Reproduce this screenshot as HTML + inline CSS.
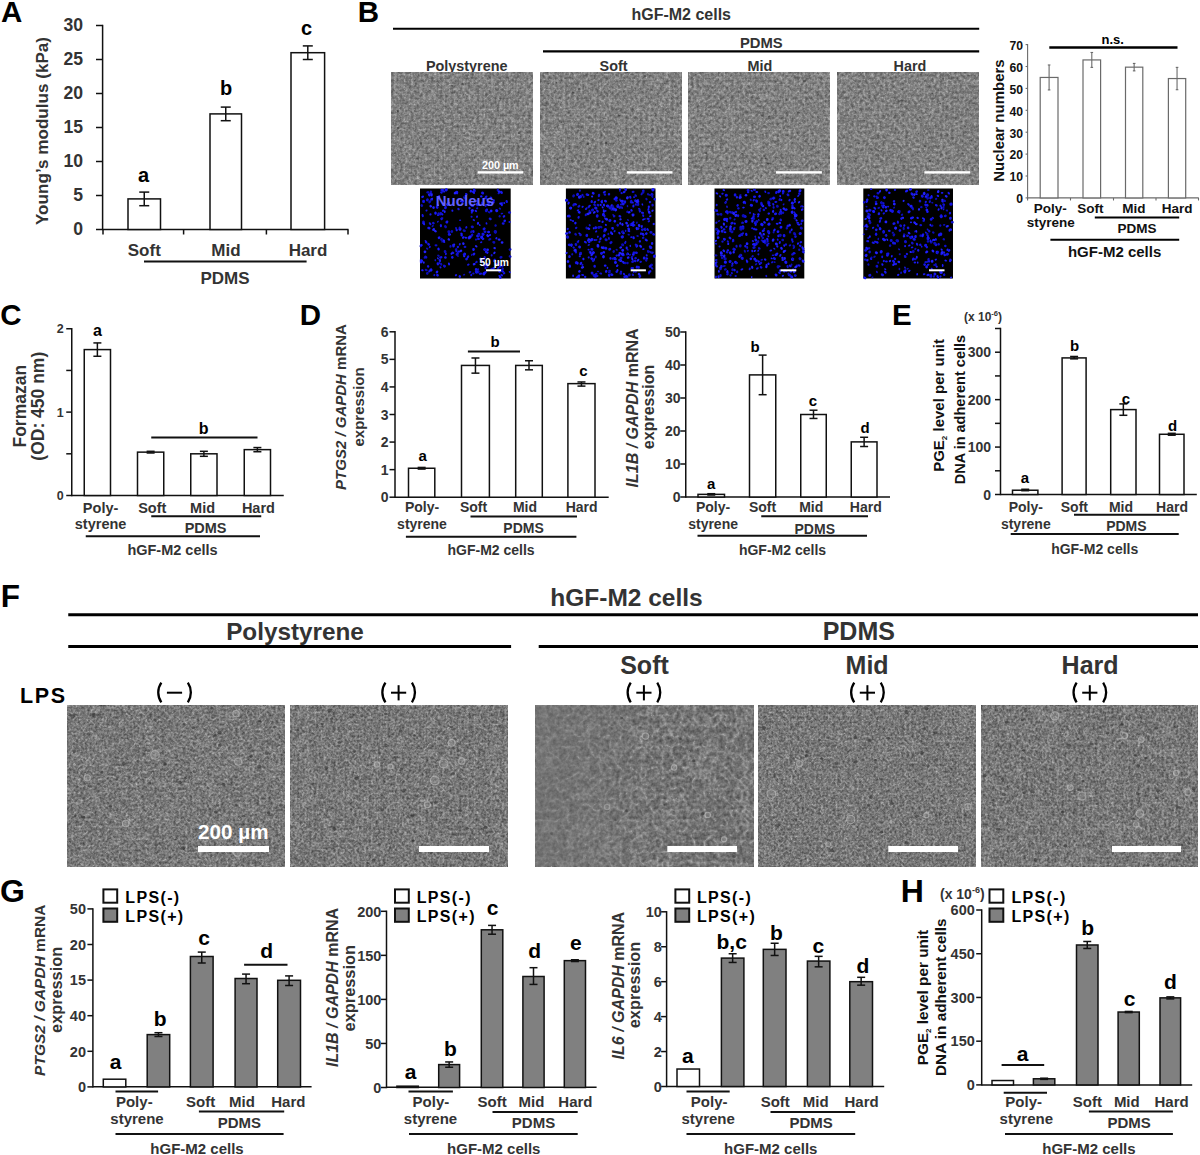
<!DOCTYPE html>
<html><head><meta charset="utf-8"><style>
html,body{margin:0;padding:0;background:#fff;}
svg{display:block;font-family:"Liberation Sans", sans-serif;}
</style></head><body>
<svg width="1200" height="1155" viewBox="0 0 1200 1155">
<defs><filter id="ph11" x="0" y="0" width="100%" height="100%" color-interpolation-filters="sRGB">
<feTurbulence type="turbulence" baseFrequency="0.2" numOctaves="2" seed="11" result="t"/>
<feColorMatrix in="t" type="matrix" values="1 0 0 0 0  1 0 0 0 0  1 0 0 0 0  0 0 0 0 1" result="tg"/>
<feComponentTransfer in="tg" result="ridge"><feFuncR type="table" tableValues="0.58 0.52 0.485 0.47 0.46 0.455 0.45 0.445 0.44 0.43"/><feFuncG type="table" tableValues="0.58 0.52 0.485 0.47 0.46 0.455 0.45 0.445 0.44 0.43"/><feFuncB type="table" tableValues="0.58 0.52 0.485 0.47 0.46 0.455 0.45 0.445 0.44 0.43"/></feComponentTransfer>
<feTurbulence type="fractalNoise" baseFrequency="0.35" numOctaves="2" seed="61" result="n"/>
<feColorMatrix in="n" type="matrix" values="0.42 0 0 0 0  0.42 0 0 0 0  0.42 0 0 0 0  0 0 0 0 1" result="ng"/>
<feComposite in="ridge" in2="ng" operator="arithmetic" k1="0" k2="1" k3="1" k4="-0.198" result="c"/>
<feGaussianBlur in="c" stdDeviation="0.6"/>
</filter><filter id="ph12" x="0" y="0" width="100%" height="100%" color-interpolation-filters="sRGB">
<feTurbulence type="turbulence" baseFrequency="0.2" numOctaves="2" seed="12" result="t"/>
<feColorMatrix in="t" type="matrix" values="1 0 0 0 0  1 0 0 0 0  1 0 0 0 0  0 0 0 0 1" result="tg"/>
<feComponentTransfer in="tg" result="ridge"><feFuncR type="table" tableValues="0.58 0.52 0.485 0.47 0.46 0.455 0.45 0.445 0.44 0.43"/><feFuncG type="table" tableValues="0.58 0.52 0.485 0.47 0.46 0.455 0.45 0.445 0.44 0.43"/><feFuncB type="table" tableValues="0.58 0.52 0.485 0.47 0.46 0.455 0.45 0.445 0.44 0.43"/></feComponentTransfer>
<feTurbulence type="fractalNoise" baseFrequency="0.35" numOctaves="2" seed="62" result="n"/>
<feColorMatrix in="n" type="matrix" values="0.42 0 0 0 0  0.42 0 0 0 0  0.42 0 0 0 0  0 0 0 0 1" result="ng"/>
<feComposite in="ridge" in2="ng" operator="arithmetic" k1="0" k2="1" k3="1" k4="-0.198" result="c"/>
<feGaussianBlur in="c" stdDeviation="0.6"/>
</filter><filter id="ph13" x="0" y="0" width="100%" height="100%" color-interpolation-filters="sRGB">
<feTurbulence type="turbulence" baseFrequency="0.2" numOctaves="2" seed="13" result="t"/>
<feColorMatrix in="t" type="matrix" values="1 0 0 0 0  1 0 0 0 0  1 0 0 0 0  0 0 0 0 1" result="tg"/>
<feComponentTransfer in="tg" result="ridge"><feFuncR type="table" tableValues="0.58 0.52 0.485 0.47 0.46 0.455 0.45 0.445 0.44 0.43"/><feFuncG type="table" tableValues="0.58 0.52 0.485 0.47 0.46 0.455 0.45 0.445 0.44 0.43"/><feFuncB type="table" tableValues="0.58 0.52 0.485 0.47 0.46 0.455 0.45 0.445 0.44 0.43"/></feComponentTransfer>
<feTurbulence type="fractalNoise" baseFrequency="0.35" numOctaves="2" seed="63" result="n"/>
<feColorMatrix in="n" type="matrix" values="0.42 0 0 0 0  0.42 0 0 0 0  0.42 0 0 0 0  0 0 0 0 1" result="ng"/>
<feComposite in="ridge" in2="ng" operator="arithmetic" k1="0" k2="1" k3="1" k4="-0.198" result="c"/>
<feGaussianBlur in="c" stdDeviation="0.6"/>
</filter><filter id="ph14" x="0" y="0" width="100%" height="100%" color-interpolation-filters="sRGB">
<feTurbulence type="turbulence" baseFrequency="0.2" numOctaves="2" seed="14" result="t"/>
<feColorMatrix in="t" type="matrix" values="1 0 0 0 0  1 0 0 0 0  1 0 0 0 0  0 0 0 0 1" result="tg"/>
<feComponentTransfer in="tg" result="ridge"><feFuncR type="table" tableValues="0.58 0.52 0.485 0.47 0.46 0.455 0.45 0.445 0.44 0.43"/><feFuncG type="table" tableValues="0.58 0.52 0.485 0.47 0.46 0.455 0.45 0.445 0.44 0.43"/><feFuncB type="table" tableValues="0.58 0.52 0.485 0.47 0.46 0.455 0.45 0.445 0.44 0.43"/></feComponentTransfer>
<feTurbulence type="fractalNoise" baseFrequency="0.35" numOctaves="2" seed="64" result="n"/>
<feColorMatrix in="n" type="matrix" values="0.42 0 0 0 0  0.42 0 0 0 0  0.42 0 0 0 0  0 0 0 0 1" result="ng"/>
<feComposite in="ridge" in2="ng" operator="arithmetic" k1="0" k2="1" k3="1" k4="-0.198" result="c"/>
<feGaussianBlur in="c" stdDeviation="0.6"/>
</filter><filter id="ph21" x="0" y="0" width="100%" height="100%" color-interpolation-filters="sRGB">
<feTurbulence type="turbulence" baseFrequency="0.15" numOctaves="2" seed="21" result="t"/>
<feColorMatrix in="t" type="matrix" values="1 0 0 0 0  1 0 0 0 0  1 0 0 0 0  0 0 0 0 1" result="tg"/>
<feComponentTransfer in="tg" result="ridge"><feFuncR type="table" tableValues="0.58 0.51 0.465 0.445 0.435 0.43 0.42 0.41 0.40 0.38"/><feFuncG type="table" tableValues="0.58 0.51 0.465 0.445 0.435 0.43 0.42 0.41 0.40 0.38"/><feFuncB type="table" tableValues="0.58 0.51 0.465 0.445 0.435 0.43 0.42 0.41 0.40 0.38"/></feComponentTransfer>
<feTurbulence type="fractalNoise" baseFrequency="0.42" numOctaves="2" seed="71" result="n"/>
<feColorMatrix in="n" type="matrix" values="0.45 0 0 0 0  0.45 0 0 0 0  0.45 0 0 0 0  0 0 0 0 1" result="ng"/>
<feComposite in="ridge" in2="ng" operator="arithmetic" k1="0" k2="1" k3="1" k4="-0.223" result="c"/>
<feGaussianBlur in="c" stdDeviation="0.45"/>
</filter><filter id="ph22" x="0" y="0" width="100%" height="100%" color-interpolation-filters="sRGB">
<feTurbulence type="turbulence" baseFrequency="0.16" numOctaves="2" seed="22" result="t"/>
<feColorMatrix in="t" type="matrix" values="1 0 0 0 0  1 0 0 0 0  1 0 0 0 0  0 0 0 0 1" result="tg"/>
<feComponentTransfer in="tg" result="ridge"><feFuncR type="table" tableValues="0.58 0.51 0.465 0.445 0.435 0.43 0.42 0.41 0.40 0.38"/><feFuncG type="table" tableValues="0.58 0.51 0.465 0.445 0.435 0.43 0.42 0.41 0.40 0.38"/><feFuncB type="table" tableValues="0.58 0.51 0.465 0.445 0.435 0.43 0.42 0.41 0.40 0.38"/></feComponentTransfer>
<feTurbulence type="fractalNoise" baseFrequency="0.42" numOctaves="2" seed="72" result="n"/>
<feColorMatrix in="n" type="matrix" values="0.45 0 0 0 0  0.45 0 0 0 0  0.45 0 0 0 0  0 0 0 0 1" result="ng"/>
<feComposite in="ridge" in2="ng" operator="arithmetic" k1="0" k2="1" k3="1" k4="-0.223" result="c"/>
<feGaussianBlur in="c" stdDeviation="0.45"/>
</filter><filter id="ph23" x="0" y="0" width="100%" height="100%" color-interpolation-filters="sRGB">
<feTurbulence type="turbulence" baseFrequency="0.095" numOctaves="2" seed="23" result="t"/>
<feColorMatrix in="t" type="matrix" values="1 0 0 0 0  1 0 0 0 0  1 0 0 0 0  0 0 0 0 1" result="tg"/>
<feComponentTransfer in="tg" result="ridge"><feFuncR type="table" tableValues="0.60 0.52 0.47 0.445 0.435 0.43 0.42 0.41 0.40 0.38"/><feFuncG type="table" tableValues="0.60 0.52 0.47 0.445 0.435 0.43 0.42 0.41 0.40 0.38"/><feFuncB type="table" tableValues="0.60 0.52 0.47 0.445 0.435 0.43 0.42 0.41 0.40 0.38"/></feComponentTransfer>
<feTurbulence type="fractalNoise" baseFrequency="0.3" numOctaves="2" seed="73" result="n"/>
<feColorMatrix in="n" type="matrix" values="0.35 0 0 0 0  0.35 0 0 0 0  0.35 0 0 0 0  0 0 0 0 1" result="ng"/>
<feComposite in="ridge" in2="ng" operator="arithmetic" k1="0" k2="1" k3="1" k4="-0.183" result="c"/>
<feGaussianBlur in="c" stdDeviation="0.45"/>
</filter><linearGradient id="softfade" x1="0" y1="0" x2="1" y2="0"><stop offset="0" stop-color="#747474" stop-opacity="0.55"/><stop offset="0.3" stop-color="#747474" stop-opacity="0.3"/><stop offset="0.55" stop-color="#747474" stop-opacity="0"/></linearGradient><filter id="ph24" x="0" y="0" width="100%" height="100%" color-interpolation-filters="sRGB">
<feTurbulence type="turbulence" baseFrequency="0.19" numOctaves="2" seed="24" result="t"/>
<feColorMatrix in="t" type="matrix" values="1 0 0 0 0  1 0 0 0 0  1 0 0 0 0  0 0 0 0 1" result="tg"/>
<feComponentTransfer in="tg" result="ridge"><feFuncR type="table" tableValues="0.58 0.51 0.465 0.445 0.435 0.43 0.42 0.41 0.40 0.38"/><feFuncG type="table" tableValues="0.58 0.51 0.465 0.445 0.435 0.43 0.42 0.41 0.40 0.38"/><feFuncB type="table" tableValues="0.58 0.51 0.465 0.445 0.435 0.43 0.42 0.41 0.40 0.38"/></feComponentTransfer>
<feTurbulence type="fractalNoise" baseFrequency="0.42" numOctaves="2" seed="74" result="n"/>
<feColorMatrix in="n" type="matrix" values="0.45 0 0 0 0  0.45 0 0 0 0  0.45 0 0 0 0  0 0 0 0 1" result="ng"/>
<feComposite in="ridge" in2="ng" operator="arithmetic" k1="0" k2="1" k3="1" k4="-0.223" result="c"/>
<feGaussianBlur in="c" stdDeviation="0.45"/>
</filter><filter id="ph25" x="0" y="0" width="100%" height="100%" color-interpolation-filters="sRGB">
<feTurbulence type="turbulence" baseFrequency="0.14" numOctaves="2" seed="25" result="t"/>
<feColorMatrix in="t" type="matrix" values="1 0 0 0 0  1 0 0 0 0  1 0 0 0 0  0 0 0 0 1" result="tg"/>
<feComponentTransfer in="tg" result="ridge"><feFuncR type="table" tableValues="0.58 0.51 0.465 0.445 0.435 0.43 0.42 0.41 0.40 0.38"/><feFuncG type="table" tableValues="0.58 0.51 0.465 0.445 0.435 0.43 0.42 0.41 0.40 0.38"/><feFuncB type="table" tableValues="0.58 0.51 0.465 0.445 0.435 0.43 0.42 0.41 0.40 0.38"/></feComponentTransfer>
<feTurbulence type="fractalNoise" baseFrequency="0.42" numOctaves="2" seed="75" result="n"/>
<feColorMatrix in="n" type="matrix" values="0.45 0 0 0 0  0.45 0 0 0 0  0.45 0 0 0 0  0 0 0 0 1" result="ng"/>
<feComposite in="ridge" in2="ng" operator="arithmetic" k1="0" k2="1" k3="1" k4="-0.223" result="c"/>
<feGaussianBlur in="c" stdDeviation="0.45"/>
</filter></defs>
<text x="1.00" y="22.00" font-size="29.5" text-anchor="start" fill="#000" font-weight="bold">A</text>
<line x1="102.60" y1="24.80" x2="102.60" y2="230.20" stroke="#111" stroke-width="1.5"/>
<line x1="102.60" y1="229.50" x2="348.50" y2="229.50" stroke="#111" stroke-width="1.5"/>
<line x1="96.00" y1="229.50" x2="102.60" y2="229.50" stroke="#111" stroke-width="1.5"/>
<text x="83.00" y="235.30" font-size="17.6" text-anchor="end" fill="#333" font-weight="bold">0</text>
<line x1="96.00" y1="195.50" x2="102.60" y2="195.50" stroke="#111" stroke-width="1.5"/>
<text x="83.00" y="201.30" font-size="17.6" text-anchor="end" fill="#333" font-weight="bold">5</text>
<line x1="96.00" y1="161.50" x2="102.60" y2="161.50" stroke="#111" stroke-width="1.5"/>
<text x="83.00" y="167.30" font-size="17.6" text-anchor="end" fill="#333" font-weight="bold">10</text>
<line x1="96.00" y1="127.50" x2="102.60" y2="127.50" stroke="#111" stroke-width="1.5"/>
<text x="83.00" y="133.30" font-size="17.6" text-anchor="end" fill="#333" font-weight="bold">15</text>
<line x1="96.00" y1="93.50" x2="102.60" y2="93.50" stroke="#111" stroke-width="1.5"/>
<text x="83.00" y="99.30" font-size="17.6" text-anchor="end" fill="#333" font-weight="bold">20</text>
<line x1="96.00" y1="59.50" x2="102.60" y2="59.50" stroke="#111" stroke-width="1.5"/>
<text x="83.00" y="65.30" font-size="17.6" text-anchor="end" fill="#333" font-weight="bold">25</text>
<line x1="96.00" y1="25.50" x2="102.60" y2="25.50" stroke="#111" stroke-width="1.5"/>
<text x="83.00" y="31.30" font-size="17.6" text-anchor="end" fill="#333" font-weight="bold">30</text>
<line x1="103.00" y1="229.50" x2="103.00" y2="234.50" stroke="#111" stroke-width="1.5"/>
<line x1="183.60" y1="229.50" x2="183.60" y2="234.50" stroke="#111" stroke-width="1.5"/>
<line x1="266.40" y1="229.50" x2="266.40" y2="234.50" stroke="#111" stroke-width="1.5"/>
<line x1="348.00" y1="229.50" x2="348.00" y2="234.50" stroke="#111" stroke-width="1.5"/>
<rect x="128.00" y="198.90" width="32.50" height="30.60" fill="#fff" stroke="#111" stroke-width="1.5"/>
<line x1="144.25" y1="192.10" x2="144.25" y2="205.70" stroke="#111" stroke-width="1.5"/>
<line x1="139.25" y1="192.10" x2="149.25" y2="192.10" stroke="#111" stroke-width="1.5"/>
<line x1="139.25" y1="205.70" x2="149.25" y2="205.70" stroke="#111" stroke-width="1.5"/>
<rect x="210.00" y="113.90" width="31.50" height="115.60" fill="#fff" stroke="#111" stroke-width="1.5"/>
<line x1="225.75" y1="107.10" x2="225.75" y2="120.70" stroke="#111" stroke-width="1.5"/>
<line x1="220.75" y1="107.10" x2="230.75" y2="107.10" stroke="#111" stroke-width="1.5"/>
<line x1="220.75" y1="120.70" x2="230.75" y2="120.70" stroke="#111" stroke-width="1.5"/>
<rect x="291.00" y="52.70" width="33.60" height="176.80" fill="#fff" stroke="#111" stroke-width="1.5"/>
<line x1="307.80" y1="45.90" x2="307.80" y2="59.50" stroke="#111" stroke-width="1.5"/>
<line x1="302.80" y1="45.90" x2="312.80" y2="45.90" stroke="#111" stroke-width="1.5"/>
<line x1="302.80" y1="59.50" x2="312.80" y2="59.50" stroke="#111" stroke-width="1.5"/>
<text x="143.50" y="181.50" font-size="20" text-anchor="middle" fill="#000" font-weight="bold">a</text>
<text x="226.00" y="95.40" font-size="20" text-anchor="middle" fill="#000" font-weight="bold">b</text>
<text x="306.60" y="34.50" font-size="20" text-anchor="middle" fill="#000" font-weight="bold">c</text>
<text x="144.30" y="255.60" font-size="17" text-anchor="middle" fill="#333" font-weight="bold">Soft</text>
<text x="226.00" y="255.60" font-size="17" text-anchor="middle" fill="#333" font-weight="bold">Mid</text>
<text x="308.00" y="255.60" font-size="17" text-anchor="middle" fill="#333" font-weight="bold">Hard</text>
<line x1="144.00" y1="261.60" x2="306.60" y2="261.60" stroke="#111" stroke-width="2"/>
<text x="225.00" y="284.40" font-size="17" text-anchor="middle" fill="#333" font-weight="bold">PDMS</text>
<text transform="translate(48.00 131.00) rotate(-90)" font-size="17.1" text-anchor="middle" fill="#333" font-weight="bold">Young’s modulus (kPa)</text>
<text x="357.80" y="22.00" font-size="29.5" text-anchor="start" fill="#000" font-weight="bold">B</text>
<text x="681.20" y="20.00" font-size="16" text-anchor="middle" fill="#333" font-weight="bold">hGF-M2 cells</text>
<line x1="393.00" y1="28.80" x2="979.20" y2="28.80" stroke="#000" stroke-width="2.1"/>
<text x="761.30" y="47.50" font-size="14.8" text-anchor="middle" fill="#333" font-weight="bold">PDMS</text>
<line x1="543.00" y1="51.40" x2="979.20" y2="51.40" stroke="#000" stroke-width="2.1"/>
<text x="466.70" y="70.70" font-size="14.4" text-anchor="middle" fill="#333" font-weight="bold">Polystyrene</text>
<text x="613.60" y="70.70" font-size="14.4" text-anchor="middle" fill="#333" font-weight="bold">Soft</text>
<text x="760.00" y="70.70" font-size="14.4" text-anchor="middle" fill="#333" font-weight="bold">Mid</text>
<text x="909.90" y="70.70" font-size="14.4" text-anchor="middle" fill="#333" font-weight="bold">Hard</text>
<rect x="391.60" y="72.80" width="141.10" height="112.00" fill="#777" filter="url(#ph11)"/>
<g fill="#2e2e2e" opacity="0.55"><ellipse cx="517.1" cy="166.0" rx="0.8" ry="0.6"/><ellipse cx="427.6" cy="153.5" rx="1.1" ry="0.9"/><ellipse cx="497.5" cy="138.0" rx="1.3" ry="0.8"/><ellipse cx="476.7" cy="177.4" rx="1.2" ry="0.8"/><ellipse cx="511.4" cy="178.5" rx="1.0" ry="0.8"/><ellipse cx="452.3" cy="85.7" rx="1.2" ry="0.8"/><ellipse cx="421.0" cy="143.3" rx="1.3" ry="1.1"/><ellipse cx="499.2" cy="148.8" rx="1.1" ry="1.1"/><ellipse cx="499.5" cy="136.5" rx="1.0" ry="0.7"/><ellipse cx="520.5" cy="151.9" rx="1.0" ry="0.7"/><ellipse cx="462.7" cy="83.7" rx="0.9" ry="0.7"/><ellipse cx="397.4" cy="163.9" rx="0.9" ry="0.9"/><ellipse cx="471.9" cy="77.9" rx="1.2" ry="0.7"/><ellipse cx="397.9" cy="128.0" rx="1.1" ry="0.9"/><ellipse cx="500.4" cy="98.4" rx="1.1" ry="1.0"/><ellipse cx="518.9" cy="133.2" rx="1.1" ry="1.1"/><ellipse cx="394.8" cy="153.1" rx="1.3" ry="0.9"/><ellipse cx="397.7" cy="110.9" rx="1.0" ry="1.0"/></g>
<rect x="477.70" y="171.2" width="45.70" height="2.4" fill="#fff"/>
<rect x="540.00" y="72.80" width="141.20" height="112.00" fill="#777" filter="url(#ph12)"/>
<g fill="#2e2e2e" opacity="0.55"><ellipse cx="608.9" cy="170.0" rx="0.9" ry="0.7"/><ellipse cx="573.2" cy="92.5" rx="1.4" ry="0.9"/><ellipse cx="618.9" cy="115.7" rx="1.4" ry="0.9"/><ellipse cx="561.2" cy="122.2" rx="0.8" ry="0.6"/><ellipse cx="645.3" cy="76.0" rx="1.1" ry="1.0"/><ellipse cx="557.3" cy="159.4" rx="0.8" ry="0.8"/><ellipse cx="562.5" cy="170.2" rx="1.3" ry="0.9"/><ellipse cx="548.6" cy="83.8" rx="0.9" ry="0.8"/><ellipse cx="579.3" cy="89.2" rx="1.3" ry="1.1"/><ellipse cx="556.5" cy="82.5" rx="0.9" ry="0.9"/><ellipse cx="664.1" cy="149.1" rx="1.1" ry="0.7"/><ellipse cx="588.0" cy="143.8" rx="1.3" ry="1.2"/><ellipse cx="588.9" cy="80.2" rx="0.8" ry="0.6"/><ellipse cx="545.6" cy="177.0" rx="1.1" ry="1.1"/><ellipse cx="631.8" cy="86.9" rx="1.0" ry="0.9"/><ellipse cx="606.0" cy="143.1" rx="1.2" ry="1.1"/><ellipse cx="612.0" cy="159.9" rx="1.4" ry="1.1"/><ellipse cx="544.6" cy="105.4" rx="1.1" ry="1.1"/></g>
<rect x="626.80" y="171.2" width="45.60" height="2.4" fill="#fff"/>
<rect x="688.80" y="72.80" width="141.10" height="112.00" fill="#777" filter="url(#ph13)"/>
<g fill="#2e2e2e" opacity="0.55"><ellipse cx="726.3" cy="142.0" rx="1.1" ry="0.7"/><ellipse cx="798.5" cy="112.4" rx="1.3" ry="0.9"/><ellipse cx="768.3" cy="163.6" rx="1.2" ry="0.8"/><ellipse cx="786.1" cy="100.1" rx="0.9" ry="0.8"/><ellipse cx="719.8" cy="107.7" rx="0.8" ry="0.8"/><ellipse cx="769.3" cy="116.5" rx="1.1" ry="0.9"/><ellipse cx="742.3" cy="153.7" rx="1.1" ry="0.7"/><ellipse cx="773.5" cy="114.9" rx="0.9" ry="0.6"/><ellipse cx="804.5" cy="80.9" rx="1.4" ry="1.2"/><ellipse cx="791.1" cy="164.2" rx="1.0" ry="0.7"/><ellipse cx="765.6" cy="158.2" rx="0.9" ry="0.7"/><ellipse cx="706.3" cy="153.2" rx="0.9" ry="0.9"/><ellipse cx="754.9" cy="126.9" rx="0.9" ry="0.7"/><ellipse cx="816.7" cy="167.4" rx="1.1" ry="0.8"/><ellipse cx="717.8" cy="169.5" rx="1.2" ry="1.1"/><ellipse cx="764.3" cy="155.7" rx="1.3" ry="1.3"/><ellipse cx="762.1" cy="115.5" rx="1.4" ry="1.1"/><ellipse cx="728.8" cy="167.2" rx="1.0" ry="0.7"/></g>
<rect x="776.00" y="171.2" width="45.90" height="2.4" fill="#fff"/>
<rect x="837.30" y="72.80" width="141.40" height="112.00" fill="#777" filter="url(#ph14)"/>
<g fill="#2e2e2e" opacity="0.55"><ellipse cx="901.5" cy="100.5" rx="1.4" ry="1.0"/><ellipse cx="878.8" cy="159.0" rx="1.0" ry="0.8"/><ellipse cx="903.0" cy="174.8" rx="0.9" ry="0.6"/><ellipse cx="943.1" cy="78.8" rx="1.2" ry="0.8"/><ellipse cx="917.5" cy="152.8" rx="0.9" ry="0.6"/><ellipse cx="930.0" cy="160.9" rx="1.3" ry="0.9"/><ellipse cx="902.3" cy="89.5" rx="1.1" ry="1.0"/><ellipse cx="932.2" cy="93.3" rx="1.0" ry="0.9"/><ellipse cx="964.9" cy="126.5" rx="1.3" ry="1.1"/><ellipse cx="899.4" cy="139.6" rx="1.0" ry="0.7"/><ellipse cx="962.6" cy="153.5" rx="1.2" ry="0.9"/><ellipse cx="901.9" cy="97.1" rx="0.9" ry="0.6"/><ellipse cx="967.8" cy="169.1" rx="0.8" ry="0.7"/><ellipse cx="918.5" cy="133.6" rx="0.8" ry="0.8"/><ellipse cx="878.2" cy="150.4" rx="0.8" ry="0.7"/><ellipse cx="940.2" cy="103.4" rx="0.9" ry="0.6"/><ellipse cx="920.1" cy="117.7" rx="1.3" ry="1.0"/><ellipse cx="925.1" cy="146.2" rx="1.2" ry="1.1"/></g>
<rect x="924.30" y="171.2" width="45.80" height="2.4" fill="#fff"/>
<text x="500.30" y="169.00" font-size="10.8" text-anchor="middle" fill="#fff" font-weight="bold">200 µm</text>
<rect x="420.00" y="188.50" width="90.70" height="90.00" fill="#000"/>
<g><ellipse cx="433.6" cy="229.5" rx="1.6" ry="1.3" transform="rotate(132 433.6 229.5)" fill="#2222ff"/><ellipse cx="466.0" cy="198.8" rx="1.2" ry="1.0" transform="rotate(47 466.0 198.8)" fill="#1818f0"/><ellipse cx="504.2" cy="273.3" rx="1.3" ry="1.0" transform="rotate(138 504.2 273.3)" fill="#1414e6"/><ellipse cx="506.7" cy="201.5" rx="1.6" ry="1.2" transform="rotate(74 506.7 201.5)" fill="#1414e6"/><ellipse cx="456.7" cy="230.0" rx="1.3" ry="1.1" transform="rotate(68 456.7 230.0)" fill="#1818f0"/><ellipse cx="477.8" cy="205.1" rx="1.5" ry="1.0" transform="rotate(153 477.8 205.1)" fill="#1414e6"/><ellipse cx="437.8" cy="263.9" rx="1.6" ry="1.2" transform="rotate(81 437.8 263.9)" fill="#1818f0"/><ellipse cx="503.2" cy="223.5" rx="1.5" ry="1.3" transform="rotate(9 503.2 223.5)" fill="#1414e6"/><ellipse cx="484.8" cy="258.0" rx="1.4" ry="1.0" transform="rotate(106 484.8 258.0)" fill="#0c0cb8"/><ellipse cx="481.7" cy="237.3" rx="1.7" ry="1.6" transform="rotate(72 481.7 237.3)" fill="#1a1aff"/><ellipse cx="493.5" cy="268.3" rx="1.5" ry="1.1" transform="rotate(153 493.5 268.3)" fill="#1818f0"/><ellipse cx="484.6" cy="257.3" rx="1.4" ry="1.1" transform="rotate(105 484.6 257.3)" fill="#1414e6"/><ellipse cx="425.7" cy="241.1" rx="1.3" ry="0.9" transform="rotate(50 425.7 241.1)" fill="#1818f0"/><ellipse cx="431.4" cy="193.5" rx="1.5" ry="1.0" transform="rotate(56 431.4 193.5)" fill="#0c0cb8"/><ellipse cx="439.9" cy="260.6" rx="1.5" ry="1.2" transform="rotate(82 439.9 260.6)" fill="#1818f0"/><ellipse cx="430.7" cy="206.2" rx="1.4" ry="1.2" transform="rotate(38 430.7 206.2)" fill="#2222ff"/><ellipse cx="485.5" cy="198.3" rx="1.5" ry="1.0" transform="rotate(177 485.5 198.3)" fill="#1818f0"/><ellipse cx="463.3" cy="237.5" rx="1.5" ry="1.1" transform="rotate(144 463.3 237.5)" fill="#1a1aff"/><ellipse cx="509.8" cy="272.1" rx="1.2" ry="0.8" transform="rotate(38 509.8 272.1)" fill="#1a1aff"/><ellipse cx="431.5" cy="194.9" rx="1.7" ry="1.3" transform="rotate(97 431.5 194.9)" fill="#2222ff"/><ellipse cx="460.9" cy="250.9" rx="1.4" ry="1.2" transform="rotate(154 460.9 250.9)" fill="#2222ff"/><ellipse cx="433.5" cy="207.6" rx="1.3" ry="1.3" transform="rotate(108 433.5 207.6)" fill="#2222ff"/><ellipse cx="496.6" cy="263.9" rx="1.2" ry="0.8" transform="rotate(9 496.6 263.9)" fill="#1010d0"/><ellipse cx="420.8" cy="259.9" rx="1.1" ry="0.7" transform="rotate(148 420.8 259.9)" fill="#1010d0"/><ellipse cx="441.3" cy="189.9" rx="1.1" ry="0.8" transform="rotate(116 441.3 189.9)" fill="#1818f0"/><ellipse cx="422.6" cy="196.7" rx="1.5" ry="1.1" transform="rotate(160 422.6 196.7)" fill="#1a1aff"/><ellipse cx="485.8" cy="205.4" rx="1.7" ry="1.1" transform="rotate(111 485.8 205.4)" fill="#1010d0"/><ellipse cx="496.4" cy="238.3" rx="1.2" ry="1.0" transform="rotate(123 496.4 238.3)" fill="#1a1aff"/><ellipse cx="483.6" cy="234.2" rx="1.2" ry="0.9" transform="rotate(80 483.6 234.2)" fill="#1414e6"/><ellipse cx="502.1" cy="242.5" rx="1.4" ry="1.3" transform="rotate(13 502.1 242.5)" fill="#2222ff"/><ellipse cx="477.3" cy="201.1" rx="1.5" ry="1.2" transform="rotate(20 477.3 201.1)" fill="#1010d0"/><ellipse cx="431.8" cy="198.9" rx="1.5" ry="1.0" transform="rotate(145 431.8 198.9)" fill="#2222ff"/><ellipse cx="484.0" cy="265.6" rx="1.2" ry="0.8" transform="rotate(79 484.0 265.6)" fill="#1a1aff"/><ellipse cx="471.3" cy="231.8" rx="1.5" ry="1.1" transform="rotate(121 471.3 231.8)" fill="#0c0cb8"/><ellipse cx="471.3" cy="275.0" rx="1.2" ry="1.0" transform="rotate(105 471.3 275.0)" fill="#1414e6"/><ellipse cx="504.7" cy="220.9" rx="1.4" ry="1.2" transform="rotate(131 504.7 220.9)" fill="#1818f0"/><ellipse cx="495.3" cy="264.0" rx="1.2" ry="1.1" transform="rotate(141 495.3 264.0)" fill="#1010d0"/><ellipse cx="440.8" cy="257.4" rx="1.7" ry="1.2" transform="rotate(165 440.8 257.4)" fill="#1414e6"/><ellipse cx="465.9" cy="237.8" rx="1.2" ry="1.0" transform="rotate(9 465.9 237.8)" fill="#2222ff"/><ellipse cx="451.9" cy="231.5" rx="1.4" ry="1.3" transform="rotate(121 451.9 231.5)" fill="#0c0cb8"/><ellipse cx="473.3" cy="191.6" rx="1.4" ry="1.3" transform="rotate(138 473.3 191.6)" fill="#1818f0"/><ellipse cx="437.0" cy="272.0" rx="1.5" ry="1.2" transform="rotate(125 437.0 272.0)" fill="#1a1aff"/><ellipse cx="440.5" cy="267.3" rx="1.2" ry="0.9" transform="rotate(55 440.5 267.3)" fill="#1818f0"/><ellipse cx="459.8" cy="244.2" rx="1.3" ry="0.9" transform="rotate(107 459.8 244.2)" fill="#1818f0"/><ellipse cx="476.0" cy="272.2" rx="1.5" ry="1.0" transform="rotate(57 476.0 272.2)" fill="#1414e6"/><ellipse cx="448.7" cy="202.6" rx="1.2" ry="1.1" transform="rotate(163 448.7 202.6)" fill="#1414e6"/><ellipse cx="502.0" cy="203.4" rx="1.5" ry="1.4" transform="rotate(8 502.0 203.4)" fill="#0c0cb8"/><ellipse cx="460.1" cy="220.2" rx="1.1" ry="0.8" transform="rotate(178 460.1 220.2)" fill="#1414e6"/><ellipse cx="437.9" cy="205.1" rx="1.3" ry="0.9" transform="rotate(53 437.9 205.1)" fill="#2222ff"/><ellipse cx="443.8" cy="191.4" rx="1.3" ry="1.1" transform="rotate(32 443.8 191.4)" fill="#1818f0"/><ellipse cx="457.8" cy="253.1" rx="1.2" ry="1.0" transform="rotate(85 457.8 253.1)" fill="#1414e6"/><ellipse cx="489.9" cy="235.1" rx="1.3" ry="0.9" transform="rotate(151 489.9 235.1)" fill="#1a1aff"/><ellipse cx="444.2" cy="242.1" rx="1.1" ry="0.8" transform="rotate(7 444.2 242.1)" fill="#1818f0"/><ellipse cx="443.7" cy="240.8" rx="1.4" ry="1.3" transform="rotate(52 443.7 240.8)" fill="#2222ff"/><ellipse cx="453.1" cy="203.0" rx="1.2" ry="0.8" transform="rotate(89 453.1 203.0)" fill="#2222ff"/><ellipse cx="475.9" cy="211.0" rx="1.4" ry="1.0" transform="rotate(38 475.9 211.0)" fill="#1a1aff"/><ellipse cx="442.5" cy="190.7" rx="1.6" ry="1.2" transform="rotate(87 442.5 190.7)" fill="#1010d0"/><ellipse cx="457.0" cy="193.0" rx="1.3" ry="1.0" transform="rotate(62 457.0 193.0)" fill="#1818f0"/><ellipse cx="482.9" cy="234.3" rx="1.6" ry="1.4" transform="rotate(67 482.9 234.3)" fill="#1414e6"/><ellipse cx="456.7" cy="192.5" rx="1.7" ry="1.6" transform="rotate(96 456.7 192.5)" fill="#1818f0"/><ellipse cx="499.0" cy="262.3" rx="1.3" ry="1.0" transform="rotate(167 499.0 262.3)" fill="#0c0cb8"/><ellipse cx="445.4" cy="257.5" rx="1.4" ry="1.3" transform="rotate(8 445.4 257.5)" fill="#1818f0"/><ellipse cx="477.0" cy="216.7" rx="1.2" ry="1.0" transform="rotate(110 477.0 216.7)" fill="#1818f0"/><ellipse cx="439.2" cy="196.6" rx="1.5" ry="1.0" transform="rotate(73 439.2 196.6)" fill="#1a1aff"/><ellipse cx="456.0" cy="275.2" rx="1.2" ry="1.0" transform="rotate(151 456.0 275.2)" fill="#1818f0"/><ellipse cx="487.6" cy="249.7" rx="1.4" ry="1.3" transform="rotate(0 487.6 249.7)" fill="#2222ff"/><ellipse cx="421.3" cy="262.0" rx="1.5" ry="1.3" transform="rotate(143 421.3 262.0)" fill="#2222ff"/><ellipse cx="477.6" cy="236.1" rx="1.6" ry="1.3" transform="rotate(37 477.6 236.1)" fill="#1818f0"/><ellipse cx="446.2" cy="189.8" rx="1.7" ry="1.6" transform="rotate(139 446.2 189.8)" fill="#1818f0"/><ellipse cx="472.3" cy="210.6" rx="1.7" ry="1.5" transform="rotate(136 472.3 210.6)" fill="#2222ff"/><ellipse cx="495.6" cy="225.5" rx="1.3" ry="1.2" transform="rotate(69 495.6 225.5)" fill="#0c0cb8"/><ellipse cx="484.3" cy="249.3" rx="1.2" ry="1.0" transform="rotate(140 484.3 249.3)" fill="#1a1aff"/><ellipse cx="466.3" cy="194.2" rx="1.4" ry="1.1" transform="rotate(40 466.3 194.2)" fill="#1a1aff"/><ellipse cx="427.2" cy="248.6" rx="1.3" ry="1.0" transform="rotate(29 427.2 248.6)" fill="#0c0cb8"/><ellipse cx="463.4" cy="243.6" rx="1.4" ry="1.2" transform="rotate(63 463.4 243.6)" fill="#2222ff"/><ellipse cx="445.5" cy="226.6" rx="1.7" ry="1.3" transform="rotate(52 445.5 226.6)" fill="#0c0cb8"/><ellipse cx="423.5" cy="222.2" rx="1.6" ry="1.4" transform="rotate(86 423.5 222.2)" fill="#1010d0"/><ellipse cx="459.8" cy="276.4" rx="1.4" ry="1.2" transform="rotate(65 459.8 276.4)" fill="#1a1aff"/><ellipse cx="427.4" cy="199.9" rx="1.6" ry="1.4" transform="rotate(119 427.4 199.9)" fill="#1010d0"/><ellipse cx="425.0" cy="251.8" rx="1.4" ry="1.3" transform="rotate(155 425.0 251.8)" fill="#2222ff"/><ellipse cx="491.7" cy="269.4" rx="1.6" ry="1.5" transform="rotate(161 491.7 269.4)" fill="#1010d0"/><ellipse cx="473.5" cy="249.1" rx="1.2" ry="1.0" transform="rotate(60 473.5 249.1)" fill="#1414e6"/><ellipse cx="472.0" cy="235.1" rx="1.7" ry="1.2" transform="rotate(116 472.0 235.1)" fill="#1010d0"/><ellipse cx="444.3" cy="203.0" rx="1.3" ry="1.0" transform="rotate(91 444.3 203.0)" fill="#1414e6"/><ellipse cx="441.5" cy="219.0" rx="1.3" ry="1.1" transform="rotate(73 441.5 219.0)" fill="#1818f0"/><ellipse cx="436.0" cy="245.3" rx="1.5" ry="1.1" transform="rotate(180 436.0 245.3)" fill="#1010d0"/><ellipse cx="495.2" cy="232.1" rx="1.7" ry="1.4" transform="rotate(50 495.2 232.1)" fill="#1010d0"/><ellipse cx="423.2" cy="222.9" rx="1.3" ry="1.0" transform="rotate(151 423.2 222.9)" fill="#0c0cb8"/><ellipse cx="457.1" cy="254.4" rx="1.5" ry="1.4" transform="rotate(131 457.1 254.4)" fill="#1010d0"/><ellipse cx="473.8" cy="220.1" rx="1.3" ry="0.9" transform="rotate(33 473.8 220.1)" fill="#1818f0"/><ellipse cx="431.7" cy="199.6" rx="1.4" ry="1.0" transform="rotate(11 431.7 199.6)" fill="#1818f0"/><ellipse cx="488.6" cy="232.0" rx="1.5" ry="1.3" transform="rotate(13 488.6 232.0)" fill="#1a1aff"/><ellipse cx="450.5" cy="246.3" rx="1.4" ry="1.1" transform="rotate(99 450.5 246.3)" fill="#0c0cb8"/><ellipse cx="499.1" cy="239.7" rx="1.5" ry="1.1" transform="rotate(4 499.1 239.7)" fill="#2222ff"/><ellipse cx="471.7" cy="254.9" rx="1.1" ry="0.7" transform="rotate(98 471.7 254.9)" fill="#0c0cb8"/><ellipse cx="487.6" cy="235.7" rx="1.7" ry="1.1" transform="rotate(63 487.6 235.7)" fill="#2222ff"/><ellipse cx="485.4" cy="265.2" rx="1.3" ry="1.1" transform="rotate(4 485.4 265.2)" fill="#1414e6"/><ellipse cx="486.1" cy="251.8" rx="1.4" ry="1.2" transform="rotate(117 486.1 251.8)" fill="#1818f0"/><ellipse cx="469.0" cy="237.8" rx="1.6" ry="1.4" transform="rotate(90 469.0 237.8)" fill="#1a1aff"/><ellipse cx="500.2" cy="266.6" rx="1.4" ry="1.1" transform="rotate(150 500.2 266.6)" fill="#1818f0"/><ellipse cx="441.4" cy="192.5" rx="1.3" ry="1.1" transform="rotate(18 441.4 192.5)" fill="#1414e6"/><ellipse cx="482.3" cy="262.1" rx="1.2" ry="0.9" transform="rotate(162 482.3 262.1)" fill="#1818f0"/><ellipse cx="471.6" cy="216.7" rx="1.1" ry="1.0" transform="rotate(11 471.6 216.7)" fill="#1010d0"/><ellipse cx="490.9" cy="197.9" rx="1.5" ry="1.3" transform="rotate(52 490.9 197.9)" fill="#1818f0"/><ellipse cx="487.3" cy="267.0" rx="1.2" ry="1.1" transform="rotate(176 487.3 267.0)" fill="#0c0cb8"/><ellipse cx="501.0" cy="257.3" rx="1.6" ry="1.3" transform="rotate(158 501.0 257.3)" fill="#0c0cb8"/><ellipse cx="473.9" cy="254.1" rx="1.6" ry="1.2" transform="rotate(135 473.9 254.1)" fill="#1818f0"/><ellipse cx="447.6" cy="204.3" rx="1.6" ry="1.5" transform="rotate(116 447.6 204.3)" fill="#2222ff"/><ellipse cx="430.9" cy="192.0" rx="1.5" ry="1.3" transform="rotate(95 430.9 192.0)" fill="#0c0cb8"/><ellipse cx="502.3" cy="266.1" rx="1.6" ry="1.2" transform="rotate(116 502.3 266.1)" fill="#0c0cb8"/><ellipse cx="435.3" cy="260.2" rx="1.1" ry="0.8" transform="rotate(103 435.3 260.2)" fill="#1010d0"/><ellipse cx="470.8" cy="191.2" rx="1.4" ry="1.2" transform="rotate(113 470.8 191.2)" fill="#1a1aff"/><ellipse cx="452.9" cy="252.8" rx="1.5" ry="1.2" transform="rotate(21 452.9 252.8)" fill="#1818f0"/><ellipse cx="423.8" cy="262.5" rx="1.2" ry="0.9" transform="rotate(80 423.8 262.5)" fill="#2222ff"/><ellipse cx="464.1" cy="256.1" rx="1.3" ry="1.0" transform="rotate(45 464.1 256.1)" fill="#2222ff"/><ellipse cx="437.5" cy="275.2" rx="1.4" ry="1.3" transform="rotate(38 437.5 275.2)" fill="#1818f0"/><ellipse cx="498.9" cy="191.7" rx="1.6" ry="1.1" transform="rotate(72 498.9 191.7)" fill="#2222ff"/><ellipse cx="476.6" cy="261.9" rx="1.1" ry="1.0" transform="rotate(107 476.6 261.9)" fill="#1010d0"/><ellipse cx="427.7" cy="192.3" rx="1.5" ry="1.2" transform="rotate(163 427.7 192.3)" fill="#0c0cb8"/><ellipse cx="464.1" cy="197.6" rx="1.5" ry="1.0" transform="rotate(68 464.1 197.6)" fill="#0c0cb8"/><ellipse cx="426.2" cy="270.0" rx="1.6" ry="1.1" transform="rotate(19 426.2 270.0)" fill="#0c0cb8"/><ellipse cx="484.1" cy="228.9" rx="1.6" ry="1.4" transform="rotate(148 484.1 228.9)" fill="#1414e6"/><ellipse cx="420.7" cy="246.0" rx="1.2" ry="1.1" transform="rotate(148 420.7 246.0)" fill="#0c0cb8"/><ellipse cx="421.8" cy="205.5" rx="1.5" ry="1.3" transform="rotate(42 421.8 205.5)" fill="#0c0cb8"/><ellipse cx="423.9" cy="223.7" rx="1.6" ry="1.1" transform="rotate(63 423.9 223.7)" fill="#1818f0"/><ellipse cx="471.8" cy="212.4" rx="1.3" ry="1.0" transform="rotate(92 471.8 212.4)" fill="#1414e6"/><ellipse cx="485.3" cy="272.4" rx="1.4" ry="1.3" transform="rotate(168 485.3 272.4)" fill="#1a1aff"/><ellipse cx="421.4" cy="245.2" rx="1.4" ry="1.3" transform="rotate(7 421.4 245.2)" fill="#1a1aff"/><ellipse cx="502.7" cy="269.0" rx="1.5" ry="1.2" transform="rotate(134 502.7 269.0)" fill="#0c0cb8"/><ellipse cx="445.9" cy="254.0" rx="1.2" ry="0.9" transform="rotate(95 445.9 254.0)" fill="#1818f0"/><ellipse cx="422.7" cy="215.6" rx="1.6" ry="1.1" transform="rotate(69 422.7 215.6)" fill="#1414e6"/><ellipse cx="442.0" cy="218.3" rx="1.5" ry="1.0" transform="rotate(159 442.0 218.3)" fill="#1010d0"/><ellipse cx="476.9" cy="204.2" rx="1.4" ry="0.9" transform="rotate(87 476.9 204.2)" fill="#2222ff"/><ellipse cx="435.4" cy="231.1" rx="1.6" ry="1.2" transform="rotate(37 435.4 231.1)" fill="#2222ff"/><ellipse cx="464.0" cy="274.7" rx="1.2" ry="0.8" transform="rotate(167 464.0 274.7)" fill="#0c0cb8"/><ellipse cx="489.1" cy="212.2" rx="1.5" ry="1.0" transform="rotate(32 489.1 212.2)" fill="#0c0cb8"/><ellipse cx="466.6" cy="259.1" rx="1.5" ry="1.3" transform="rotate(139 466.6 259.1)" fill="#1414e6"/><ellipse cx="421.4" cy="260.9" rx="1.7" ry="1.2" transform="rotate(161 421.4 260.9)" fill="#2222ff"/><ellipse cx="499.9" cy="208.6" rx="1.3" ry="0.9" transform="rotate(27 499.9 208.6)" fill="#0c0cb8"/><ellipse cx="494.4" cy="252.9" rx="1.5" ry="1.0" transform="rotate(127 494.4 252.9)" fill="#2222ff"/><ellipse cx="474.0" cy="201.7" rx="1.2" ry="0.9" transform="rotate(146 474.0 201.7)" fill="#1010d0"/><ellipse cx="430.5" cy="214.4" rx="1.2" ry="1.1" transform="rotate(98 430.5 214.4)" fill="#1818f0"/><ellipse cx="427.3" cy="273.3" rx="1.5" ry="1.3" transform="rotate(120 427.3 273.3)" fill="#0c0cb8"/><ellipse cx="487.8" cy="235.8" rx="1.3" ry="1.1" transform="rotate(43 487.8 235.8)" fill="#2222ff"/><ellipse cx="461.6" cy="233.8" rx="1.4" ry="1.0" transform="rotate(31 461.6 233.8)" fill="#1a1aff"/><ellipse cx="443.0" cy="210.7" rx="1.2" ry="0.9" transform="rotate(113 443.0 210.7)" fill="#1a1aff"/><ellipse cx="491.7" cy="255.3" rx="1.2" ry="1.0" transform="rotate(105 491.7 255.3)" fill="#1010d0"/><ellipse cx="437.1" cy="207.3" rx="1.6" ry="1.3" transform="rotate(55 437.1 207.3)" fill="#1414e6"/><ellipse cx="500.7" cy="203.7" rx="1.6" ry="1.1" transform="rotate(17 500.7 203.7)" fill="#2222ff"/><ellipse cx="499.5" cy="264.3" rx="1.1" ry="1.0" transform="rotate(140 499.5 264.3)" fill="#0c0cb8"/><ellipse cx="430.1" cy="193.6" rx="1.1" ry="0.7" transform="rotate(79 430.1 193.6)" fill="#2222ff"/><ellipse cx="493.8" cy="242.3" rx="1.6" ry="1.3" transform="rotate(25 493.8 242.3)" fill="#0c0cb8"/><ellipse cx="437.9" cy="258.4" rx="1.2" ry="0.8" transform="rotate(58 437.9 258.4)" fill="#2222ff"/><ellipse cx="510.1" cy="256.4" rx="1.5" ry="1.3" transform="rotate(42 510.1 256.4)" fill="#0c0cb8"/><ellipse cx="440.9" cy="225.7" rx="1.6" ry="1.1" transform="rotate(90 440.9 225.7)" fill="#1818f0"/><ellipse cx="458.5" cy="209.1" rx="1.3" ry="1.1" transform="rotate(37 458.5 209.1)" fill="#1414e6"/><ellipse cx="501.4" cy="192.4" rx="1.7" ry="1.3" transform="rotate(50 501.4 192.4)" fill="#1818f0"/><ellipse cx="499.4" cy="271.6" rx="1.2" ry="1.1" transform="rotate(49 499.4 271.6)" fill="#1818f0"/><ellipse cx="438.4" cy="214.9" rx="1.5" ry="1.0" transform="rotate(149 438.4 214.9)" fill="#1a1aff"/><ellipse cx="479.7" cy="225.1" rx="1.1" ry="0.8" transform="rotate(46 479.7 225.1)" fill="#1818f0"/><ellipse cx="424.6" cy="257.6" rx="1.2" ry="0.9" transform="rotate(128 424.6 257.6)" fill="#0c0cb8"/><ellipse cx="453.8" cy="244.7" rx="1.5" ry="1.1" transform="rotate(151 453.8 244.7)" fill="#2222ff"/><ellipse cx="501.9" cy="205.0" rx="1.3" ry="1.0" transform="rotate(79 501.9 205.0)" fill="#1a1aff"/><ellipse cx="433.4" cy="223.1" rx="1.2" ry="0.9" transform="rotate(16 433.4 223.1)" fill="#0c0cb8"/><ellipse cx="423.4" cy="201.4" rx="1.5" ry="1.3" transform="rotate(78 423.4 201.4)" fill="#1414e6"/><ellipse cx="486.6" cy="210.1" rx="1.7" ry="1.2" transform="rotate(115 486.6 210.1)" fill="#1a1aff"/><ellipse cx="448.9" cy="231.7" rx="1.6" ry="1.5" transform="rotate(16 448.9 231.7)" fill="#0c0cb8"/><ellipse cx="509.5" cy="212.5" rx="1.5" ry="1.3" transform="rotate(178 509.5 212.5)" fill="#1010d0"/><ellipse cx="426.5" cy="210.5" rx="1.1" ry="1.0" transform="rotate(120 426.5 210.5)" fill="#1414e6"/><ellipse cx="456.1" cy="249.6" rx="1.5" ry="1.2" transform="rotate(123 456.1 249.6)" fill="#0c0cb8"/><ellipse cx="425.8" cy="257.1" rx="1.7" ry="1.4" transform="rotate(36 425.8 257.1)" fill="#1010d0"/><ellipse cx="483.1" cy="239.0" rx="1.4" ry="1.1" transform="rotate(142 483.1 239.0)" fill="#1818f0"/><ellipse cx="458.9" cy="251.5" rx="1.3" ry="1.1" transform="rotate(7 458.9 251.5)" fill="#1818f0"/><ellipse cx="491.2" cy="210.9" rx="1.4" ry="1.3" transform="rotate(51 491.2 210.9)" fill="#1a1aff"/><ellipse cx="509.6" cy="222.0" rx="1.2" ry="1.1" transform="rotate(177 509.6 222.0)" fill="#1414e6"/><ellipse cx="472.3" cy="226.9" rx="1.6" ry="1.4" transform="rotate(10 472.3 226.9)" fill="#1010d0"/><ellipse cx="455.1" cy="193.0" rx="1.5" ry="1.2" transform="rotate(139 455.1 193.0)" fill="#2222ff"/><ellipse cx="481.4" cy="204.3" rx="1.2" ry="0.8" transform="rotate(154 481.4 204.3)" fill="#0c0cb8"/><ellipse cx="483.9" cy="273.7" rx="1.7" ry="1.5" transform="rotate(110 483.9 273.7)" fill="#1a1aff"/><ellipse cx="486.2" cy="196.7" rx="1.4" ry="1.1" transform="rotate(143 486.2 196.7)" fill="#1414e6"/><ellipse cx="486.3" cy="210.7" rx="1.5" ry="1.4" transform="rotate(45 486.3 210.7)" fill="#1010d0"/><ellipse cx="470.0" cy="272.2" rx="1.4" ry="1.1" transform="rotate(143 470.0 272.2)" fill="#1010d0"/><ellipse cx="510.1" cy="249.5" rx="1.5" ry="1.3" transform="rotate(145 510.1 249.5)" fill="#0c0cb8"/><ellipse cx="485.1" cy="249.7" rx="1.6" ry="1.2" transform="rotate(146 485.1 249.7)" fill="#1010d0"/><ellipse cx="482.6" cy="193.0" rx="1.6" ry="1.5" transform="rotate(27 482.6 193.0)" fill="#1414e6"/><ellipse cx="451.5" cy="253.7" rx="1.1" ry="1.0" transform="rotate(135 451.5 253.7)" fill="#2222ff"/><ellipse cx="488.3" cy="202.3" rx="1.7" ry="1.5" transform="rotate(28 488.3 202.3)" fill="#1818f0"/><ellipse cx="476.1" cy="239.6" rx="1.2" ry="1.0" transform="rotate(173 476.1 239.6)" fill="#0c0cb8"/><ellipse cx="460.0" cy="229.1" rx="1.7" ry="1.5" transform="rotate(122 460.0 229.1)" fill="#1818f0"/><ellipse cx="501.9" cy="213.6" rx="1.3" ry="0.8" transform="rotate(162 501.9 213.6)" fill="#1010d0"/><ellipse cx="474.1" cy="189.9" rx="1.5" ry="1.1" transform="rotate(74 474.1 189.9)" fill="#1414e6"/><ellipse cx="444.4" cy="266.0" rx="1.6" ry="1.2" transform="rotate(39 444.4 266.0)" fill="#1010d0"/><ellipse cx="497.8" cy="190.0" rx="1.4" ry="1.1" transform="rotate(115 497.8 190.0)" fill="#0c0cb8"/><ellipse cx="476.2" cy="262.3" rx="1.2" ry="0.9" transform="rotate(168 476.2 262.3)" fill="#1010d0"/><ellipse cx="439.1" cy="237.7" rx="1.5" ry="1.3" transform="rotate(135 439.1 237.7)" fill="#1a1aff"/><ellipse cx="499.7" cy="276.2" rx="1.5" ry="1.0" transform="rotate(25 499.7 276.2)" fill="#1a1aff"/><ellipse cx="459.6" cy="227.7" rx="1.2" ry="1.0" transform="rotate(113 459.6 227.7)" fill="#1010d0"/><ellipse cx="437.9" cy="221.7" rx="1.1" ry="0.7" transform="rotate(124 437.9 221.7)" fill="#1818f0"/><ellipse cx="477.9" cy="269.4" rx="1.3" ry="1.0" transform="rotate(166 477.9 269.4)" fill="#1010d0"/><ellipse cx="430.1" cy="223.7" rx="1.7" ry="1.1" transform="rotate(53 430.1 223.7)" fill="#1414e6"/><ellipse cx="470.1" cy="237.0" rx="1.6" ry="1.5" transform="rotate(129 470.1 237.0)" fill="#2222ff"/><ellipse cx="487.4" cy="264.7" rx="1.7" ry="1.4" transform="rotate(83 487.4 264.7)" fill="#2222ff"/><ellipse cx="426.2" cy="242.2" rx="1.3" ry="1.2" transform="rotate(32 426.2 242.2)" fill="#1818f0"/><ellipse cx="457.9" cy="247.0" rx="1.2" ry="1.1" transform="rotate(153 457.9 247.0)" fill="#1414e6"/><ellipse cx="461.1" cy="201.1" rx="1.3" ry="0.9" transform="rotate(154 461.1 201.1)" fill="#2222ff"/><ellipse cx="494.4" cy="260.9" rx="1.5" ry="1.3" transform="rotate(108 494.4 260.9)" fill="#1a1aff"/><ellipse cx="473.8" cy="192.6" rx="1.5" ry="1.1" transform="rotate(54 473.8 192.6)" fill="#1a1aff"/><ellipse cx="430.0" cy="201.5" rx="1.5" ry="1.2" transform="rotate(130 430.0 201.5)" fill="#0c0cb8"/><ellipse cx="493.8" cy="200.5" rx="1.2" ry="1.1" transform="rotate(101 493.8 200.5)" fill="#1818f0"/><ellipse cx="468.0" cy="256.8" rx="1.6" ry="1.1" transform="rotate(123 468.0 256.8)" fill="#1414e6"/><ellipse cx="440.7" cy="213.7" rx="1.7" ry="1.6" transform="rotate(76 440.7 213.7)" fill="#1010d0"/><ellipse cx="498.3" cy="268.2" rx="1.6" ry="1.1" transform="rotate(111 498.3 268.2)" fill="#1010d0"/><ellipse cx="502.9" cy="271.5" rx="1.5" ry="1.1" transform="rotate(34 502.9 271.5)" fill="#1818f0"/><ellipse cx="477.2" cy="208.3" rx="1.2" ry="1.0" transform="rotate(137 477.2 208.3)" fill="#1010d0"/><ellipse cx="486.5" cy="223.4" rx="1.2" ry="0.9" transform="rotate(73 486.5 223.4)" fill="#1818f0"/><ellipse cx="457.8" cy="255.9" rx="1.2" ry="0.9" transform="rotate(61 457.8 255.9)" fill="#0c0cb8"/><ellipse cx="448.8" cy="239.4" rx="1.3" ry="1.2" transform="rotate(36 448.8 239.4)" fill="#2222ff"/><ellipse cx="438.5" cy="249.1" rx="1.5" ry="1.2" transform="rotate(71 438.5 249.1)" fill="#1a1aff"/><ellipse cx="438.4" cy="255.7" rx="1.3" ry="1.0" transform="rotate(23 438.4 255.7)" fill="#0c0cb8"/><ellipse cx="429.2" cy="271.3" rx="1.3" ry="0.9" transform="rotate(101 429.2 271.3)" fill="#1818f0"/><ellipse cx="442.6" cy="190.0" rx="1.4" ry="1.1" transform="rotate(136 442.6 190.0)" fill="#1818f0"/><ellipse cx="468.3" cy="264.6" rx="1.4" ry="0.9" transform="rotate(152 468.3 264.6)" fill="#1414e6"/><ellipse cx="441.5" cy="239.4" rx="1.6" ry="1.4" transform="rotate(114 441.5 239.4)" fill="#0c0cb8"/><ellipse cx="452.4" cy="210.6" rx="1.2" ry="1.0" transform="rotate(72 452.4 210.6)" fill="#1818f0"/><ellipse cx="456.1" cy="228.1" rx="1.1" ry="1.0" transform="rotate(19 456.1 228.1)" fill="#1010d0"/><ellipse cx="478.0" cy="271.8" rx="1.7" ry="1.6" transform="rotate(122 478.0 271.8)" fill="#0c0cb8"/><ellipse cx="485.0" cy="231.8" rx="1.5" ry="1.3" transform="rotate(178 485.0 231.8)" fill="#1010d0"/><ellipse cx="444.6" cy="266.3" rx="1.3" ry="1.1" transform="rotate(128 444.6 266.3)" fill="#1010d0"/><ellipse cx="442.3" cy="241.6" rx="1.2" ry="0.9" transform="rotate(141 442.3 241.6)" fill="#0c0cb8"/><ellipse cx="474.8" cy="190.6" rx="1.4" ry="1.0" transform="rotate(81 474.8 190.6)" fill="#1414e6"/><ellipse cx="487.5" cy="252.7" rx="1.3" ry="0.9" transform="rotate(123 487.5 252.7)" fill="#1a1aff"/><ellipse cx="482.0" cy="260.2" rx="1.3" ry="0.9" transform="rotate(108 482.0 260.2)" fill="#1414e6"/><ellipse cx="422.4" cy="270.3" rx="1.3" ry="1.0" transform="rotate(16 422.4 270.3)" fill="#1a1aff"/><ellipse cx="452.3" cy="257.4" rx="1.4" ry="1.3" transform="rotate(72 452.3 257.4)" fill="#1818f0"/><ellipse cx="472.3" cy="205.6" rx="1.7" ry="1.4" transform="rotate(18 472.3 205.6)" fill="#1414e6"/><ellipse cx="473.4" cy="273.5" rx="1.2" ry="0.9" transform="rotate(10 473.4 273.5)" fill="#1010d0"/><ellipse cx="466.3" cy="227.4" rx="1.3" ry="1.0" transform="rotate(120 466.3 227.4)" fill="#1414e6"/><ellipse cx="501.4" cy="270.4" rx="1.6" ry="1.4" transform="rotate(55 501.4 270.4)" fill="#1010d0"/><ellipse cx="489.3" cy="204.6" rx="1.5" ry="1.3" transform="rotate(106 489.3 204.6)" fill="#1010d0"/><ellipse cx="446.9" cy="222.0" rx="1.6" ry="1.4" transform="rotate(120 446.9 222.0)" fill="#1818f0"/><ellipse cx="478.0" cy="223.3" rx="1.5" ry="1.1" transform="rotate(110 478.0 223.3)" fill="#2222ff"/><ellipse cx="428.9" cy="228.1" rx="1.7" ry="1.3" transform="rotate(15 428.9 228.1)" fill="#1818f0"/><ellipse cx="442.4" cy="214.4" rx="1.1" ry="1.0" transform="rotate(82 442.4 214.4)" fill="#1818f0"/><ellipse cx="482.1" cy="202.7" rx="1.3" ry="0.9" transform="rotate(74 482.1 202.7)" fill="#1010d0"/><ellipse cx="501.7" cy="275.2" rx="1.4" ry="1.0" transform="rotate(31 501.7 275.2)" fill="#1818f0"/><ellipse cx="428.1" cy="266.3" rx="1.3" ry="1.2" transform="rotate(58 428.1 266.3)" fill="#1414e6"/><ellipse cx="504.0" cy="216.4" rx="1.5" ry="1.2" transform="rotate(127 504.0 216.4)" fill="#1818f0"/><ellipse cx="478.9" cy="234.1" rx="1.4" ry="1.2" transform="rotate(22 478.9 234.1)" fill="#1a1aff"/><ellipse cx="481.3" cy="196.4" rx="1.3" ry="1.2" transform="rotate(6 481.3 196.4)" fill="#1a1aff"/><ellipse cx="478.5" cy="238.9" rx="1.4" ry="1.2" transform="rotate(180 478.5 238.9)" fill="#1414e6"/><ellipse cx="499.6" cy="216.2" rx="1.3" ry="1.0" transform="rotate(90 499.6 216.2)" fill="#0c0cb8"/><ellipse cx="504.3" cy="203.0" rx="1.1" ry="0.9" transform="rotate(70 504.3 203.0)" fill="#1818f0"/><ellipse cx="496.7" cy="210.6" rx="1.6" ry="1.5" transform="rotate(30 496.7 210.6)" fill="#1a1aff"/><ellipse cx="464.8" cy="254.1" rx="1.5" ry="1.3" transform="rotate(104 464.8 254.1)" fill="#1818f0"/><ellipse cx="480.5" cy="273.8" rx="1.6" ry="1.1" transform="rotate(165 480.5 273.8)" fill="#1414e6"/><ellipse cx="476.1" cy="269.4" rx="1.5" ry="1.3" transform="rotate(98 476.1 269.4)" fill="#1818f0"/><ellipse cx="494.6" cy="259.7" rx="1.2" ry="0.9" transform="rotate(144 494.6 259.7)" fill="#1a1aff"/><ellipse cx="476.2" cy="246.3" rx="1.4" ry="1.0" transform="rotate(39 476.2 246.3)" fill="#2222ff"/><ellipse cx="461.6" cy="235.3" rx="1.3" ry="1.1" transform="rotate(34 461.6 235.3)" fill="#1a1aff"/><ellipse cx="481.2" cy="242.2" rx="1.2" ry="0.8" transform="rotate(152 481.2 242.2)" fill="#1818f0"/><ellipse cx="453.5" cy="245.8" rx="1.7" ry="1.3" transform="rotate(83 453.5 245.8)" fill="#1818f0"/><ellipse cx="431.0" cy="270.0" rx="1.7" ry="1.5" transform="rotate(71 431.0 270.0)" fill="#1a1aff"/><ellipse cx="480.4" cy="258.9" rx="1.3" ry="1.2" transform="rotate(133 480.4 258.9)" fill="#2222ff"/><ellipse cx="429.1" cy="195.0" rx="1.6" ry="1.0" transform="rotate(60 429.1 195.0)" fill="#1a1aff"/><ellipse cx="473.4" cy="231.5" rx="1.5" ry="1.2" transform="rotate(71 473.4 231.5)" fill="#1414e6"/><ellipse cx="433.3" cy="223.2" rx="1.3" ry="1.2" transform="rotate(56 433.3 223.2)" fill="#1010d0"/><ellipse cx="449.0" cy="263.9" rx="1.5" ry="1.0" transform="rotate(75 449.0 263.9)" fill="#1a1aff"/><ellipse cx="449.9" cy="234.5" rx="1.2" ry="0.9" transform="rotate(8 449.9 234.5)" fill="#2222ff"/><ellipse cx="464.3" cy="230.7" rx="1.7" ry="1.3" transform="rotate(20 464.3 230.7)" fill="#0c0cb8"/><ellipse cx="479.0" cy="235.2" rx="1.6" ry="1.2" transform="rotate(57 479.0 235.2)" fill="#0c0cb8"/><ellipse cx="456.5" cy="251.2" rx="1.2" ry="1.0" transform="rotate(137 456.5 251.2)" fill="#1414e6"/><ellipse cx="434.3" cy="275.1" rx="1.1" ry="1.0" transform="rotate(114 434.3 275.1)" fill="#1010d0"/><ellipse cx="469.5" cy="208.1" rx="1.4" ry="1.1" transform="rotate(82 469.5 208.1)" fill="#1818f0"/><ellipse cx="493.2" cy="202.2" rx="1.5" ry="1.2" transform="rotate(178 493.2 202.2)" fill="#1a1aff"/><ellipse cx="428.6" cy="244.2" rx="1.6" ry="1.2" transform="rotate(39 428.6 244.2)" fill="#1414e6"/><ellipse cx="432.7" cy="226.0" rx="1.4" ry="0.9" transform="rotate(128 432.7 226.0)" fill="#0c0cb8"/><ellipse cx="423.8" cy="201.3" rx="1.5" ry="1.1" transform="rotate(83 423.8 201.3)" fill="#1414e6"/><ellipse cx="465.0" cy="246.9" rx="1.4" ry="1.1" transform="rotate(179 465.0 246.9)" fill="#1010d0"/><ellipse cx="490.2" cy="218.9" rx="1.6" ry="1.2" transform="rotate(24 490.2 218.9)" fill="#1414e6"/><ellipse cx="441.2" cy="264.2" rx="1.5" ry="1.1" transform="rotate(66 441.2 264.2)" fill="#0c0cb8"/><ellipse cx="462.6" cy="201.5" rx="1.5" ry="1.4" transform="rotate(157 462.6 201.5)" fill="#1818f0"/><ellipse cx="498.7" cy="193.3" rx="1.2" ry="0.9" transform="rotate(167 498.7 193.3)" fill="#1010d0"/><ellipse cx="445.5" cy="207.6" rx="1.7" ry="1.4" transform="rotate(108 445.5 207.6)" fill="#1414e6"/><ellipse cx="439.3" cy="263.1" rx="1.2" ry="1.1" transform="rotate(146 439.3 263.1)" fill="#1010d0"/><ellipse cx="495.4" cy="231.6" rx="1.6" ry="1.5" transform="rotate(80 495.4 231.6)" fill="#0c0cb8"/><ellipse cx="473.5" cy="249.6" rx="1.4" ry="1.2" transform="rotate(107 473.5 249.6)" fill="#1a1aff"/><ellipse cx="445.1" cy="251.6" rx="1.7" ry="1.4" transform="rotate(74 445.1 251.6)" fill="#0c0cb8"/><ellipse cx="438.5" cy="213.9" rx="1.6" ry="1.1" transform="rotate(70 438.5 213.9)" fill="#1010d0"/><ellipse cx="444.7" cy="211.6" rx="1.3" ry="1.0" transform="rotate(83 444.7 211.6)" fill="#2222ff"/><ellipse cx="485.5" cy="268.2" rx="1.4" ry="1.0" transform="rotate(99 485.5 268.2)" fill="#1818f0"/><ellipse cx="429.8" cy="247.0" rx="1.2" ry="0.9" transform="rotate(121 429.8 247.0)" fill="#1414e6"/><ellipse cx="449.0" cy="234.3" rx="1.6" ry="1.1" transform="rotate(90 449.0 234.3)" fill="#1414e6"/><ellipse cx="474.2" cy="264.2" rx="1.5" ry="1.2" transform="rotate(166 474.2 264.2)" fill="#2222ff"/><ellipse cx="429.4" cy="202.2" rx="1.2" ry="1.0" transform="rotate(72 429.4 202.2)" fill="#0c0cb8"/><ellipse cx="494.6" cy="248.1" rx="1.3" ry="1.1" transform="rotate(26 494.6 248.1)" fill="#2222ff"/><ellipse cx="476.7" cy="271.9" rx="1.5" ry="1.4" transform="rotate(87 476.7 271.9)" fill="#1414e6"/><ellipse cx="489.8" cy="239.3" rx="1.7" ry="1.2" transform="rotate(150 489.8 239.3)" fill="#0c0cb8"/><ellipse cx="464.1" cy="254.6" rx="1.4" ry="1.2" transform="rotate(40 464.1 254.6)" fill="#1414e6"/><ellipse cx="500.3" cy="277.5" rx="1.4" ry="1.3" transform="rotate(64 500.3 277.5)" fill="#1a1aff"/><ellipse cx="435.5" cy="213.1" rx="1.7" ry="1.3" transform="rotate(93 435.5 213.1)" fill="#1a1aff"/></g>
<rect x="486.00" y="269.3" width="15.00" height="2" fill="#fff"/>
<rect x="565.90" y="188.50" width="89.60" height="90.00" fill="#000"/>
<g><ellipse cx="617.9" cy="206.3" rx="1.7" ry="1.6" transform="rotate(84 617.9 206.3)" fill="#1818f0"/><ellipse cx="611.0" cy="242.6" rx="1.7" ry="1.3" transform="rotate(141 611.0 242.6)" fill="#1010d0"/><ellipse cx="652.4" cy="195.3" rx="1.2" ry="0.8" transform="rotate(139 652.4 195.3)" fill="#1010d0"/><ellipse cx="583.4" cy="259.0" rx="1.2" ry="1.1" transform="rotate(76 583.4 259.0)" fill="#1a1aff"/><ellipse cx="604.5" cy="216.1" rx="1.2" ry="1.0" transform="rotate(122 604.5 216.1)" fill="#1818f0"/><ellipse cx="642.5" cy="212.8" rx="1.6" ry="1.1" transform="rotate(14 642.5 212.8)" fill="#1818f0"/><ellipse cx="625.7" cy="189.6" rx="1.4" ry="1.1" transform="rotate(62 625.7 189.6)" fill="#1a1aff"/><ellipse cx="599.3" cy="221.0" rx="1.3" ry="1.1" transform="rotate(177 599.3 221.0)" fill="#2222ff"/><ellipse cx="582.4" cy="194.9" rx="1.2" ry="1.0" transform="rotate(131 582.4 194.9)" fill="#1010d0"/><ellipse cx="645.8" cy="239.6" rx="1.2" ry="1.1" transform="rotate(92 645.8 239.6)" fill="#1414e6"/><ellipse cx="627.6" cy="249.8" rx="1.1" ry="0.7" transform="rotate(6 627.6 249.8)" fill="#1010d0"/><ellipse cx="613.7" cy="251.5" rx="1.4" ry="1.2" transform="rotate(122 613.7 251.5)" fill="#0c0cb8"/><ellipse cx="635.0" cy="261.0" rx="1.6" ry="1.1" transform="rotate(32 635.0 261.0)" fill="#1414e6"/><ellipse cx="631.8" cy="268.4" rx="1.4" ry="1.3" transform="rotate(25 631.8 268.4)" fill="#1414e6"/><ellipse cx="644.8" cy="219.0" rx="1.1" ry="0.9" transform="rotate(124 644.8 219.0)" fill="#1010d0"/><ellipse cx="607.4" cy="206.1" rx="1.5" ry="1.1" transform="rotate(50 607.4 206.1)" fill="#1414e6"/><ellipse cx="588.6" cy="207.2" rx="1.2" ry="1.1" transform="rotate(162 588.6 207.2)" fill="#1010d0"/><ellipse cx="588.0" cy="214.0" rx="1.7" ry="1.2" transform="rotate(3 588.0 214.0)" fill="#2222ff"/><ellipse cx="642.3" cy="229.8" rx="1.4" ry="1.3" transform="rotate(43 642.3 229.8)" fill="#1010d0"/><ellipse cx="608.2" cy="206.4" rx="1.5" ry="1.1" transform="rotate(3 608.2 206.4)" fill="#1414e6"/><ellipse cx="591.9" cy="249.4" rx="1.6" ry="1.3" transform="rotate(10 591.9 249.4)" fill="#1414e6"/><ellipse cx="612.1" cy="208.2" rx="1.5" ry="1.0" transform="rotate(22 612.1 208.2)" fill="#1a1aff"/><ellipse cx="606.0" cy="248.2" rx="1.5" ry="1.3" transform="rotate(66 606.0 248.2)" fill="#1818f0"/><ellipse cx="621.9" cy="207.6" rx="1.4" ry="1.1" transform="rotate(54 621.9 207.6)" fill="#1010d0"/><ellipse cx="631.5" cy="210.4" rx="1.4" ry="1.1" transform="rotate(53 631.5 210.4)" fill="#1a1aff"/><ellipse cx="588.2" cy="240.5" rx="1.3" ry="1.2" transform="rotate(79 588.2 240.5)" fill="#1a1aff"/><ellipse cx="590.2" cy="252.2" rx="1.7" ry="1.5" transform="rotate(84 590.2 252.2)" fill="#0c0cb8"/><ellipse cx="648.1" cy="194.2" rx="1.3" ry="1.1" transform="rotate(49 648.1 194.2)" fill="#0c0cb8"/><ellipse cx="651.0" cy="232.4" rx="1.6" ry="1.3" transform="rotate(6 651.0 232.4)" fill="#1010d0"/><ellipse cx="620.0" cy="199.8" rx="1.2" ry="1.0" transform="rotate(81 620.0 199.8)" fill="#0c0cb8"/><ellipse cx="631.1" cy="202.1" rx="1.5" ry="1.2" transform="rotate(48 631.1 202.1)" fill="#1414e6"/><ellipse cx="598.0" cy="246.3" rx="1.4" ry="1.3" transform="rotate(132 598.0 246.3)" fill="#1818f0"/><ellipse cx="580.4" cy="254.0" rx="1.5" ry="1.2" transform="rotate(162 580.4 254.0)" fill="#2222ff"/><ellipse cx="578.5" cy="276.7" rx="1.6" ry="1.5" transform="rotate(143 578.5 276.7)" fill="#1818f0"/><ellipse cx="611.7" cy="209.2" rx="1.5" ry="1.4" transform="rotate(60 611.7 209.2)" fill="#0c0cb8"/><ellipse cx="646.5" cy="240.3" rx="1.4" ry="1.0" transform="rotate(20 646.5 240.3)" fill="#1a1aff"/><ellipse cx="606.1" cy="239.8" rx="1.6" ry="1.4" transform="rotate(16 606.1 239.8)" fill="#1010d0"/><ellipse cx="602.1" cy="200.9" rx="1.1" ry="0.8" transform="rotate(96 602.1 200.9)" fill="#1a1aff"/><ellipse cx="592.7" cy="209.9" rx="1.5" ry="1.2" transform="rotate(101 592.7 209.9)" fill="#1414e6"/><ellipse cx="637.0" cy="267.1" rx="1.5" ry="1.3" transform="rotate(114 637.0 267.1)" fill="#1818f0"/><ellipse cx="569.3" cy="216.1" rx="1.6" ry="1.3" transform="rotate(36 569.3 216.1)" fill="#1414e6"/><ellipse cx="619.4" cy="233.1" rx="1.4" ry="1.0" transform="rotate(49 619.4 233.1)" fill="#1a1aff"/><ellipse cx="633.4" cy="206.0" rx="1.6" ry="1.1" transform="rotate(95 633.4 206.0)" fill="#1a1aff"/><ellipse cx="633.4" cy="222.4" rx="1.3" ry="1.1" transform="rotate(130 633.4 222.4)" fill="#1818f0"/><ellipse cx="621.0" cy="258.0" rx="1.6" ry="1.3" transform="rotate(168 621.0 258.0)" fill="#1010d0"/><ellipse cx="641.7" cy="193.9" rx="1.5" ry="1.0" transform="rotate(119 641.7 193.9)" fill="#1010d0"/><ellipse cx="609.1" cy="275.4" rx="1.6" ry="1.2" transform="rotate(64 609.1 275.4)" fill="#1414e6"/><ellipse cx="566.6" cy="200.2" rx="1.7" ry="1.5" transform="rotate(165 566.6 200.2)" fill="#1414e6"/><ellipse cx="603.7" cy="247.8" rx="1.5" ry="1.2" transform="rotate(66 603.7 247.8)" fill="#1818f0"/><ellipse cx="585.4" cy="242.1" rx="1.6" ry="1.1" transform="rotate(30 585.4 242.1)" fill="#1818f0"/><ellipse cx="609.6" cy="270.9" rx="1.4" ry="1.2" transform="rotate(8 609.6 270.9)" fill="#0c0cb8"/><ellipse cx="575.9" cy="252.0" rx="1.6" ry="1.2" transform="rotate(82 575.9 252.0)" fill="#1010d0"/><ellipse cx="621.6" cy="201.1" rx="1.7" ry="1.2" transform="rotate(25 621.6 201.1)" fill="#2222ff"/><ellipse cx="632.2" cy="223.6" rx="1.5" ry="1.2" transform="rotate(180 632.2 223.6)" fill="#1a1aff"/><ellipse cx="644.9" cy="229.4" rx="1.6" ry="1.4" transform="rotate(30 644.9 229.4)" fill="#1a1aff"/><ellipse cx="615.6" cy="209.8" rx="1.6" ry="1.5" transform="rotate(97 615.6 209.8)" fill="#2222ff"/><ellipse cx="632.0" cy="256.9" rx="1.6" ry="1.1" transform="rotate(133 632.0 256.9)" fill="#0c0cb8"/><ellipse cx="575.5" cy="204.2" rx="1.6" ry="1.1" transform="rotate(23 575.5 204.2)" fill="#1818f0"/><ellipse cx="591.9" cy="239.5" rx="1.6" ry="1.5" transform="rotate(99 591.9 239.5)" fill="#1818f0"/><ellipse cx="627.5" cy="206.2" rx="1.1" ry="0.8" transform="rotate(86 627.5 206.2)" fill="#0c0cb8"/><ellipse cx="579.5" cy="233.5" rx="1.3" ry="0.9" transform="rotate(29 579.5 233.5)" fill="#2222ff"/><ellipse cx="609.0" cy="194.3" rx="1.3" ry="1.2" transform="rotate(103 609.0 194.3)" fill="#1414e6"/><ellipse cx="625.6" cy="189.6" rx="1.3" ry="0.9" transform="rotate(41 625.6 189.6)" fill="#1818f0"/><ellipse cx="580.5" cy="253.1" rx="1.6" ry="1.2" transform="rotate(155 580.5 253.1)" fill="#1010d0"/><ellipse cx="579.4" cy="271.4" rx="1.3" ry="1.2" transform="rotate(154 579.4 271.4)" fill="#2222ff"/><ellipse cx="594.7" cy="240.0" rx="1.3" ry="0.9" transform="rotate(169 594.7 240.0)" fill="#1414e6"/><ellipse cx="624.9" cy="202.0" rx="1.7" ry="1.3" transform="rotate(95 624.9 202.0)" fill="#1414e6"/><ellipse cx="588.6" cy="228.6" rx="1.7" ry="1.2" transform="rotate(19 588.6 228.6)" fill="#2222ff"/><ellipse cx="646.2" cy="260.4" rx="1.3" ry="1.2" transform="rotate(55 646.2 260.4)" fill="#0c0cb8"/><ellipse cx="577.8" cy="242.0" rx="1.3" ry="1.2" transform="rotate(111 577.8 242.0)" fill="#0c0cb8"/><ellipse cx="573.7" cy="204.8" rx="1.6" ry="1.3" transform="rotate(121 573.7 204.8)" fill="#1010d0"/><ellipse cx="635.7" cy="204.4" rx="1.1" ry="0.9" transform="rotate(129 635.7 204.4)" fill="#1414e6"/><ellipse cx="636.9" cy="246.1" rx="1.6" ry="1.3" transform="rotate(126 636.9 246.1)" fill="#1414e6"/><ellipse cx="638.1" cy="204.4" rx="1.4" ry="1.2" transform="rotate(114 638.1 204.4)" fill="#1414e6"/><ellipse cx="593.8" cy="228.3" rx="1.1" ry="1.0" transform="rotate(64 593.8 228.3)" fill="#1a1aff"/><ellipse cx="628.0" cy="220.0" rx="1.1" ry="0.8" transform="rotate(63 628.0 220.0)" fill="#1010d0"/><ellipse cx="652.1" cy="194.2" rx="1.6" ry="1.2" transform="rotate(54 652.1 194.2)" fill="#1010d0"/><ellipse cx="637.1" cy="204.5" rx="1.4" ry="1.3" transform="rotate(24 637.1 204.5)" fill="#0c0cb8"/><ellipse cx="591.7" cy="258.7" rx="1.4" ry="1.3" transform="rotate(26 591.7 258.7)" fill="#1818f0"/><ellipse cx="621.0" cy="272.1" rx="1.5" ry="1.2" transform="rotate(107 621.0 272.1)" fill="#1010d0"/><ellipse cx="616.8" cy="255.5" rx="1.3" ry="1.1" transform="rotate(141 616.8 255.5)" fill="#1414e6"/><ellipse cx="604.9" cy="194.5" rx="1.3" ry="1.2" transform="rotate(35 604.9 194.5)" fill="#1010d0"/><ellipse cx="635.7" cy="195.6" rx="1.5" ry="1.1" transform="rotate(55 635.7 195.6)" fill="#1010d0"/><ellipse cx="579.9" cy="190.6" rx="1.2" ry="1.1" transform="rotate(95 579.9 190.6)" fill="#1010d0"/><ellipse cx="622.4" cy="224.5" rx="1.4" ry="1.2" transform="rotate(72 622.4 224.5)" fill="#2222ff"/><ellipse cx="600.7" cy="273.5" rx="1.5" ry="1.0" transform="rotate(19 600.7 273.5)" fill="#1010d0"/><ellipse cx="614.9" cy="257.7" rx="1.1" ry="0.8" transform="rotate(4 614.9 257.7)" fill="#2222ff"/><ellipse cx="580.5" cy="196.6" rx="1.6" ry="1.5" transform="rotate(107 580.5 196.6)" fill="#1414e6"/><ellipse cx="632.8" cy="261.6" rx="1.7" ry="1.3" transform="rotate(160 632.8 261.6)" fill="#1010d0"/><ellipse cx="596.2" cy="276.2" rx="1.7" ry="1.2" transform="rotate(135 596.2 276.2)" fill="#1818f0"/><ellipse cx="623.2" cy="255.1" rx="1.6" ry="1.1" transform="rotate(168 623.2 255.1)" fill="#1818f0"/><ellipse cx="582.6" cy="275.0" rx="1.5" ry="1.0" transform="rotate(6 582.6 275.0)" fill="#1414e6"/><ellipse cx="603.8" cy="236.2" rx="1.6" ry="1.1" transform="rotate(98 603.8 236.2)" fill="#1414e6"/><ellipse cx="583.6" cy="196.6" rx="1.3" ry="1.0" transform="rotate(68 583.6 196.6)" fill="#0c0cb8"/><ellipse cx="620.7" cy="260.5" rx="1.6" ry="1.4" transform="rotate(92 620.7 260.5)" fill="#2222ff"/><ellipse cx="579.6" cy="247.0" rx="1.5" ry="1.3" transform="rotate(28 579.6 247.0)" fill="#1818f0"/><ellipse cx="588.9" cy="239.2" rx="1.4" ry="0.9" transform="rotate(19 588.9 239.2)" fill="#2222ff"/><ellipse cx="582.6" cy="206.8" rx="1.2" ry="1.0" transform="rotate(144 582.6 206.8)" fill="#1818f0"/><ellipse cx="619.9" cy="189.6" rx="1.3" ry="1.0" transform="rotate(87 619.9 189.6)" fill="#1a1aff"/><ellipse cx="570.7" cy="208.0" rx="1.6" ry="1.1" transform="rotate(153 570.7 208.0)" fill="#2222ff"/><ellipse cx="576.4" cy="262.6" rx="1.6" ry="1.5" transform="rotate(138 576.4 262.6)" fill="#1414e6"/><ellipse cx="594.6" cy="204.9" rx="1.5" ry="1.1" transform="rotate(33 594.6 204.9)" fill="#1010d0"/><ellipse cx="619.6" cy="260.1" rx="1.6" ry="1.1" transform="rotate(12 619.6 260.1)" fill="#1414e6"/><ellipse cx="652.4" cy="252.7" rx="1.5" ry="1.1" transform="rotate(155 652.4 252.7)" fill="#1010d0"/><ellipse cx="622.6" cy="244.8" rx="1.6" ry="1.4" transform="rotate(23 622.6 244.8)" fill="#0c0cb8"/><ellipse cx="576.2" cy="227.9" rx="1.3" ry="1.1" transform="rotate(140 576.2 227.9)" fill="#1010d0"/><ellipse cx="633.8" cy="252.9" rx="1.6" ry="1.3" transform="rotate(130 633.8 252.9)" fill="#1414e6"/><ellipse cx="594.8" cy="202.2" rx="1.5" ry="1.1" transform="rotate(133 594.8 202.2)" fill="#1818f0"/><ellipse cx="569.7" cy="245.2" rx="1.2" ry="1.1" transform="rotate(7 569.7 245.2)" fill="#2222ff"/><ellipse cx="608.9" cy="238.5" rx="1.4" ry="1.0" transform="rotate(83 608.9 238.5)" fill="#1010d0"/><ellipse cx="597.8" cy="211.5" rx="1.2" ry="0.9" transform="rotate(107 597.8 211.5)" fill="#1010d0"/><ellipse cx="648.9" cy="273.4" rx="1.2" ry="0.9" transform="rotate(73 648.9 273.4)" fill="#0c0cb8"/><ellipse cx="613.0" cy="258.5" rx="1.4" ry="1.0" transform="rotate(117 613.0 258.5)" fill="#1010d0"/><ellipse cx="588.7" cy="257.3" rx="1.1" ry="1.0" transform="rotate(126 588.7 257.3)" fill="#1414e6"/><ellipse cx="603.9" cy="252.3" rx="1.3" ry="1.2" transform="rotate(32 603.9 252.3)" fill="#1a1aff"/><ellipse cx="631.2" cy="201.4" rx="1.6" ry="1.2" transform="rotate(101 631.2 201.4)" fill="#1010d0"/><ellipse cx="649.9" cy="194.9" rx="1.2" ry="0.9" transform="rotate(24 649.9 194.9)" fill="#0c0cb8"/><ellipse cx="653.1" cy="189.4" rx="1.6" ry="1.1" transform="rotate(180 653.1 189.4)" fill="#1010d0"/><ellipse cx="589.9" cy="212.6" rx="1.5" ry="1.4" transform="rotate(12 589.9 212.6)" fill="#2222ff"/><ellipse cx="635.8" cy="271.9" rx="1.3" ry="1.0" transform="rotate(160 635.8 271.9)" fill="#0c0cb8"/><ellipse cx="617.7" cy="225.3" rx="1.4" ry="1.3" transform="rotate(111 617.7 225.3)" fill="#1010d0"/><ellipse cx="627.3" cy="276.7" rx="1.3" ry="1.1" transform="rotate(20 627.3 276.7)" fill="#1010d0"/><ellipse cx="643.1" cy="234.3" rx="1.6" ry="1.1" transform="rotate(50 643.1 234.3)" fill="#2222ff"/><ellipse cx="594.6" cy="266.3" rx="1.5" ry="1.3" transform="rotate(88 594.6 266.3)" fill="#1414e6"/><ellipse cx="635.7" cy="200.8" rx="1.7" ry="1.4" transform="rotate(22 635.7 200.8)" fill="#1414e6"/><ellipse cx="620.8" cy="273.5" rx="1.4" ry="1.2" transform="rotate(179 620.8 273.5)" fill="#0c0cb8"/><ellipse cx="603.5" cy="256.8" rx="1.7" ry="1.3" transform="rotate(93 603.5 256.8)" fill="#1a1aff"/><ellipse cx="614.6" cy="231.2" rx="1.2" ry="0.9" transform="rotate(132 614.6 231.2)" fill="#1414e6"/><ellipse cx="632.9" cy="274.8" rx="1.3" ry="1.1" transform="rotate(58 632.9 274.8)" fill="#1010d0"/><ellipse cx="629.3" cy="274.8" rx="1.6" ry="1.4" transform="rotate(93 629.3 274.8)" fill="#0c0cb8"/><ellipse cx="616.7" cy="249.8" rx="1.2" ry="0.9" transform="rotate(30 616.7 249.8)" fill="#0c0cb8"/><ellipse cx="623.5" cy="233.1" rx="1.4" ry="1.3" transform="rotate(136 623.5 233.1)" fill="#1818f0"/><ellipse cx="631.4" cy="224.9" rx="1.7" ry="1.1" transform="rotate(13 631.4 224.9)" fill="#1a1aff"/><ellipse cx="586.2" cy="208.7" rx="1.6" ry="1.0" transform="rotate(134 586.2 208.7)" fill="#1414e6"/><ellipse cx="571.5" cy="245.2" rx="1.7" ry="1.2" transform="rotate(106 571.5 245.2)" fill="#2222ff"/><ellipse cx="572.9" cy="221.0" rx="1.2" ry="1.0" transform="rotate(8 572.9 221.0)" fill="#1414e6"/><ellipse cx="639.9" cy="276.3" rx="1.6" ry="1.3" transform="rotate(124 639.9 276.3)" fill="#1414e6"/><ellipse cx="621.6" cy="193.1" rx="1.2" ry="1.0" transform="rotate(21 621.6 193.1)" fill="#1414e6"/><ellipse cx="614.2" cy="216.3" rx="1.4" ry="1.0" transform="rotate(148 614.2 216.3)" fill="#1010d0"/><ellipse cx="603.6" cy="209.8" rx="1.1" ry="0.8" transform="rotate(89 603.6 209.8)" fill="#0c0cb8"/><ellipse cx="622.4" cy="231.6" rx="1.6" ry="1.2" transform="rotate(140 622.4 231.6)" fill="#0c0cb8"/><ellipse cx="640.6" cy="246.3" rx="1.7" ry="1.2" transform="rotate(49 640.6 246.3)" fill="#2222ff"/><ellipse cx="612.1" cy="233.7" rx="1.2" ry="1.1" transform="rotate(87 612.1 233.7)" fill="#2222ff"/><ellipse cx="571.1" cy="245.0" rx="1.4" ry="0.9" transform="rotate(66 571.1 245.0)" fill="#1818f0"/><ellipse cx="605.9" cy="224.9" rx="1.2" ry="0.9" transform="rotate(52 605.9 224.9)" fill="#1a1aff"/><ellipse cx="620.5" cy="219.3" rx="1.2" ry="1.1" transform="rotate(163 620.5 219.3)" fill="#2222ff"/><ellipse cx="619.2" cy="254.9" rx="1.7" ry="1.2" transform="rotate(107 619.2 254.9)" fill="#1a1aff"/><ellipse cx="646.3" cy="233.6" rx="1.4" ry="1.2" transform="rotate(151 646.3 233.6)" fill="#1818f0"/><ellipse cx="621.0" cy="204.5" rx="1.1" ry="1.1" transform="rotate(90 621.0 204.5)" fill="#1010d0"/><ellipse cx="598.5" cy="200.1" rx="1.2" ry="1.0" transform="rotate(160 598.5 200.1)" fill="#1414e6"/><ellipse cx="611.7" cy="205.6" rx="1.4" ry="1.2" transform="rotate(115 611.7 205.6)" fill="#2222ff"/><ellipse cx="651.4" cy="265.1" rx="1.7" ry="1.5" transform="rotate(144 651.4 265.1)" fill="#0c0cb8"/><ellipse cx="652.1" cy="243.5" rx="1.4" ry="1.2" transform="rotate(82 652.1 243.5)" fill="#1818f0"/><ellipse cx="646.7" cy="255.4" rx="1.2" ry="1.0" transform="rotate(80 646.7 255.4)" fill="#1818f0"/><ellipse cx="650.5" cy="271.1" rx="1.2" ry="0.9" transform="rotate(80 650.5 271.1)" fill="#1010d0"/><ellipse cx="638.0" cy="260.3" rx="1.6" ry="1.1" transform="rotate(132 638.0 260.3)" fill="#1a1aff"/><ellipse cx="630.3" cy="197.2" rx="1.5" ry="1.1" transform="rotate(73 630.3 197.2)" fill="#1818f0"/><ellipse cx="633.9" cy="271.8" rx="1.1" ry="0.8" transform="rotate(127 633.9 271.8)" fill="#1a1aff"/><ellipse cx="597.3" cy="210.9" rx="1.5" ry="1.0" transform="rotate(60 597.3 210.9)" fill="#1818f0"/><ellipse cx="630.0" cy="254.7" rx="1.2" ry="0.9" transform="rotate(153 630.0 254.7)" fill="#0c0cb8"/><ellipse cx="628.7" cy="234.6" rx="1.2" ry="0.9" transform="rotate(2 628.7 234.6)" fill="#0c0cb8"/><ellipse cx="622.5" cy="261.6" rx="1.2" ry="0.9" transform="rotate(176 622.5 261.6)" fill="#1818f0"/><ellipse cx="575.9" cy="244.5" rx="1.5" ry="1.3" transform="rotate(70 575.9 244.5)" fill="#1010d0"/><ellipse cx="589.5" cy="211.0" rx="1.2" ry="1.0" transform="rotate(81 589.5 211.0)" fill="#0c0cb8"/><ellipse cx="600.5" cy="238.8" rx="1.5" ry="1.1" transform="rotate(115 600.5 238.8)" fill="#1818f0"/><ellipse cx="652.3" cy="196.7" rx="1.3" ry="1.0" transform="rotate(48 652.3 196.7)" fill="#0c0cb8"/><ellipse cx="601.6" cy="253.7" rx="1.3" ry="1.1" transform="rotate(135 601.6 253.7)" fill="#1a1aff"/><ellipse cx="605.2" cy="265.6" rx="1.4" ry="1.2" transform="rotate(178 605.2 265.6)" fill="#1a1aff"/><ellipse cx="594.3" cy="212.4" rx="1.5" ry="1.1" transform="rotate(148 594.3 212.4)" fill="#2222ff"/><ellipse cx="614.8" cy="199.0" rx="1.3" ry="1.2" transform="rotate(1 614.8 199.0)" fill="#1818f0"/><ellipse cx="636.0" cy="244.8" rx="1.4" ry="1.2" transform="rotate(41 636.0 244.8)" fill="#1010d0"/><ellipse cx="568.0" cy="216.1" rx="1.3" ry="1.1" transform="rotate(113 568.0 216.1)" fill="#1818f0"/><ellipse cx="578.6" cy="217.4" rx="1.4" ry="1.1" transform="rotate(110 578.6 217.4)" fill="#1414e6"/><ellipse cx="607.5" cy="267.9" rx="1.2" ry="0.8" transform="rotate(95 607.5 267.9)" fill="#1a1aff"/><ellipse cx="570.8" cy="220.0" rx="1.3" ry="0.9" transform="rotate(28 570.8 220.0)" fill="#1818f0"/><ellipse cx="643.4" cy="249.1" rx="1.3" ry="0.9" transform="rotate(170 643.4 249.1)" fill="#1a1aff"/><ellipse cx="627.4" cy="211.8" rx="1.2" ry="1.1" transform="rotate(150 627.4 211.8)" fill="#0c0cb8"/><ellipse cx="593.4" cy="252.7" rx="1.6" ry="1.5" transform="rotate(128 593.4 252.7)" fill="#1a1aff"/><ellipse cx="638.0" cy="201.3" rx="1.6" ry="1.3" transform="rotate(73 638.0 201.3)" fill="#2222ff"/><ellipse cx="640.7" cy="261.8" rx="1.3" ry="1.1" transform="rotate(169 640.7 261.8)" fill="#1010d0"/><ellipse cx="611.8" cy="274.7" rx="1.7" ry="1.3" transform="rotate(21 611.8 274.7)" fill="#1818f0"/><ellipse cx="596.0" cy="274.0" rx="1.6" ry="1.1" transform="rotate(146 596.0 274.0)" fill="#1010d0"/><ellipse cx="610.5" cy="258.4" rx="1.4" ry="1.2" transform="rotate(93 610.5 258.4)" fill="#1818f0"/><ellipse cx="654.5" cy="255.9" rx="1.4" ry="1.3" transform="rotate(149 654.5 255.9)" fill="#1818f0"/><ellipse cx="652.5" cy="210.7" rx="1.3" ry="1.0" transform="rotate(140 652.5 210.7)" fill="#2222ff"/><ellipse cx="569.8" cy="266.2" rx="1.6" ry="1.2" transform="rotate(78 569.8 266.2)" fill="#1a1aff"/><ellipse cx="599.0" cy="195.5" rx="1.7" ry="1.2" transform="rotate(101 599.0 195.5)" fill="#1010d0"/><ellipse cx="628.2" cy="257.6" rx="1.4" ry="1.2" transform="rotate(163 628.2 257.6)" fill="#1a1aff"/><ellipse cx="632.7" cy="202.6" rx="1.2" ry="0.9" transform="rotate(36 632.7 202.6)" fill="#1818f0"/><ellipse cx="620.1" cy="253.0" rx="1.6" ry="1.1" transform="rotate(7 620.1 253.0)" fill="#2222ff"/><ellipse cx="611.1" cy="232.8" rx="1.5" ry="1.0" transform="rotate(79 611.1 232.8)" fill="#1a1aff"/><ellipse cx="609.7" cy="249.3" rx="1.6" ry="1.4" transform="rotate(160 609.7 249.3)" fill="#1414e6"/><ellipse cx="630.5" cy="224.3" rx="1.1" ry="0.9" transform="rotate(34 630.5 224.3)" fill="#0c0cb8"/><ellipse cx="619.8" cy="207.5" rx="1.5" ry="1.4" transform="rotate(157 619.8 207.5)" fill="#1010d0"/><ellipse cx="625.2" cy="263.0" rx="1.6" ry="1.3" transform="rotate(3 625.2 263.0)" fill="#0c0cb8"/><ellipse cx="634.1" cy="197.2" rx="1.1" ry="0.9" transform="rotate(173 634.1 197.2)" fill="#1414e6"/><ellipse cx="580.5" cy="234.9" rx="1.4" ry="1.3" transform="rotate(99 580.5 234.9)" fill="#1010d0"/><ellipse cx="596.2" cy="231.4" rx="1.3" ry="0.9" transform="rotate(130 596.2 231.4)" fill="#1818f0"/><ellipse cx="597.1" cy="275.9" rx="1.4" ry="1.1" transform="rotate(170 597.1 275.9)" fill="#1010d0"/><ellipse cx="579.2" cy="212.3" rx="1.5" ry="1.3" transform="rotate(18 579.2 212.3)" fill="#1a1aff"/><ellipse cx="635.6" cy="258.2" rx="1.4" ry="1.2" transform="rotate(158 635.6 258.2)" fill="#1010d0"/><ellipse cx="654.7" cy="199.2" rx="1.3" ry="1.2" transform="rotate(9 654.7 199.2)" fill="#1a1aff"/><ellipse cx="633.6" cy="237.7" rx="1.5" ry="1.2" transform="rotate(76 633.6 237.7)" fill="#1a1aff"/><ellipse cx="634.2" cy="224.8" rx="1.4" ry="1.0" transform="rotate(23 634.2 224.8)" fill="#1010d0"/><ellipse cx="609.3" cy="272.4" rx="1.4" ry="1.2" transform="rotate(172 609.3 272.4)" fill="#0c0cb8"/><ellipse cx="589.6" cy="205.9" rx="1.5" ry="1.0" transform="rotate(145 589.6 205.9)" fill="#1818f0"/><ellipse cx="643.5" cy="235.1" rx="1.3" ry="0.9" transform="rotate(99 643.5 235.1)" fill="#1414e6"/><ellipse cx="648.9" cy="221.2" rx="1.3" ry="1.0" transform="rotate(141 648.9 221.2)" fill="#1414e6"/><ellipse cx="626.6" cy="223.1" rx="1.4" ry="1.3" transform="rotate(48 626.6 223.1)" fill="#2222ff"/><ellipse cx="626.2" cy="276.4" rx="1.6" ry="1.4" transform="rotate(18 626.2 276.4)" fill="#1818f0"/><ellipse cx="650.3" cy="216.1" rx="1.3" ry="1.0" transform="rotate(153 650.3 216.1)" fill="#2222ff"/><ellipse cx="604.5" cy="231.2" rx="1.5" ry="1.2" transform="rotate(8 604.5 231.2)" fill="#0c0cb8"/><ellipse cx="582.5" cy="267.4" rx="1.7" ry="1.3" transform="rotate(159 582.5 267.4)" fill="#2222ff"/><ellipse cx="652.1" cy="268.2" rx="1.4" ry="1.0" transform="rotate(42 652.1 268.2)" fill="#1010d0"/><ellipse cx="602.6" cy="207.3" rx="1.2" ry="0.9" transform="rotate(59 602.6 207.3)" fill="#2222ff"/><ellipse cx="633.1" cy="225.2" rx="1.7" ry="1.4" transform="rotate(44 633.1 225.2)" fill="#1818f0"/><ellipse cx="579.2" cy="197.3" rx="1.5" ry="1.2" transform="rotate(58 579.2 197.3)" fill="#2222ff"/><ellipse cx="613.4" cy="215.2" rx="1.3" ry="0.8" transform="rotate(44 613.4 215.2)" fill="#1010d0"/><ellipse cx="575.6" cy="234.3" rx="1.5" ry="1.2" transform="rotate(47 575.6 234.3)" fill="#0c0cb8"/><ellipse cx="617.2" cy="265.7" rx="1.5" ry="1.0" transform="rotate(135 617.2 265.7)" fill="#1a1aff"/><ellipse cx="648.4" cy="209.3" rx="1.5" ry="1.0" transform="rotate(112 648.4 209.3)" fill="#1818f0"/><ellipse cx="569.6" cy="232.4" rx="1.4" ry="1.2" transform="rotate(43 569.6 232.4)" fill="#1a1aff"/><ellipse cx="604.0" cy="205.1" rx="1.5" ry="1.1" transform="rotate(69 604.0 205.1)" fill="#1a1aff"/><ellipse cx="627.5" cy="263.0" rx="1.3" ry="1.2" transform="rotate(124 627.5 263.0)" fill="#0c0cb8"/><ellipse cx="649.9" cy="246.4" rx="1.1" ry="1.0" transform="rotate(153 649.9 246.4)" fill="#1818f0"/><ellipse cx="636.3" cy="252.8" rx="1.6" ry="1.2" transform="rotate(10 636.3 252.8)" fill="#1414e6"/><ellipse cx="607.5" cy="205.8" rx="1.6" ry="1.4" transform="rotate(178 607.5 205.8)" fill="#1818f0"/><ellipse cx="633.7" cy="214.9" rx="1.3" ry="0.9" transform="rotate(88 633.7 214.9)" fill="#1414e6"/><ellipse cx="616.3" cy="197.8" rx="1.6" ry="1.5" transform="rotate(53 616.3 197.8)" fill="#1a1aff"/><ellipse cx="594.8" cy="275.9" rx="1.7" ry="1.3" transform="rotate(125 594.8 275.9)" fill="#1414e6"/><ellipse cx="575.1" cy="250.3" rx="1.7" ry="1.4" transform="rotate(162 575.1 250.3)" fill="#2222ff"/><ellipse cx="622.0" cy="202.5" rx="1.2" ry="1.0" transform="rotate(79 622.0 202.5)" fill="#1010d0"/><ellipse cx="645.2" cy="228.8" rx="1.2" ry="1.0" transform="rotate(74 645.2 228.8)" fill="#0c0cb8"/><ellipse cx="605.3" cy="229.7" rx="1.7" ry="1.6" transform="rotate(158 605.3 229.7)" fill="#1818f0"/><ellipse cx="604.5" cy="235.2" rx="1.2" ry="1.1" transform="rotate(32 604.5 235.2)" fill="#1a1aff"/><ellipse cx="572.2" cy="254.3" rx="1.2" ry="1.0" transform="rotate(76 572.2 254.3)" fill="#0c0cb8"/><ellipse cx="602.2" cy="247.6" rx="1.5" ry="1.2" transform="rotate(47 602.2 247.6)" fill="#2222ff"/><ellipse cx="599.5" cy="241.7" rx="1.3" ry="1.0" transform="rotate(120 599.5 241.7)" fill="#1414e6"/><ellipse cx="600.7" cy="204.9" rx="1.2" ry="0.9" transform="rotate(52 600.7 204.9)" fill="#1a1aff"/><ellipse cx="586.8" cy="235.4" rx="1.7" ry="1.4" transform="rotate(96 586.8 235.4)" fill="#1414e6"/><ellipse cx="631.4" cy="237.1" rx="1.1" ry="0.9" transform="rotate(177 631.4 237.1)" fill="#1818f0"/><ellipse cx="628.1" cy="253.7" rx="1.3" ry="0.9" transform="rotate(66 628.1 253.7)" fill="#2222ff"/><ellipse cx="569.1" cy="244.7" rx="1.4" ry="1.1" transform="rotate(143 569.1 244.7)" fill="#1414e6"/><ellipse cx="592.1" cy="273.1" rx="1.5" ry="1.4" transform="rotate(42 592.1 273.1)" fill="#1414e6"/><ellipse cx="605.2" cy="211.0" rx="1.5" ry="1.0" transform="rotate(172 605.2 211.0)" fill="#1414e6"/><ellipse cx="653.7" cy="224.0" rx="1.2" ry="1.1" transform="rotate(68 653.7 224.0)" fill="#2222ff"/><ellipse cx="639.2" cy="208.9" rx="1.3" ry="0.8" transform="rotate(14 639.2 208.9)" fill="#1414e6"/><ellipse cx="636.8" cy="228.6" rx="1.6" ry="1.2" transform="rotate(77 636.8 228.6)" fill="#2222ff"/><ellipse cx="643.3" cy="190.9" rx="1.4" ry="1.3" transform="rotate(173 643.3 190.9)" fill="#1010d0"/><ellipse cx="599.6" cy="227.3" rx="1.4" ry="1.0" transform="rotate(13 599.6 227.3)" fill="#1a1aff"/><ellipse cx="568.0" cy="261.5" rx="1.4" ry="1.3" transform="rotate(117 568.0 261.5)" fill="#2222ff"/><ellipse cx="605.5" cy="201.1" rx="1.6" ry="1.2" transform="rotate(23 605.5 201.1)" fill="#1818f0"/><ellipse cx="624.5" cy="277.0" rx="1.4" ry="1.1" transform="rotate(62 624.5 277.0)" fill="#1414e6"/><ellipse cx="627.9" cy="225.7" rx="1.4" ry="1.2" transform="rotate(148 627.9 225.7)" fill="#2222ff"/><ellipse cx="614.7" cy="258.9" rx="1.3" ry="1.0" transform="rotate(127 614.7 258.9)" fill="#1818f0"/><ellipse cx="573.1" cy="275.7" rx="1.2" ry="0.9" transform="rotate(88 573.1 275.7)" fill="#2222ff"/><ellipse cx="598.0" cy="271.5" rx="1.2" ry="0.8" transform="rotate(11 598.0 271.5)" fill="#0c0cb8"/><ellipse cx="609.9" cy="220.5" rx="1.6" ry="1.5" transform="rotate(155 609.9 220.5)" fill="#1414e6"/><ellipse cx="644.2" cy="258.1" rx="1.5" ry="1.4" transform="rotate(99 644.2 258.1)" fill="#1818f0"/><ellipse cx="622.8" cy="250.3" rx="1.4" ry="1.3" transform="rotate(45 622.8 250.3)" fill="#1414e6"/><ellipse cx="637.9" cy="200.4" rx="1.3" ry="1.1" transform="rotate(123 637.9 200.4)" fill="#1818f0"/><ellipse cx="643.3" cy="219.6" rx="1.3" ry="0.9" transform="rotate(144 643.3 219.6)" fill="#2222ff"/><ellipse cx="597.9" cy="245.4" rx="1.5" ry="1.3" transform="rotate(77 597.9 245.4)" fill="#2222ff"/><ellipse cx="614.8" cy="221.2" rx="1.4" ry="1.3" transform="rotate(49 614.8 221.2)" fill="#1a1aff"/><ellipse cx="596.3" cy="240.0" rx="1.2" ry="0.9" transform="rotate(160 596.3 240.0)" fill="#1010d0"/><ellipse cx="615.5" cy="262.5" rx="1.5" ry="1.4" transform="rotate(3 615.5 262.5)" fill="#1a1aff"/><ellipse cx="625.5" cy="242.1" rx="1.3" ry="0.9" transform="rotate(110 625.5 242.1)" fill="#1414e6"/><ellipse cx="646.9" cy="258.5" rx="1.3" ry="1.1" transform="rotate(14 646.9 258.5)" fill="#1818f0"/><ellipse cx="591.7" cy="201.6" rx="1.5" ry="1.2" transform="rotate(106 591.7 201.6)" fill="#1414e6"/><ellipse cx="589.3" cy="242.1" rx="1.2" ry="1.0" transform="rotate(164 589.3 242.1)" fill="#1a1aff"/><ellipse cx="588.0" cy="195.0" rx="1.4" ry="1.0" transform="rotate(158 588.0 195.0)" fill="#2222ff"/><ellipse cx="642.4" cy="204.5" rx="1.2" ry="0.8" transform="rotate(63 642.4 204.5)" fill="#1a1aff"/><ellipse cx="624.2" cy="191.9" rx="1.6" ry="1.2" transform="rotate(147 624.2 191.9)" fill="#1818f0"/><ellipse cx="582.4" cy="264.8" rx="1.1" ry="1.1" transform="rotate(61 582.4 264.8)" fill="#1010d0"/><ellipse cx="640.1" cy="211.5" rx="1.3" ry="0.9" transform="rotate(161 640.1 211.5)" fill="#1414e6"/><ellipse cx="639.1" cy="274.2" rx="1.4" ry="1.3" transform="rotate(37 639.1 274.2)" fill="#2222ff"/><ellipse cx="648.4" cy="251.6" rx="1.5" ry="1.2" transform="rotate(176 648.4 251.6)" fill="#1414e6"/><ellipse cx="578.0" cy="210.2" rx="1.3" ry="0.9" transform="rotate(156 578.0 210.2)" fill="#1818f0"/><ellipse cx="626.7" cy="247.9" rx="1.4" ry="1.1" transform="rotate(89 626.7 247.9)" fill="#1a1aff"/><ellipse cx="632.3" cy="259.0" rx="1.6" ry="1.0" transform="rotate(73 632.3 259.0)" fill="#2222ff"/><ellipse cx="579.8" cy="256.3" rx="1.1" ry="1.0" transform="rotate(15 579.8 256.3)" fill="#1818f0"/><ellipse cx="603.4" cy="214.3" rx="1.5" ry="1.3" transform="rotate(129 603.4 214.3)" fill="#1a1aff"/><ellipse cx="605.1" cy="218.4" rx="1.1" ry="0.8" transform="rotate(52 605.1 218.4)" fill="#1818f0"/><ellipse cx="578.9" cy="206.3" rx="1.7" ry="1.1" transform="rotate(142 578.9 206.3)" fill="#1010d0"/><ellipse cx="637.0" cy="201.4" rx="1.6" ry="1.5" transform="rotate(145 637.0 201.4)" fill="#2222ff"/><ellipse cx="594.1" cy="259.5" rx="1.4" ry="0.9" transform="rotate(100 594.1 259.5)" fill="#1a1aff"/><ellipse cx="652.6" cy="205.2" rx="1.4" ry="1.2" transform="rotate(82 652.6 205.2)" fill="#1010d0"/><ellipse cx="590.5" cy="240.3" rx="1.6" ry="1.0" transform="rotate(40 590.5 240.3)" fill="#2222ff"/><ellipse cx="601.0" cy="227.1" rx="1.6" ry="1.1" transform="rotate(27 601.0 227.1)" fill="#0c0cb8"/><ellipse cx="643.2" cy="237.8" rx="1.3" ry="1.1" transform="rotate(164 643.2 237.8)" fill="#1010d0"/><ellipse cx="619.9" cy="216.3" rx="1.5" ry="1.1" transform="rotate(26 619.9 216.3)" fill="#1818f0"/><ellipse cx="649.8" cy="266.5" rx="1.4" ry="1.2" transform="rotate(72 649.8 266.5)" fill="#1010d0"/><ellipse cx="586.4" cy="228.0" rx="1.5" ry="1.0" transform="rotate(84 586.4 228.0)" fill="#0c0cb8"/><ellipse cx="652.9" cy="189.9" rx="1.6" ry="1.5" transform="rotate(66 652.9 189.9)" fill="#1a1aff"/><ellipse cx="587.1" cy="194.5" rx="1.5" ry="1.3" transform="rotate(7 587.1 194.5)" fill="#1414e6"/><ellipse cx="622.7" cy="250.3" rx="1.3" ry="1.2" transform="rotate(143 622.7 250.3)" fill="#2222ff"/><ellipse cx="643.2" cy="215.6" rx="1.4" ry="1.0" transform="rotate(71 643.2 215.6)" fill="#1414e6"/><ellipse cx="628.9" cy="231.0" rx="1.4" ry="1.1" transform="rotate(11 628.9 231.0)" fill="#1818f0"/><ellipse cx="585.2" cy="276.9" rx="1.2" ry="1.1" transform="rotate(174 585.2 276.9)" fill="#1818f0"/><ellipse cx="638.2" cy="228.7" rx="1.4" ry="1.2" transform="rotate(124 638.2 228.7)" fill="#1414e6"/><ellipse cx="633.1" cy="191.9" rx="1.5" ry="1.1" transform="rotate(163 633.1 191.9)" fill="#1010d0"/><ellipse cx="617.5" cy="270.4" rx="1.4" ry="1.0" transform="rotate(88 617.5 270.4)" fill="#2222ff"/><ellipse cx="654.2" cy="256.4" rx="1.5" ry="1.1" transform="rotate(96 654.2 256.4)" fill="#1818f0"/><ellipse cx="573.6" cy="195.8" rx="1.6" ry="1.3" transform="rotate(123 573.6 195.8)" fill="#0c0cb8"/><ellipse cx="623.4" cy="262.4" rx="1.5" ry="1.1" transform="rotate(72 623.4 262.4)" fill="#1818f0"/><ellipse cx="580.9" cy="263.4" rx="1.6" ry="1.2" transform="rotate(127 580.9 263.4)" fill="#1818f0"/><ellipse cx="641.0" cy="233.7" rx="1.4" ry="1.1" transform="rotate(114 641.0 233.7)" fill="#1414e6"/><ellipse cx="613.5" cy="208.8" rx="1.6" ry="1.5" transform="rotate(73 613.5 208.8)" fill="#2222ff"/><ellipse cx="602.6" cy="221.8" rx="1.3" ry="1.1" transform="rotate(125 602.6 221.8)" fill="#1818f0"/><ellipse cx="603.4" cy="256.7" rx="1.2" ry="1.1" transform="rotate(109 603.4 256.7)" fill="#2222ff"/><ellipse cx="650.7" cy="252.2" rx="1.2" ry="0.9" transform="rotate(110 650.7 252.2)" fill="#1010d0"/><ellipse cx="650.0" cy="202.1" rx="1.2" ry="1.1" transform="rotate(153 650.0 202.1)" fill="#1818f0"/><ellipse cx="594.1" cy="275.3" rx="1.6" ry="1.2" transform="rotate(11 594.1 275.3)" fill="#1010d0"/><ellipse cx="604.4" cy="192.1" rx="1.7" ry="1.1" transform="rotate(151 604.4 192.1)" fill="#1818f0"/><ellipse cx="568.6" cy="203.1" rx="1.6" ry="1.1" transform="rotate(115 568.6 203.1)" fill="#1a1aff"/><ellipse cx="636.9" cy="222.7" rx="1.2" ry="0.8" transform="rotate(97 636.9 222.7)" fill="#0c0cb8"/><ellipse cx="649.4" cy="212.9" rx="1.6" ry="1.2" transform="rotate(48 649.4 212.9)" fill="#0c0cb8"/><ellipse cx="650.4" cy="266.2" rx="1.4" ry="1.0" transform="rotate(139 650.4 266.2)" fill="#1818f0"/><ellipse cx="639.9" cy="241.3" rx="1.4" ry="1.0" transform="rotate(88 639.9 241.3)" fill="#1818f0"/><ellipse cx="597.2" cy="216.0" rx="1.7" ry="1.4" transform="rotate(106 597.2 216.0)" fill="#1414e6"/><ellipse cx="613.7" cy="209.4" rx="1.5" ry="1.1" transform="rotate(16 613.7 209.4)" fill="#1818f0"/><ellipse cx="592.1" cy="196.6" rx="1.1" ry="1.0" transform="rotate(169 592.1 196.6)" fill="#2222ff"/><ellipse cx="579.0" cy="275.6" rx="1.4" ry="1.1" transform="rotate(170 579.0 275.6)" fill="#2222ff"/><ellipse cx="639.6" cy="210.3" rx="1.3" ry="1.0" transform="rotate(109 639.6 210.3)" fill="#1010d0"/><ellipse cx="622.5" cy="253.9" rx="1.7" ry="1.4" transform="rotate(172 622.5 253.9)" fill="#2222ff"/><ellipse cx="628.7" cy="229.0" rx="1.6" ry="1.3" transform="rotate(65 628.7 229.0)" fill="#1a1aff"/><ellipse cx="598.7" cy="227.5" rx="1.5" ry="1.4" transform="rotate(132 598.7 227.5)" fill="#0c0cb8"/><ellipse cx="575.4" cy="223.1" rx="1.3" ry="1.2" transform="rotate(100 575.4 223.1)" fill="#1a1aff"/><ellipse cx="648.8" cy="206.8" rx="1.4" ry="1.1" transform="rotate(102 648.8 206.8)" fill="#1a1aff"/><ellipse cx="577.1" cy="277.1" rx="1.6" ry="1.0" transform="rotate(153 577.1 277.1)" fill="#1a1aff"/><ellipse cx="649.4" cy="272.0" rx="1.6" ry="1.2" transform="rotate(125 649.4 272.0)" fill="#1a1aff"/><ellipse cx="653.7" cy="234.4" rx="1.5" ry="1.2" transform="rotate(18 653.7 234.4)" fill="#1818f0"/><ellipse cx="643.0" cy="192.6" rx="1.5" ry="1.1" transform="rotate(159 643.0 192.6)" fill="#0c0cb8"/><ellipse cx="569.5" cy="256.6" rx="1.5" ry="1.3" transform="rotate(107 569.5 256.6)" fill="#1818f0"/><ellipse cx="632.8" cy="268.2" rx="1.2" ry="1.1" transform="rotate(112 632.8 268.2)" fill="#1414e6"/><ellipse cx="612.6" cy="227.8" rx="1.3" ry="0.9" transform="rotate(6 612.6 227.8)" fill="#1a1aff"/><ellipse cx="595.8" cy="227.7" rx="1.5" ry="1.4" transform="rotate(65 595.8 227.7)" fill="#1414e6"/><ellipse cx="648.1" cy="218.9" rx="1.6" ry="1.1" transform="rotate(4 648.1 218.9)" fill="#1818f0"/><ellipse cx="577.6" cy="263.3" rx="1.4" ry="1.0" transform="rotate(109 577.6 263.3)" fill="#1a1aff"/><ellipse cx="650.8" cy="247.6" rx="1.6" ry="1.5" transform="rotate(3 650.8 247.6)" fill="#1818f0"/><ellipse cx="593.2" cy="193.2" rx="1.5" ry="1.4" transform="rotate(19 593.2 193.2)" fill="#1a1aff"/><ellipse cx="619.9" cy="190.7" rx="1.1" ry="0.9" transform="rotate(74 619.9 190.7)" fill="#0c0cb8"/><ellipse cx="566.6" cy="253.0" rx="1.3" ry="0.9" transform="rotate(140 566.6 253.0)" fill="#2222ff"/><ellipse cx="632.8" cy="215.1" rx="1.5" ry="1.2" transform="rotate(60 632.8 215.1)" fill="#2222ff"/><ellipse cx="591.8" cy="254.6" rx="1.6" ry="1.2" transform="rotate(126 591.8 254.6)" fill="#2222ff"/><ellipse cx="570.6" cy="208.1" rx="1.5" ry="1.3" transform="rotate(45 570.6 208.1)" fill="#1a1aff"/><ellipse cx="566.7" cy="233.4" rx="1.7" ry="1.2" transform="rotate(172 566.7 233.4)" fill="#2222ff"/><ellipse cx="627.4" cy="197.8" rx="1.6" ry="1.4" transform="rotate(114 627.4 197.8)" fill="#2222ff"/><ellipse cx="624.9" cy="243.1" rx="1.2" ry="0.8" transform="rotate(18 624.9 243.1)" fill="#1010d0"/><ellipse cx="577.5" cy="194.4" rx="1.7" ry="1.4" transform="rotate(123 577.5 194.4)" fill="#1414e6"/><ellipse cx="603.8" cy="211.4" rx="1.4" ry="1.0" transform="rotate(62 603.8 211.4)" fill="#2222ff"/><ellipse cx="638.8" cy="267.8" rx="1.1" ry="1.0" transform="rotate(166 638.8 267.8)" fill="#1414e6"/><ellipse cx="590.6" cy="252.6" rx="1.4" ry="0.9" transform="rotate(67 590.6 252.6)" fill="#2222ff"/><ellipse cx="646.5" cy="199.1" rx="1.3" ry="1.1" transform="rotate(51 646.5 199.1)" fill="#0c0cb8"/><ellipse cx="601.7" cy="202.1" rx="1.6" ry="1.1" transform="rotate(62 601.7 202.1)" fill="#1a1aff"/><ellipse cx="618.0" cy="204.9" rx="1.1" ry="0.9" transform="rotate(167 618.0 204.9)" fill="#1010d0"/><ellipse cx="589.7" cy="225.2" rx="1.2" ry="1.0" transform="rotate(59 589.7 225.2)" fill="#1010d0"/><ellipse cx="633.3" cy="254.6" rx="1.4" ry="1.1" transform="rotate(5 633.3 254.6)" fill="#1a1aff"/><ellipse cx="595.8" cy="208.1" rx="1.7" ry="1.4" transform="rotate(23 595.8 208.1)" fill="#1818f0"/><ellipse cx="615.5" cy="259.0" rx="1.4" ry="1.3" transform="rotate(62 615.5 259.0)" fill="#1818f0"/><ellipse cx="637.6" cy="236.0" rx="1.3" ry="1.0" transform="rotate(9 637.6 236.0)" fill="#0c0cb8"/><ellipse cx="648.1" cy="251.0" rx="1.3" ry="0.9" transform="rotate(16 648.1 251.0)" fill="#0c0cb8"/><ellipse cx="647.7" cy="229.6" rx="1.6" ry="1.0" transform="rotate(59 647.7 229.6)" fill="#1818f0"/><ellipse cx="620.7" cy="247.5" rx="1.4" ry="1.1" transform="rotate(161 620.7 247.5)" fill="#2222ff"/><ellipse cx="578.4" cy="241.1" rx="1.1" ry="0.8" transform="rotate(138 578.4 241.1)" fill="#1414e6"/><ellipse cx="616.3" cy="200.2" rx="1.5" ry="1.4" transform="rotate(45 616.3 200.2)" fill="#1010d0"/><ellipse cx="573.7" cy="247.6" rx="1.3" ry="1.0" transform="rotate(35 573.7 247.6)" fill="#1010d0"/><ellipse cx="591.8" cy="210.2" rx="1.3" ry="1.0" transform="rotate(89 591.8 210.2)" fill="#0c0cb8"/><ellipse cx="624.1" cy="274.2" rx="1.4" ry="1.0" transform="rotate(56 624.1 274.2)" fill="#1818f0"/><ellipse cx="598.0" cy="205.2" rx="1.5" ry="1.2" transform="rotate(26 598.0 205.2)" fill="#1010d0"/><ellipse cx="593.0" cy="260.7" rx="1.5" ry="1.3" transform="rotate(71 593.0 260.7)" fill="#1010d0"/><ellipse cx="627.2" cy="254.0" rx="1.5" ry="1.0" transform="rotate(118 627.2 254.0)" fill="#1010d0"/><ellipse cx="649.1" cy="212.0" rx="1.5" ry="1.2" transform="rotate(54 649.1 212.0)" fill="#2222ff"/><ellipse cx="606.2" cy="271.4" rx="1.5" ry="1.3" transform="rotate(110 606.2 271.4)" fill="#1818f0"/><ellipse cx="597.9" cy="236.7" rx="1.1" ry="0.8" transform="rotate(109 597.9 236.7)" fill="#1a1aff"/><ellipse cx="610.1" cy="207.8" rx="1.7" ry="1.5" transform="rotate(133 610.1 207.8)" fill="#1010d0"/><ellipse cx="595.8" cy="257.0" rx="1.5" ry="1.0" transform="rotate(100 595.8 257.0)" fill="#0c0cb8"/><ellipse cx="623.2" cy="204.0" rx="1.5" ry="1.4" transform="rotate(150 623.2 204.0)" fill="#1818f0"/><ellipse cx="641.8" cy="226.5" rx="1.5" ry="1.0" transform="rotate(103 641.8 226.5)" fill="#1a1aff"/><ellipse cx="629.2" cy="212.3" rx="1.4" ry="1.2" transform="rotate(153 629.2 212.3)" fill="#2222ff"/><ellipse cx="588.7" cy="244.9" rx="1.2" ry="0.8" transform="rotate(164 588.7 244.9)" fill="#1818f0"/><ellipse cx="606.5" cy="219.2" rx="1.7" ry="1.3" transform="rotate(32 606.5 219.2)" fill="#2222ff"/><ellipse cx="612.8" cy="206.3" rx="1.4" ry="1.0" transform="rotate(166 612.8 206.3)" fill="#0c0cb8"/><ellipse cx="601.6" cy="253.0" rx="1.7" ry="1.1" transform="rotate(164 601.6 253.0)" fill="#1414e6"/><ellipse cx="588.6" cy="249.6" rx="1.1" ry="0.9" transform="rotate(1 588.6 249.6)" fill="#1414e6"/><ellipse cx="567.7" cy="228.9" rx="1.2" ry="1.1" transform="rotate(130 567.7 228.9)" fill="#1414e6"/><ellipse cx="612.8" cy="228.6" rx="1.2" ry="0.8" transform="rotate(56 612.8 228.6)" fill="#2222ff"/><ellipse cx="608.3" cy="234.0" rx="1.2" ry="0.9" transform="rotate(115 608.3 234.0)" fill="#0c0cb8"/><ellipse cx="567.5" cy="237.0" rx="1.7" ry="1.6" transform="rotate(42 567.5 237.0)" fill="#1010d0"/><ellipse cx="603.3" cy="214.8" rx="1.3" ry="1.1" transform="rotate(148 603.3 214.8)" fill="#1818f0"/><ellipse cx="622.3" cy="236.9" rx="1.7" ry="1.6" transform="rotate(158 622.3 236.9)" fill="#1818f0"/><ellipse cx="638.5" cy="266.9" rx="1.3" ry="1.0" transform="rotate(160 638.5 266.9)" fill="#1414e6"/><ellipse cx="630.3" cy="245.9" rx="1.2" ry="0.8" transform="rotate(82 630.3 245.9)" fill="#1818f0"/><ellipse cx="622.7" cy="201.0" rx="1.2" ry="1.1" transform="rotate(79 622.7 201.0)" fill="#1a1aff"/><ellipse cx="620.2" cy="223.4" rx="1.3" ry="1.0" transform="rotate(112 620.2 223.4)" fill="#2222ff"/><ellipse cx="612.4" cy="228.4" rx="1.2" ry="0.9" transform="rotate(55 612.4 228.4)" fill="#1818f0"/><ellipse cx="585.8" cy="214.9" rx="1.4" ry="1.1" transform="rotate(103 585.8 214.9)" fill="#1010d0"/><ellipse cx="625.6" cy="230.9" rx="1.2" ry="0.8" transform="rotate(95 625.6 230.9)" fill="#1010d0"/><ellipse cx="639.2" cy="225.6" rx="1.6" ry="1.3" transform="rotate(69 639.2 225.6)" fill="#2222ff"/><ellipse cx="616.7" cy="271.7" rx="1.3" ry="1.2" transform="rotate(154 616.7 271.7)" fill="#1414e6"/></g>
<rect x="630.70" y="269.3" width="15.20" height="2" fill="#fff"/>
<rect x="714.50" y="188.50" width="89.80" height="90.00" fill="#000"/>
<g><ellipse cx="728.2" cy="243.8" rx="1.2" ry="1.0" transform="rotate(109 728.2 243.8)" fill="#2222ff"/><ellipse cx="741.0" cy="227.2" rx="1.4" ry="1.3" transform="rotate(98 741.0 227.2)" fill="#1818f0"/><ellipse cx="761.1" cy="267.3" rx="1.5" ry="1.2" transform="rotate(41 761.1 267.3)" fill="#1414e6"/><ellipse cx="722.5" cy="193.7" rx="1.2" ry="1.0" transform="rotate(162 722.5 193.7)" fill="#1414e6"/><ellipse cx="778.4" cy="235.8" rx="1.4" ry="1.1" transform="rotate(86 778.4 235.8)" fill="#1a1aff"/><ellipse cx="736.9" cy="197.2" rx="1.3" ry="1.1" transform="rotate(92 736.9 197.2)" fill="#1818f0"/><ellipse cx="768.5" cy="263.8" rx="1.2" ry="1.1" transform="rotate(65 768.5 263.8)" fill="#1a1aff"/><ellipse cx="767.3" cy="245.2" rx="1.4" ry="1.1" transform="rotate(79 767.3 245.2)" fill="#1818f0"/><ellipse cx="783.1" cy="212.8" rx="1.3" ry="1.1" transform="rotate(115 783.1 212.8)" fill="#0c0cb8"/><ellipse cx="754.7" cy="244.7" rx="1.6" ry="1.4" transform="rotate(70 754.7 244.7)" fill="#1818f0"/><ellipse cx="733.2" cy="241.2" rx="1.4" ry="1.0" transform="rotate(151 733.2 241.2)" fill="#1010d0"/><ellipse cx="761.9" cy="224.5" rx="1.7" ry="1.6" transform="rotate(31 761.9 224.5)" fill="#1a1aff"/><ellipse cx="784.1" cy="235.6" rx="1.6" ry="1.4" transform="rotate(75 784.1 235.6)" fill="#1414e6"/><ellipse cx="733.9" cy="228.9" rx="1.5" ry="1.1" transform="rotate(75 733.9 228.9)" fill="#1414e6"/><ellipse cx="768.3" cy="236.3" rx="1.1" ry="0.8" transform="rotate(50 768.3 236.3)" fill="#1a1aff"/><ellipse cx="725.6" cy="202.4" rx="1.4" ry="1.0" transform="rotate(131 725.6 202.4)" fill="#2222ff"/><ellipse cx="781.0" cy="227.3" rx="1.5" ry="1.4" transform="rotate(122 781.0 227.3)" fill="#1a1aff"/><ellipse cx="756.3" cy="260.8" rx="1.6" ry="1.3" transform="rotate(152 756.3 260.8)" fill="#1818f0"/><ellipse cx="780.7" cy="212.1" rx="1.7" ry="1.5" transform="rotate(129 780.7 212.1)" fill="#1818f0"/><ellipse cx="789.4" cy="275.1" rx="1.7" ry="1.3" transform="rotate(1 789.4 275.1)" fill="#1010d0"/><ellipse cx="751.1" cy="205.4" rx="1.4" ry="1.3" transform="rotate(43 751.1 205.4)" fill="#1414e6"/><ellipse cx="800.2" cy="245.8" rx="1.4" ry="1.2" transform="rotate(49 800.2 245.8)" fill="#1414e6"/><ellipse cx="779.6" cy="266.2" rx="1.1" ry="0.8" transform="rotate(171 779.6 266.2)" fill="#1414e6"/><ellipse cx="727.1" cy="252.2" rx="1.3" ry="1.2" transform="rotate(13 727.1 252.2)" fill="#1010d0"/><ellipse cx="763.3" cy="230.7" rx="1.6" ry="1.3" transform="rotate(143 763.3 230.7)" fill="#1818f0"/><ellipse cx="715.8" cy="240.9" rx="1.3" ry="1.0" transform="rotate(166 715.8 240.9)" fill="#2222ff"/><ellipse cx="802.6" cy="206.5" rx="1.2" ry="0.9" transform="rotate(36 802.6 206.5)" fill="#2222ff"/><ellipse cx="717.7" cy="234.1" rx="1.4" ry="1.2" transform="rotate(85 717.7 234.1)" fill="#1010d0"/><ellipse cx="723.8" cy="250.8" rx="1.6" ry="1.1" transform="rotate(47 723.8 250.8)" fill="#1a1aff"/><ellipse cx="785.2" cy="250.9" rx="1.2" ry="1.0" transform="rotate(118 785.2 250.9)" fill="#1414e6"/><ellipse cx="784.0" cy="251.5" rx="1.6" ry="1.2" transform="rotate(115 784.0 251.5)" fill="#2222ff"/><ellipse cx="726.9" cy="219.1" rx="1.4" ry="1.0" transform="rotate(174 726.9 219.1)" fill="#1414e6"/><ellipse cx="733.5" cy="248.8" rx="1.3" ry="0.9" transform="rotate(119 733.5 248.8)" fill="#1010d0"/><ellipse cx="758.2" cy="250.7" rx="1.2" ry="0.8" transform="rotate(124 758.2 250.7)" fill="#1414e6"/><ellipse cx="716.6" cy="229.2" rx="1.7" ry="1.5" transform="rotate(178 716.6 229.2)" fill="#0c0cb8"/><ellipse cx="779.5" cy="190.9" rx="1.7" ry="1.6" transform="rotate(127 779.5 190.9)" fill="#1a1aff"/><ellipse cx="754.1" cy="229.0" rx="1.3" ry="1.2" transform="rotate(175 754.1 229.0)" fill="#1414e6"/><ellipse cx="737.6" cy="205.3" rx="1.3" ry="1.2" transform="rotate(124 737.6 205.3)" fill="#1414e6"/><ellipse cx="790.0" cy="245.4" rx="1.3" ry="0.9" transform="rotate(155 790.0 245.4)" fill="#1010d0"/><ellipse cx="740.7" cy="234.7" rx="1.2" ry="0.8" transform="rotate(131 740.7 234.7)" fill="#0c0cb8"/><ellipse cx="734.4" cy="249.5" rx="1.6" ry="1.4" transform="rotate(124 734.4 249.5)" fill="#1414e6"/><ellipse cx="801.3" cy="228.1" rx="1.7" ry="1.4" transform="rotate(44 801.3 228.1)" fill="#0c0cb8"/><ellipse cx="777.0" cy="253.7" rx="1.4" ry="1.1" transform="rotate(146 777.0 253.7)" fill="#1a1aff"/><ellipse cx="753.7" cy="214.2" rx="1.1" ry="0.9" transform="rotate(60 753.7 214.2)" fill="#1a1aff"/><ellipse cx="784.5" cy="271.0" rx="1.7" ry="1.3" transform="rotate(133 784.5 271.0)" fill="#2222ff"/><ellipse cx="756.8" cy="221.6" rx="1.6" ry="1.5" transform="rotate(133 756.8 221.6)" fill="#1010d0"/><ellipse cx="716.0" cy="265.2" rx="1.4" ry="1.2" transform="rotate(7 716.0 265.2)" fill="#1414e6"/><ellipse cx="732.0" cy="223.2" rx="1.7" ry="1.3" transform="rotate(153 732.0 223.2)" fill="#1414e6"/><ellipse cx="759.6" cy="196.3" rx="1.4" ry="1.3" transform="rotate(128 759.6 196.3)" fill="#1a1aff"/><ellipse cx="797.7" cy="222.9" rx="1.4" ry="0.9" transform="rotate(174 797.7 222.9)" fill="#1a1aff"/><ellipse cx="780.8" cy="219.9" rx="1.5" ry="1.2" transform="rotate(66 780.8 219.9)" fill="#1010d0"/><ellipse cx="773.9" cy="197.8" rx="1.6" ry="1.2" transform="rotate(34 773.9 197.8)" fill="#1010d0"/><ellipse cx="727.5" cy="272.6" rx="1.3" ry="1.1" transform="rotate(33 727.5 272.6)" fill="#1414e6"/><ellipse cx="752.4" cy="221.2" rx="1.6" ry="1.2" transform="rotate(96 752.4 221.2)" fill="#2222ff"/><ellipse cx="756.1" cy="264.2" rx="1.4" ry="0.9" transform="rotate(141 756.1 264.2)" fill="#0c0cb8"/><ellipse cx="748.1" cy="192.2" rx="1.2" ry="1.1" transform="rotate(178 748.1 192.2)" fill="#1414e6"/><ellipse cx="786.4" cy="271.1" rx="1.1" ry="1.0" transform="rotate(82 786.4 271.1)" fill="#1414e6"/><ellipse cx="761.3" cy="203.2" rx="1.5" ry="1.2" transform="rotate(104 761.3 203.2)" fill="#1010d0"/><ellipse cx="757.4" cy="268.4" rx="1.5" ry="1.0" transform="rotate(148 757.4 268.4)" fill="#1414e6"/><ellipse cx="787.8" cy="226.0" rx="1.5" ry="1.3" transform="rotate(125 787.8 226.0)" fill="#1414e6"/><ellipse cx="755.6" cy="222.3" rx="1.6" ry="1.2" transform="rotate(23 755.6 222.3)" fill="#0c0cb8"/><ellipse cx="721.6" cy="255.5" rx="1.5" ry="1.0" transform="rotate(172 721.6 255.5)" fill="#1818f0"/><ellipse cx="801.2" cy="223.7" rx="1.2" ry="0.9" transform="rotate(93 801.2 223.7)" fill="#1414e6"/><ellipse cx="736.5" cy="246.2" rx="1.5" ry="1.1" transform="rotate(84 736.5 246.2)" fill="#1010d0"/><ellipse cx="773.6" cy="207.4" rx="1.3" ry="1.1" transform="rotate(71 773.6 207.4)" fill="#1010d0"/><ellipse cx="745.4" cy="246.2" rx="1.3" ry="1.2" transform="rotate(50 745.4 246.2)" fill="#1818f0"/><ellipse cx="794.3" cy="271.5" rx="1.7" ry="1.4" transform="rotate(125 794.3 271.5)" fill="#2222ff"/><ellipse cx="783.2" cy="191.4" rx="1.5" ry="1.4" transform="rotate(88 783.2 191.4)" fill="#1a1aff"/><ellipse cx="725.1" cy="258.8" rx="1.7" ry="1.6" transform="rotate(170 725.1 258.8)" fill="#0c0cb8"/><ellipse cx="730.4" cy="229.1" rx="1.5" ry="1.3" transform="rotate(29 730.4 229.1)" fill="#1a1aff"/><ellipse cx="778.0" cy="231.6" rx="1.4" ry="1.3" transform="rotate(143 778.0 231.6)" fill="#1a1aff"/><ellipse cx="718.9" cy="271.4" rx="1.4" ry="1.0" transform="rotate(82 718.9 271.4)" fill="#2222ff"/><ellipse cx="755.0" cy="223.2" rx="1.3" ry="1.0" transform="rotate(13 755.0 223.2)" fill="#1414e6"/><ellipse cx="731.9" cy="231.8" rx="1.6" ry="1.5" transform="rotate(17 731.9 231.8)" fill="#0c0cb8"/><ellipse cx="790.1" cy="231.9" rx="1.6" ry="1.2" transform="rotate(103 790.1 231.9)" fill="#0c0cb8"/><ellipse cx="716.2" cy="260.1" rx="1.4" ry="1.0" transform="rotate(169 716.2 260.1)" fill="#1414e6"/><ellipse cx="739.5" cy="256.5" rx="1.4" ry="1.3" transform="rotate(123 739.5 256.5)" fill="#1a1aff"/><ellipse cx="735.7" cy="276.1" rx="1.2" ry="1.0" transform="rotate(180 735.7 276.1)" fill="#1010d0"/><ellipse cx="730.6" cy="226.8" rx="1.5" ry="1.3" transform="rotate(116 730.6 226.8)" fill="#2222ff"/><ellipse cx="779.2" cy="214.1" rx="1.2" ry="1.0" transform="rotate(42 779.2 214.1)" fill="#0c0cb8"/><ellipse cx="792.4" cy="207.8" rx="1.4" ry="1.2" transform="rotate(118 792.4 207.8)" fill="#2222ff"/><ellipse cx="773.3" cy="204.3" rx="1.4" ry="1.0" transform="rotate(69 773.3 204.3)" fill="#1818f0"/><ellipse cx="802.2" cy="209.6" rx="1.6" ry="1.1" transform="rotate(132 802.2 209.6)" fill="#1a1aff"/><ellipse cx="777.3" cy="246.5" rx="1.1" ry="1.1" transform="rotate(72 777.3 246.5)" fill="#1818f0"/><ellipse cx="730.1" cy="261.5" rx="1.6" ry="1.4" transform="rotate(145 730.1 261.5)" fill="#1414e6"/><ellipse cx="721.4" cy="253.7" rx="1.4" ry="1.1" transform="rotate(169 721.4 253.7)" fill="#1818f0"/><ellipse cx="800.0" cy="258.7" rx="1.6" ry="1.4" transform="rotate(47 800.0 258.7)" fill="#1010d0"/><ellipse cx="783.8" cy="208.6" rx="1.3" ry="1.3" transform="rotate(132 783.8 208.6)" fill="#2222ff"/><ellipse cx="744.8" cy="251.2" rx="1.6" ry="1.0" transform="rotate(69 744.8 251.2)" fill="#0c0cb8"/><ellipse cx="752.2" cy="267.3" rx="1.6" ry="1.1" transform="rotate(72 752.2 267.3)" fill="#2222ff"/><ellipse cx="779.8" cy="242.5" rx="1.5" ry="1.0" transform="rotate(102 779.8 242.5)" fill="#1818f0"/><ellipse cx="755.3" cy="236.7" rx="1.2" ry="0.9" transform="rotate(80 755.3 236.7)" fill="#1010d0"/><ellipse cx="788.0" cy="194.8" rx="1.6" ry="1.3" transform="rotate(45 788.0 194.8)" fill="#1010d0"/><ellipse cx="716.4" cy="222.7" rx="1.2" ry="1.0" transform="rotate(136 716.4 222.7)" fill="#1818f0"/><ellipse cx="743.3" cy="215.7" rx="1.7" ry="1.6" transform="rotate(64 743.3 215.7)" fill="#0c0cb8"/><ellipse cx="755.8" cy="240.0" rx="1.7" ry="1.3" transform="rotate(65 755.8 240.0)" fill="#1818f0"/><ellipse cx="725.4" cy="269.4" rx="1.5" ry="1.1" transform="rotate(160 725.4 269.4)" fill="#0c0cb8"/><ellipse cx="796.0" cy="215.4" rx="1.7" ry="1.6" transform="rotate(69 796.0 215.4)" fill="#1a1aff"/><ellipse cx="760.2" cy="233.4" rx="1.4" ry="1.2" transform="rotate(64 760.2 233.4)" fill="#2222ff"/><ellipse cx="763.9" cy="209.9" rx="1.3" ry="1.2" transform="rotate(46 763.9 209.9)" fill="#1010d0"/><ellipse cx="792.5" cy="206.1" rx="1.4" ry="1.0" transform="rotate(9 792.5 206.1)" fill="#1414e6"/><ellipse cx="747.3" cy="262.0" rx="1.3" ry="1.0" transform="rotate(130 747.3 262.0)" fill="#0c0cb8"/><ellipse cx="796.9" cy="265.7" rx="1.4" ry="1.3" transform="rotate(145 796.9 265.7)" fill="#0c0cb8"/><ellipse cx="734.7" cy="223.6" rx="1.2" ry="1.1" transform="rotate(47 734.7 223.6)" fill="#1a1aff"/><ellipse cx="746.9" cy="261.0" rx="1.5" ry="1.0" transform="rotate(70 746.9 261.0)" fill="#1a1aff"/><ellipse cx="765.0" cy="240.7" rx="1.5" ry="1.4" transform="rotate(142 765.0 240.7)" fill="#1010d0"/><ellipse cx="730.5" cy="275.3" rx="1.2" ry="1.1" transform="rotate(49 730.5 275.3)" fill="#0c0cb8"/><ellipse cx="760.0" cy="263.8" rx="1.4" ry="1.0" transform="rotate(159 760.0 263.8)" fill="#1a1aff"/><ellipse cx="754.5" cy="189.9" rx="1.6" ry="1.2" transform="rotate(8 754.5 189.9)" fill="#1010d0"/><ellipse cx="766.6" cy="264.9" rx="1.1" ry="1.0" transform="rotate(25 766.6 264.9)" fill="#1a1aff"/><ellipse cx="792.4" cy="203.1" rx="1.6" ry="1.6" transform="rotate(116 792.4 203.1)" fill="#1a1aff"/><ellipse cx="768.7" cy="202.0" rx="1.7" ry="1.3" transform="rotate(38 768.7 202.0)" fill="#0c0cb8"/><ellipse cx="765.2" cy="259.6" rx="1.3" ry="1.1" transform="rotate(38 765.2 259.6)" fill="#1a1aff"/><ellipse cx="788.4" cy="273.8" rx="1.3" ry="1.0" transform="rotate(103 788.4 273.8)" fill="#0c0cb8"/><ellipse cx="727.1" cy="211.9" rx="1.7" ry="1.6" transform="rotate(28 727.1 211.9)" fill="#1414e6"/><ellipse cx="727.6" cy="213.2" rx="1.2" ry="1.0" transform="rotate(109 727.6 213.2)" fill="#1414e6"/><ellipse cx="740.2" cy="197.4" rx="1.7" ry="1.4" transform="rotate(161 740.2 197.4)" fill="#2222ff"/><ellipse cx="753.7" cy="218.6" rx="1.6" ry="1.4" transform="rotate(118 753.7 218.6)" fill="#0c0cb8"/><ellipse cx="718.4" cy="230.8" rx="1.3" ry="1.1" transform="rotate(128 718.4 230.8)" fill="#1a1aff"/><ellipse cx="798.0" cy="243.6" rx="1.3" ry="1.0" transform="rotate(119 798.0 243.6)" fill="#1a1aff"/><ellipse cx="718.5" cy="231.6" rx="1.5" ry="1.1" transform="rotate(7 718.5 231.6)" fill="#2222ff"/><ellipse cx="788.7" cy="191.4" rx="1.2" ry="0.9" transform="rotate(118 788.7 191.4)" fill="#1a1aff"/><ellipse cx="792.5" cy="254.4" rx="1.4" ry="1.2" transform="rotate(167 792.5 254.4)" fill="#1010d0"/><ellipse cx="792.6" cy="259.3" rx="1.7" ry="1.6" transform="rotate(113 792.6 259.3)" fill="#2222ff"/><ellipse cx="720.5" cy="214.3" rx="1.4" ry="1.1" transform="rotate(162 720.5 214.3)" fill="#0c0cb8"/><ellipse cx="724.4" cy="239.9" rx="1.2" ry="0.8" transform="rotate(104 724.4 239.9)" fill="#0c0cb8"/><ellipse cx="718.6" cy="276.7" rx="1.4" ry="1.1" transform="rotate(78 718.6 276.7)" fill="#1a1aff"/><ellipse cx="724.7" cy="219.4" rx="1.7" ry="1.5" transform="rotate(160 724.7 219.4)" fill="#1a1aff"/><ellipse cx="772.2" cy="262.3" rx="1.3" ry="1.0" transform="rotate(141 772.2 262.3)" fill="#1010d0"/><ellipse cx="726.4" cy="226.7" rx="1.3" ry="1.0" transform="rotate(139 726.4 226.7)" fill="#1414e6"/><ellipse cx="798.3" cy="195.9" rx="1.2" ry="0.9" transform="rotate(139 798.3 195.9)" fill="#1818f0"/><ellipse cx="789.5" cy="200.1" rx="1.4" ry="1.0" transform="rotate(124 789.5 200.1)" fill="#1414e6"/><ellipse cx="743.0" cy="222.8" rx="1.1" ry="1.0" transform="rotate(61 743.0 222.8)" fill="#1010d0"/><ellipse cx="795.2" cy="215.8" rx="1.6" ry="1.3" transform="rotate(75 795.2 215.8)" fill="#2222ff"/><ellipse cx="763.8" cy="234.2" rx="1.3" ry="1.2" transform="rotate(95 763.8 234.2)" fill="#2222ff"/><ellipse cx="742.8" cy="233.3" rx="1.2" ry="0.9" transform="rotate(168 742.8 233.3)" fill="#1818f0"/><ellipse cx="768.8" cy="203.7" rx="1.4" ry="1.3" transform="rotate(95 768.8 203.7)" fill="#1010d0"/><ellipse cx="748.1" cy="190.4" rx="1.5" ry="1.4" transform="rotate(20 748.1 190.4)" fill="#1010d0"/><ellipse cx="752.6" cy="256.3" rx="1.3" ry="1.0" transform="rotate(140 752.6 256.3)" fill="#1010d0"/><ellipse cx="739.3" cy="235.7" rx="1.3" ry="1.0" transform="rotate(115 739.3 235.7)" fill="#1a1aff"/><ellipse cx="769.5" cy="205.5" rx="1.4" ry="1.0" transform="rotate(3 769.5 205.5)" fill="#1818f0"/><ellipse cx="719.6" cy="246.4" rx="1.1" ry="1.0" transform="rotate(1 719.6 246.4)" fill="#1414e6"/><ellipse cx="800.0" cy="190.9" rx="1.6" ry="1.4" transform="rotate(127 800.0 190.9)" fill="#1a1aff"/><ellipse cx="758.7" cy="261.5" rx="1.2" ry="1.1" transform="rotate(55 758.7 261.5)" fill="#1a1aff"/><ellipse cx="792.7" cy="241.7" rx="1.1" ry="0.8" transform="rotate(150 792.7 241.7)" fill="#1414e6"/><ellipse cx="776.3" cy="192.5" rx="1.5" ry="1.2" transform="rotate(105 776.3 192.5)" fill="#1414e6"/><ellipse cx="730.0" cy="238.0" rx="1.6" ry="1.2" transform="rotate(44 730.0 238.0)" fill="#1818f0"/><ellipse cx="745.2" cy="216.4" rx="1.6" ry="1.5" transform="rotate(32 745.2 216.4)" fill="#1010d0"/><ellipse cx="768.4" cy="243.7" rx="1.1" ry="0.9" transform="rotate(9 768.4 243.7)" fill="#1414e6"/><ellipse cx="723.9" cy="224.2" rx="1.6" ry="1.1" transform="rotate(81 723.9 224.2)" fill="#2222ff"/><ellipse cx="754.8" cy="250.9" rx="1.3" ry="0.9" transform="rotate(135 754.8 250.9)" fill="#2222ff"/><ellipse cx="793.8" cy="246.0" rx="1.6" ry="1.1" transform="rotate(42 793.8 246.0)" fill="#0c0cb8"/><ellipse cx="770.8" cy="250.5" rx="1.4" ry="1.0" transform="rotate(173 770.8 250.5)" fill="#1818f0"/><ellipse cx="741.8" cy="234.6" rx="1.6" ry="1.5" transform="rotate(18 741.8 234.6)" fill="#1010d0"/><ellipse cx="769.0" cy="232.8" rx="1.6" ry="1.3" transform="rotate(97 769.0 232.8)" fill="#1414e6"/><ellipse cx="732.2" cy="265.7" rx="1.4" ry="1.1" transform="rotate(144 732.2 265.7)" fill="#0c0cb8"/><ellipse cx="743.5" cy="207.6" rx="1.3" ry="0.8" transform="rotate(170 743.5 207.6)" fill="#1a1aff"/><ellipse cx="782.9" cy="275.8" rx="1.2" ry="1.0" transform="rotate(141 782.9 275.8)" fill="#2222ff"/><ellipse cx="732.2" cy="212.4" rx="1.6" ry="1.3" transform="rotate(143 732.2 212.4)" fill="#0c0cb8"/><ellipse cx="721.4" cy="266.3" rx="1.4" ry="1.4" transform="rotate(99 721.4 266.3)" fill="#1414e6"/><ellipse cx="772.8" cy="218.3" rx="1.4" ry="1.3" transform="rotate(173 772.8 218.3)" fill="#0c0cb8"/><ellipse cx="766.4" cy="266.6" rx="1.6" ry="1.2" transform="rotate(109 766.4 266.6)" fill="#2222ff"/><ellipse cx="774.4" cy="230.1" rx="1.6" ry="1.1" transform="rotate(127 774.4 230.1)" fill="#1a1aff"/><ellipse cx="759.8" cy="211.1" rx="1.2" ry="1.0" transform="rotate(76 759.8 211.1)" fill="#0c0cb8"/><ellipse cx="775.6" cy="213.8" rx="1.6" ry="1.3" transform="rotate(168 775.6 213.8)" fill="#1818f0"/><ellipse cx="791.7" cy="229.8" rx="1.2" ry="1.0" transform="rotate(94 791.7 229.8)" fill="#1a1aff"/><ellipse cx="765.3" cy="191.7" rx="1.3" ry="0.9" transform="rotate(69 765.3 191.7)" fill="#1414e6"/><ellipse cx="723.8" cy="190.1" rx="1.3" ry="1.0" transform="rotate(15 723.8 190.1)" fill="#1a1aff"/><ellipse cx="786.2" cy="262.5" rx="1.5" ry="1.2" transform="rotate(101 786.2 262.5)" fill="#1414e6"/><ellipse cx="794.8" cy="199.5" rx="1.5" ry="1.2" transform="rotate(108 794.8 199.5)" fill="#2222ff"/><ellipse cx="725.4" cy="262.3" rx="1.6" ry="1.5" transform="rotate(17 725.4 262.3)" fill="#1a1aff"/><ellipse cx="724.2" cy="256.2" rx="1.7" ry="1.2" transform="rotate(107 724.2 256.2)" fill="#2222ff"/><ellipse cx="785.5" cy="262.1" rx="1.5" ry="1.2" transform="rotate(97 785.5 262.1)" fill="#1a1aff"/><ellipse cx="781.5" cy="248.3" rx="1.6" ry="1.2" transform="rotate(60 781.5 248.3)" fill="#2222ff"/><ellipse cx="783.6" cy="204.4" rx="1.2" ry="0.8" transform="rotate(126 783.6 204.4)" fill="#1010d0"/><ellipse cx="773.0" cy="255.2" rx="1.3" ry="0.8" transform="rotate(177 773.0 255.2)" fill="#1414e6"/><ellipse cx="759.4" cy="210.0" rx="1.4" ry="1.2" transform="rotate(22 759.4 210.0)" fill="#0c0cb8"/><ellipse cx="779.6" cy="222.8" rx="1.2" ry="0.9" transform="rotate(149 779.6 222.8)" fill="#2222ff"/><ellipse cx="716.0" cy="255.4" rx="1.5" ry="1.1" transform="rotate(14 716.0 255.4)" fill="#0c0cb8"/><ellipse cx="726.5" cy="219.3" rx="1.5" ry="1.2" transform="rotate(137 726.5 219.3)" fill="#1818f0"/><ellipse cx="741.9" cy="269.4" rx="1.5" ry="1.0" transform="rotate(158 741.9 269.4)" fill="#1a1aff"/><ellipse cx="780.2" cy="223.0" rx="1.1" ry="0.9" transform="rotate(60 780.2 223.0)" fill="#1a1aff"/><ellipse cx="778.4" cy="191.7" rx="1.5" ry="1.1" transform="rotate(101 778.4 191.7)" fill="#1818f0"/><ellipse cx="720.6" cy="275.6" rx="1.6" ry="1.2" transform="rotate(95 720.6 275.6)" fill="#1010d0"/><ellipse cx="768.6" cy="193.1" rx="1.4" ry="1.2" transform="rotate(180 768.6 193.1)" fill="#0c0cb8"/><ellipse cx="727.4" cy="271.3" rx="1.2" ry="1.0" transform="rotate(132 727.4 271.3)" fill="#1a1aff"/><ellipse cx="774.4" cy="258.5" rx="1.7" ry="1.3" transform="rotate(37 774.4 258.5)" fill="#1414e6"/><ellipse cx="792.1" cy="239.8" rx="1.6" ry="1.2" transform="rotate(75 792.1 239.8)" fill="#1010d0"/><ellipse cx="724.4" cy="239.2" rx="1.6" ry="1.3" transform="rotate(12 724.4 239.2)" fill="#1414e6"/><ellipse cx="782.7" cy="240.0" rx="1.4" ry="1.3" transform="rotate(22 782.7 240.0)" fill="#0c0cb8"/><ellipse cx="726.2" cy="211.6" rx="1.4" ry="0.9" transform="rotate(144 726.2 211.6)" fill="#1414e6"/><ellipse cx="803.2" cy="251.1" rx="1.7" ry="1.2" transform="rotate(130 803.2 251.1)" fill="#0c0cb8"/><ellipse cx="715.7" cy="210.4" rx="1.6" ry="1.2" transform="rotate(49 715.7 210.4)" fill="#0c0cb8"/><ellipse cx="775.9" cy="201.9" rx="1.5" ry="1.0" transform="rotate(175 775.9 201.9)" fill="#1818f0"/><ellipse cx="740.8" cy="255.2" rx="1.5" ry="1.4" transform="rotate(46 740.8 255.2)" fill="#1818f0"/><ellipse cx="727.9" cy="250.4" rx="1.3" ry="1.1" transform="rotate(175 727.9 250.4)" fill="#1818f0"/><ellipse cx="724.9" cy="232.2" rx="1.5" ry="1.0" transform="rotate(3 724.9 232.2)" fill="#1a1aff"/><ellipse cx="777.4" cy="206.3" rx="1.5" ry="1.4" transform="rotate(52 777.4 206.3)" fill="#0c0cb8"/><ellipse cx="756.7" cy="201.3" rx="1.5" ry="1.3" transform="rotate(84 756.7 201.3)" fill="#1414e6"/><ellipse cx="803.1" cy="261.2" rx="1.7" ry="1.3" transform="rotate(53 803.1 261.2)" fill="#2222ff"/><ellipse cx="735.7" cy="212.0" rx="1.5" ry="1.1" transform="rotate(167 735.7 212.0)" fill="#1414e6"/><ellipse cx="758.8" cy="220.0" rx="1.1" ry="0.7" transform="rotate(66 758.8 220.0)" fill="#1818f0"/><ellipse cx="799.1" cy="202.2" rx="1.4" ry="1.0" transform="rotate(128 799.1 202.2)" fill="#2222ff"/><ellipse cx="776.1" cy="275.0" rx="1.6" ry="1.3" transform="rotate(46 776.1 275.0)" fill="#1a1aff"/><ellipse cx="722.0" cy="257.8" rx="1.5" ry="1.1" transform="rotate(80 722.0 257.8)" fill="#0c0cb8"/><ellipse cx="732.5" cy="263.6" rx="1.3" ry="1.1" transform="rotate(121 732.5 263.6)" fill="#1818f0"/><ellipse cx="768.9" cy="224.2" rx="1.7" ry="1.5" transform="rotate(149 768.9 224.2)" fill="#1a1aff"/><ellipse cx="794.8" cy="218.3" rx="1.3" ry="1.2" transform="rotate(33 794.8 218.3)" fill="#0c0cb8"/><ellipse cx="740.8" cy="254.7" rx="1.1" ry="0.8" transform="rotate(132 740.8 254.7)" fill="#0c0cb8"/><ellipse cx="784.2" cy="245.6" rx="1.3" ry="0.9" transform="rotate(78 784.2 245.6)" fill="#1a1aff"/><ellipse cx="734.6" cy="228.0" rx="1.3" ry="0.9" transform="rotate(125 734.6 228.0)" fill="#1010d0"/><ellipse cx="800.9" cy="242.2" rx="1.4" ry="1.1" transform="rotate(144 800.9 242.2)" fill="#1818f0"/><ellipse cx="802.2" cy="220.8" rx="1.6" ry="1.3" transform="rotate(158 802.2 220.8)" fill="#1414e6"/><ellipse cx="747.2" cy="247.5" rx="1.4" ry="1.0" transform="rotate(81 747.2 247.5)" fill="#1010d0"/><ellipse cx="790.2" cy="265.9" rx="1.6" ry="1.1" transform="rotate(37 790.2 265.9)" fill="#1818f0"/><ellipse cx="733.1" cy="240.0" rx="1.2" ry="1.1" transform="rotate(128 733.1 240.0)" fill="#1414e6"/><ellipse cx="795.8" cy="267.0" rx="1.7" ry="1.2" transform="rotate(153 795.8 267.0)" fill="#2222ff"/><ellipse cx="716.9" cy="266.4" rx="1.2" ry="1.0" transform="rotate(175 716.9 266.4)" fill="#1414e6"/><ellipse cx="733.7" cy="252.2" rx="1.3" ry="1.2" transform="rotate(93 733.7 252.2)" fill="#2222ff"/><ellipse cx="720.1" cy="196.4" rx="1.2" ry="0.8" transform="rotate(45 720.1 196.4)" fill="#2222ff"/><ellipse cx="780.3" cy="255.4" rx="1.5" ry="1.0" transform="rotate(119 780.3 255.4)" fill="#1818f0"/><ellipse cx="777.7" cy="239.6" rx="1.2" ry="0.9" transform="rotate(79 777.7 239.6)" fill="#1414e6"/><ellipse cx="721.3" cy="214.3" rx="1.4" ry="1.1" transform="rotate(72 721.3 214.3)" fill="#0c0cb8"/><ellipse cx="765.4" cy="242.8" rx="1.5" ry="1.4" transform="rotate(61 765.4 242.8)" fill="#0c0cb8"/><ellipse cx="735.1" cy="194.9" rx="1.6" ry="1.4" transform="rotate(89 735.1 194.9)" fill="#1414e6"/><ellipse cx="747.1" cy="243.7" rx="1.5" ry="1.4" transform="rotate(91 747.1 243.7)" fill="#2222ff"/><ellipse cx="727.9" cy="241.6" rx="1.3" ry="1.0" transform="rotate(51 727.9 241.6)" fill="#1010d0"/><ellipse cx="758.2" cy="216.2" rx="1.3" ry="0.9" transform="rotate(125 758.2 216.2)" fill="#1818f0"/><ellipse cx="803.2" cy="248.7" rx="1.3" ry="1.2" transform="rotate(128 803.2 248.7)" fill="#1a1aff"/><ellipse cx="792.1" cy="212.3" rx="1.7" ry="1.4" transform="rotate(80 792.1 212.3)" fill="#1a1aff"/><ellipse cx="730.2" cy="212.1" rx="1.4" ry="1.2" transform="rotate(56 730.2 212.1)" fill="#1010d0"/><ellipse cx="756.5" cy="243.8" rx="1.7" ry="1.3" transform="rotate(101 756.5 243.8)" fill="#1414e6"/><ellipse cx="784.6" cy="258.4" rx="1.5" ry="1.3" transform="rotate(103 784.6 258.4)" fill="#2222ff"/><ellipse cx="794.8" cy="234.3" rx="1.5" ry="1.1" transform="rotate(7 794.8 234.3)" fill="#1010d0"/><ellipse cx="759.3" cy="248.4" rx="1.5" ry="1.1" transform="rotate(38 759.3 248.4)" fill="#1010d0"/><ellipse cx="740.4" cy="195.1" rx="1.3" ry="0.9" transform="rotate(165 740.4 195.1)" fill="#1010d0"/><ellipse cx="716.9" cy="193.4" rx="1.4" ry="1.0" transform="rotate(28 716.9 193.4)" fill="#2222ff"/><ellipse cx="735.6" cy="262.3" rx="1.7" ry="1.4" transform="rotate(41 735.6 262.3)" fill="#1a1aff"/><ellipse cx="781.2" cy="213.1" rx="1.7" ry="1.3" transform="rotate(104 781.2 213.1)" fill="#1010d0"/><ellipse cx="796.6" cy="220.4" rx="1.2" ry="1.0" transform="rotate(42 796.6 220.4)" fill="#2222ff"/><ellipse cx="742.1" cy="222.7" rx="1.2" ry="0.9" transform="rotate(123 742.1 222.7)" fill="#1010d0"/><ellipse cx="720.6" cy="267.9" rx="1.5" ry="1.2" transform="rotate(175 720.6 267.9)" fill="#1818f0"/><ellipse cx="725.6" cy="202.6" rx="1.1" ry="0.8" transform="rotate(20 725.6 202.6)" fill="#0c0cb8"/><ellipse cx="799.4" cy="193.7" rx="1.5" ry="1.2" transform="rotate(51 799.4 193.7)" fill="#1010d0"/><ellipse cx="780.7" cy="209.9" rx="1.1" ry="1.0" transform="rotate(41 780.7 209.9)" fill="#1818f0"/><ellipse cx="792.9" cy="259.0" rx="1.2" ry="1.0" transform="rotate(48 792.9 259.0)" fill="#1010d0"/><ellipse cx="737.2" cy="271.9" rx="1.3" ry="1.1" transform="rotate(88 737.2 271.9)" fill="#1010d0"/><ellipse cx="754.0" cy="247.5" rx="1.7" ry="1.4" transform="rotate(162 754.0 247.5)" fill="#1010d0"/><ellipse cx="794.8" cy="214.1" rx="1.4" ry="1.0" transform="rotate(163 794.8 214.1)" fill="#1a1aff"/><ellipse cx="732.6" cy="269.7" rx="1.5" ry="1.3" transform="rotate(106 732.6 269.7)" fill="#0c0cb8"/><ellipse cx="761.0" cy="262.8" rx="1.3" ry="1.2" transform="rotate(121 761.0 262.8)" fill="#1010d0"/><ellipse cx="794.4" cy="212.3" rx="1.2" ry="0.9" transform="rotate(47 794.4 212.3)" fill="#1414e6"/><ellipse cx="780.2" cy="235.3" rx="1.6" ry="1.5" transform="rotate(153 780.2 235.3)" fill="#0c0cb8"/><ellipse cx="768.3" cy="231.5" rx="1.5" ry="1.4" transform="rotate(172 768.3 231.5)" fill="#1010d0"/><ellipse cx="773.6" cy="232.2" rx="1.2" ry="1.0" transform="rotate(102 773.6 232.2)" fill="#0c0cb8"/><ellipse cx="789.9" cy="190.9" rx="1.3" ry="1.2" transform="rotate(166 789.9 190.9)" fill="#1a1aff"/><ellipse cx="792.9" cy="269.5" rx="1.2" ry="0.9" transform="rotate(131 792.9 269.5)" fill="#1a1aff"/><ellipse cx="777.1" cy="223.7" rx="1.4" ry="1.0" transform="rotate(8 777.1 223.7)" fill="#1a1aff"/><ellipse cx="747.9" cy="250.8" rx="1.2" ry="1.0" transform="rotate(136 747.9 250.8)" fill="#0c0cb8"/><ellipse cx="774.3" cy="248.7" rx="1.2" ry="0.8" transform="rotate(35 774.3 248.7)" fill="#1818f0"/><ellipse cx="744.1" cy="202.2" rx="1.6" ry="1.3" transform="rotate(131 744.1 202.2)" fill="#1a1aff"/><ellipse cx="758.4" cy="254.3" rx="1.1" ry="1.0" transform="rotate(93 758.4 254.3)" fill="#1010d0"/><ellipse cx="770.8" cy="198.9" rx="1.6" ry="1.3" transform="rotate(139 770.8 198.9)" fill="#0c0cb8"/><ellipse cx="738.2" cy="215.8" rx="1.5" ry="1.1" transform="rotate(93 738.2 215.8)" fill="#1414e6"/><ellipse cx="762.8" cy="237.7" rx="1.3" ry="1.2" transform="rotate(38 762.8 237.7)" fill="#0c0cb8"/><ellipse cx="773.2" cy="211.0" rx="1.2" ry="0.9" transform="rotate(102 773.2 211.0)" fill="#1818f0"/><ellipse cx="724.2" cy="266.0" rx="1.6" ry="1.1" transform="rotate(175 724.2 266.0)" fill="#0c0cb8"/><ellipse cx="720.5" cy="269.3" rx="1.3" ry="0.9" transform="rotate(11 720.5 269.3)" fill="#1010d0"/><ellipse cx="716.7" cy="205.0" rx="1.3" ry="1.0" transform="rotate(95 716.7 205.0)" fill="#1414e6"/><ellipse cx="783.1" cy="193.0" rx="1.6" ry="1.1" transform="rotate(105 783.1 193.0)" fill="#1010d0"/><ellipse cx="749.7" cy="268.9" rx="1.4" ry="1.0" transform="rotate(104 749.7 268.9)" fill="#1414e6"/><ellipse cx="740.8" cy="229.3" rx="1.6" ry="1.4" transform="rotate(21 740.8 229.3)" fill="#0c0cb8"/><ellipse cx="750.0" cy="212.9" rx="1.1" ry="1.0" transform="rotate(145 750.0 212.9)" fill="#1010d0"/><ellipse cx="717.0" cy="210.7" rx="1.4" ry="1.0" transform="rotate(84 717.0 210.7)" fill="#1a1aff"/><ellipse cx="751.7" cy="277.2" rx="1.1" ry="0.7" transform="rotate(96 751.7 277.2)" fill="#2222ff"/><ellipse cx="781.3" cy="200.0" rx="1.2" ry="1.0" transform="rotate(136 781.3 200.0)" fill="#1a1aff"/><ellipse cx="716.1" cy="262.8" rx="1.7" ry="1.1" transform="rotate(133 716.1 262.8)" fill="#1a1aff"/><ellipse cx="801.4" cy="206.3" rx="1.5" ry="1.0" transform="rotate(144 801.4 206.3)" fill="#0c0cb8"/><ellipse cx="767.6" cy="241.3" rx="1.4" ry="1.1" transform="rotate(110 767.6 241.3)" fill="#1010d0"/><ellipse cx="794.2" cy="208.1" rx="1.6" ry="1.1" transform="rotate(33 794.2 208.1)" fill="#1a1aff"/><ellipse cx="785.1" cy="209.7" rx="1.2" ry="1.1" transform="rotate(39 785.1 209.7)" fill="#1a1aff"/><ellipse cx="799.2" cy="265.5" rx="1.5" ry="1.1" transform="rotate(24 799.2 265.5)" fill="#1818f0"/><ellipse cx="766.3" cy="276.0" rx="1.2" ry="0.9" transform="rotate(63 766.3 276.0)" fill="#1010d0"/><ellipse cx="787.6" cy="266.6" rx="1.6" ry="1.1" transform="rotate(78 787.6 266.6)" fill="#1010d0"/><ellipse cx="765.8" cy="208.1" rx="1.2" ry="1.0" transform="rotate(24 765.8 208.1)" fill="#1414e6"/><ellipse cx="718.2" cy="237.6" rx="1.4" ry="1.3" transform="rotate(65 718.2 237.6)" fill="#1a1aff"/><ellipse cx="802.3" cy="247.5" rx="1.3" ry="0.9" transform="rotate(101 802.3 247.5)" fill="#2222ff"/><ellipse cx="743.1" cy="226.7" rx="1.5" ry="1.2" transform="rotate(54 743.1 226.7)" fill="#1818f0"/><ellipse cx="750.8" cy="258.8" rx="1.3" ry="1.3" transform="rotate(148 750.8 258.8)" fill="#1a1aff"/><ellipse cx="764.5" cy="222.3" rx="1.5" ry="1.1" transform="rotate(38 764.5 222.3)" fill="#1a1aff"/><ellipse cx="794.9" cy="201.9" rx="1.2" ry="1.0" transform="rotate(129 794.9 201.9)" fill="#1818f0"/><ellipse cx="800.2" cy="233.5" rx="1.6" ry="1.5" transform="rotate(145 800.2 233.5)" fill="#1818f0"/><ellipse cx="727.4" cy="274.3" rx="1.3" ry="1.1" transform="rotate(177 727.4 274.3)" fill="#1010d0"/><ellipse cx="742.8" cy="228.2" rx="1.7" ry="1.4" transform="rotate(22 742.8 228.2)" fill="#1010d0"/><ellipse cx="755.7" cy="224.5" rx="1.5" ry="1.1" transform="rotate(103 755.7 224.5)" fill="#1414e6"/><ellipse cx="790.8" cy="271.4" rx="1.4" ry="1.2" transform="rotate(101 790.8 271.4)" fill="#1010d0"/><ellipse cx="763.0" cy="206.2" rx="1.3" ry="1.0" transform="rotate(161 763.0 206.2)" fill="#2222ff"/><ellipse cx="716.0" cy="243.7" rx="1.2" ry="0.9" transform="rotate(11 716.0 243.7)" fill="#1010d0"/><ellipse cx="740.8" cy="227.4" rx="1.4" ry="1.3" transform="rotate(10 740.8 227.4)" fill="#1010d0"/><ellipse cx="786.8" cy="228.3" rx="1.3" ry="1.2" transform="rotate(79 786.8 228.3)" fill="#0c0cb8"/><ellipse cx="780.1" cy="270.8" rx="1.5" ry="1.1" transform="rotate(64 780.1 270.8)" fill="#1818f0"/><ellipse cx="762.0" cy="240.5" rx="1.3" ry="1.0" transform="rotate(22 762.0 240.5)" fill="#0c0cb8"/><ellipse cx="761.7" cy="259.8" rx="1.3" ry="0.9" transform="rotate(165 761.7 259.8)" fill="#0c0cb8"/><ellipse cx="789.7" cy="225.2" rx="1.3" ry="1.2" transform="rotate(62 789.7 225.2)" fill="#2222ff"/><ellipse cx="740.3" cy="245.9" rx="1.6" ry="1.4" transform="rotate(107 740.3 245.9)" fill="#0c0cb8"/><ellipse cx="791.7" cy="276.9" rx="1.7" ry="1.5" transform="rotate(51 791.7 276.9)" fill="#1818f0"/><ellipse cx="745.2" cy="202.9" rx="1.4" ry="1.0" transform="rotate(93 745.2 202.9)" fill="#1414e6"/><ellipse cx="752.3" cy="251.0" rx="1.3" ry="1.0" transform="rotate(67 752.3 251.0)" fill="#1818f0"/><ellipse cx="776.1" cy="254.7" rx="1.6" ry="1.3" transform="rotate(168 776.1 254.7)" fill="#1818f0"/><ellipse cx="761.6" cy="235.6" rx="1.5" ry="1.2" transform="rotate(85 761.6 235.6)" fill="#1010d0"/><ellipse cx="750.8" cy="199.8" rx="1.2" ry="1.0" transform="rotate(50 750.8 199.8)" fill="#0c0cb8"/><ellipse cx="794.0" cy="253.3" rx="1.5" ry="1.2" transform="rotate(0 794.0 253.3)" fill="#1414e6"/><ellipse cx="717.6" cy="232.9" rx="1.5" ry="1.2" transform="rotate(12 717.6 232.9)" fill="#1818f0"/><ellipse cx="761.9" cy="204.8" rx="1.5" ry="1.3" transform="rotate(80 761.9 204.8)" fill="#1414e6"/><ellipse cx="773.1" cy="240.1" rx="1.7" ry="1.3" transform="rotate(111 773.1 240.1)" fill="#2222ff"/><ellipse cx="779.5" cy="272.8" rx="1.5" ry="1.0" transform="rotate(29 779.5 272.8)" fill="#1414e6"/><ellipse cx="794.5" cy="233.3" rx="1.5" ry="1.1" transform="rotate(26 794.5 233.3)" fill="#0c0cb8"/><ellipse cx="782.4" cy="257.8" rx="1.2" ry="1.1" transform="rotate(173 782.4 257.8)" fill="#2222ff"/><ellipse cx="753.5" cy="216.3" rx="1.3" ry="1.2" transform="rotate(61 753.5 216.3)" fill="#1414e6"/><ellipse cx="780.2" cy="196.1" rx="1.2" ry="0.9" transform="rotate(79 780.2 196.1)" fill="#1a1aff"/><ellipse cx="719.0" cy="221.0" rx="1.3" ry="0.9" transform="rotate(162 719.0 221.0)" fill="#0c0cb8"/><ellipse cx="772.3" cy="219.5" rx="1.3" ry="1.0" transform="rotate(139 772.3 219.5)" fill="#1a1aff"/><ellipse cx="722.1" cy="231.2" rx="1.5" ry="1.4" transform="rotate(113 722.1 231.2)" fill="#1818f0"/><ellipse cx="754.7" cy="259.0" rx="1.5" ry="1.4" transform="rotate(62 754.7 259.0)" fill="#1a1aff"/><ellipse cx="751.7" cy="190.9" rx="1.2" ry="0.8" transform="rotate(26 751.7 190.9)" fill="#2222ff"/><ellipse cx="778.0" cy="266.8" rx="1.7" ry="1.4" transform="rotate(74 778.0 266.8)" fill="#0c0cb8"/><ellipse cx="730.3" cy="218.2" rx="1.4" ry="1.2" transform="rotate(84 730.3 218.2)" fill="#0c0cb8"/><ellipse cx="721.5" cy="227.3" rx="1.5" ry="1.1" transform="rotate(58 721.5 227.3)" fill="#1818f0"/><ellipse cx="799.2" cy="249.8" rx="1.3" ry="1.1" transform="rotate(89 799.2 249.8)" fill="#0c0cb8"/><ellipse cx="773.3" cy="198.4" rx="1.4" ry="1.2" transform="rotate(136 773.3 198.4)" fill="#1818f0"/><ellipse cx="753.7" cy="200.1" rx="1.4" ry="1.0" transform="rotate(124 753.7 200.1)" fill="#1414e6"/><ellipse cx="767.3" cy="219.5" rx="1.6" ry="1.4" transform="rotate(95 767.3 219.5)" fill="#2222ff"/><ellipse cx="767.3" cy="239.1" rx="1.4" ry="1.2" transform="rotate(69 767.3 239.1)" fill="#1a1aff"/><ellipse cx="771.7" cy="258.4" rx="1.1" ry="0.8" transform="rotate(17 771.7 258.4)" fill="#1a1aff"/><ellipse cx="754.7" cy="214.6" rx="1.1" ry="0.8" transform="rotate(147 754.7 214.6)" fill="#1010d0"/><ellipse cx="746.0" cy="221.4" rx="1.6" ry="1.5" transform="rotate(177 746.0 221.4)" fill="#1a1aff"/><ellipse cx="756.8" cy="192.0" rx="1.4" ry="1.0" transform="rotate(5 756.8 192.0)" fill="#1a1aff"/><ellipse cx="727.0" cy="199.6" rx="1.3" ry="1.1" transform="rotate(144 727.0 199.6)" fill="#1818f0"/><ellipse cx="752.9" cy="241.1" rx="1.2" ry="0.9" transform="rotate(36 752.9 241.1)" fill="#1818f0"/><ellipse cx="779.6" cy="199.5" rx="1.6" ry="1.0" transform="rotate(121 779.6 199.5)" fill="#1010d0"/><ellipse cx="733.5" cy="249.1" rx="1.2" ry="0.9" transform="rotate(128 733.5 249.1)" fill="#1010d0"/><ellipse cx="752.1" cy="218.3" rx="1.5" ry="1.0" transform="rotate(149 752.1 218.3)" fill="#1a1aff"/><ellipse cx="717.7" cy="214.2" rx="1.5" ry="1.1" transform="rotate(29 717.7 214.2)" fill="#1010d0"/><ellipse cx="726.8" cy="220.7" rx="1.6" ry="1.0" transform="rotate(64 726.8 220.7)" fill="#1a1aff"/><ellipse cx="722.5" cy="241.6" rx="1.2" ry="1.1" transform="rotate(157 722.5 241.6)" fill="#1010d0"/><ellipse cx="752.2" cy="228.2" rx="1.1" ry="1.0" transform="rotate(166 752.2 228.2)" fill="#1414e6"/><ellipse cx="739.9" cy="235.9" rx="1.2" ry="0.9" transform="rotate(69 739.9 235.9)" fill="#1414e6"/><ellipse cx="768.8" cy="213.6" rx="1.3" ry="1.1" transform="rotate(158 768.8 213.6)" fill="#1818f0"/><ellipse cx="769.0" cy="203.2" rx="1.6" ry="1.5" transform="rotate(103 769.0 203.2)" fill="#1414e6"/><ellipse cx="754.5" cy="196.8" rx="1.6" ry="1.3" transform="rotate(0 754.5 196.8)" fill="#1414e6"/><ellipse cx="782.7" cy="259.9" rx="1.3" ry="1.0" transform="rotate(0 782.7 259.9)" fill="#2222ff"/><ellipse cx="734.6" cy="219.3" rx="1.2" ry="0.9" transform="rotate(132 734.6 219.3)" fill="#0c0cb8"/><ellipse cx="751.5" cy="205.2" rx="1.7" ry="1.2" transform="rotate(25 751.5 205.2)" fill="#1818f0"/><ellipse cx="746.0" cy="195.3" rx="1.3" ry="1.2" transform="rotate(180 746.0 195.3)" fill="#2222ff"/><ellipse cx="795.3" cy="275.6" rx="1.5" ry="1.3" transform="rotate(9 795.3 275.6)" fill="#1010d0"/><ellipse cx="756.4" cy="200.5" rx="1.4" ry="1.0" transform="rotate(38 756.4 200.5)" fill="#1414e6"/><ellipse cx="798.7" cy="224.5" rx="1.6" ry="1.1" transform="rotate(6 798.7 224.5)" fill="#1a1aff"/><ellipse cx="785.9" cy="244.5" rx="1.2" ry="1.2" transform="rotate(39 785.9 244.5)" fill="#1010d0"/><ellipse cx="716.0" cy="277.0" rx="1.4" ry="1.0" transform="rotate(105 716.0 277.0)" fill="#1010d0"/><ellipse cx="764.3" cy="228.8" rx="1.2" ry="0.8" transform="rotate(129 764.3 228.8)" fill="#1414e6"/><ellipse cx="727.0" cy="206.8" rx="1.3" ry="0.9" transform="rotate(76 727.0 206.8)" fill="#1010d0"/><ellipse cx="756.0" cy="229.5" rx="1.5" ry="1.1" transform="rotate(177 756.0 229.5)" fill="#1a1aff"/><ellipse cx="758.1" cy="241.8" rx="1.7" ry="1.2" transform="rotate(106 758.1 241.8)" fill="#0c0cb8"/><ellipse cx="795.5" cy="236.6" rx="1.4" ry="1.3" transform="rotate(125 795.5 236.6)" fill="#1010d0"/><ellipse cx="730.3" cy="252.9" rx="1.6" ry="1.4" transform="rotate(59 730.3 252.9)" fill="#1818f0"/><ellipse cx="759.0" cy="237.6" rx="1.3" ry="1.1" transform="rotate(51 759.0 237.6)" fill="#1a1aff"/><ellipse cx="736.0" cy="215.4" rx="1.7" ry="1.5" transform="rotate(143 736.0 215.4)" fill="#2222ff"/><ellipse cx="803.5" cy="252.3" rx="1.3" ry="1.0" transform="rotate(41 803.5 252.3)" fill="#1a1aff"/><ellipse cx="742.2" cy="258.3" rx="1.6" ry="1.6" transform="rotate(17 742.2 258.3)" fill="#1414e6"/><ellipse cx="736.4" cy="263.1" rx="1.6" ry="1.2" transform="rotate(171 736.4 263.1)" fill="#1010d0"/><ellipse cx="724.1" cy="229.4" rx="1.3" ry="1.2" transform="rotate(176 724.1 229.4)" fill="#1414e6"/><ellipse cx="776.4" cy="244.0" rx="1.6" ry="1.4" transform="rotate(45 776.4 244.0)" fill="#2222ff"/><ellipse cx="721.2" cy="252.8" rx="1.5" ry="1.4" transform="rotate(75 721.2 252.8)" fill="#2222ff"/><ellipse cx="791.5" cy="264.8" rx="1.3" ry="1.0" transform="rotate(99 791.5 264.8)" fill="#0c0cb8"/><ellipse cx="738.4" cy="208.4" rx="1.3" ry="1.1" transform="rotate(162 738.4 208.4)" fill="#1010d0"/><ellipse cx="758.4" cy="214.4" rx="1.3" ry="1.1" transform="rotate(20 758.4 214.4)" fill="#1a1aff"/><ellipse cx="726.3" cy="195.3" rx="1.6" ry="1.5" transform="rotate(2 726.3 195.3)" fill="#1414e6"/><ellipse cx="730.2" cy="231.0" rx="1.1" ry="1.0" transform="rotate(178 730.2 231.0)" fill="#1010d0"/><ellipse cx="773.1" cy="211.7" rx="1.2" ry="1.1" transform="rotate(48 773.1 211.7)" fill="#2222ff"/><ellipse cx="793.8" cy="247.9" rx="1.3" ry="0.9" transform="rotate(141 793.8 247.9)" fill="#1010d0"/><ellipse cx="791.0" cy="271.2" rx="1.3" ry="1.1" transform="rotate(173 791.0 271.2)" fill="#2222ff"/><ellipse cx="786.4" cy="209.6" rx="1.3" ry="1.2" transform="rotate(148 786.4 209.6)" fill="#1818f0"/><ellipse cx="774.6" cy="262.1" rx="1.2" ry="0.9" transform="rotate(11 774.6 262.1)" fill="#0c0cb8"/><ellipse cx="731.9" cy="273.1" rx="1.2" ry="1.0" transform="rotate(71 731.9 273.1)" fill="#1010d0"/><ellipse cx="760.5" cy="208.6" rx="1.2" ry="0.8" transform="rotate(128 760.5 208.6)" fill="#1010d0"/><ellipse cx="763.8" cy="241.6" rx="1.6" ry="1.4" transform="rotate(161 763.8 241.6)" fill="#1818f0"/><ellipse cx="734.6" cy="270.1" rx="1.3" ry="1.2" transform="rotate(112 734.6 270.1)" fill="#1818f0"/><ellipse cx="746.3" cy="234.4" rx="1.7" ry="1.2" transform="rotate(77 746.3 234.4)" fill="#1818f0"/><ellipse cx="753.4" cy="244.2" rx="1.5" ry="1.1" transform="rotate(155 753.4 244.2)" fill="#1a1aff"/><ellipse cx="733.7" cy="213.5" rx="1.5" ry="1.4" transform="rotate(5 733.7 213.5)" fill="#2222ff"/></g>
<rect x="780.50" y="269.3" width="15.80" height="2" fill="#fff"/>
<rect x="863.30" y="188.50" width="89.70" height="90.00" fill="#000"/>
<g><ellipse cx="950.6" cy="229.6" rx="1.5" ry="1.3" transform="rotate(39 950.6 229.6)" fill="#1a1aff"/><ellipse cx="944.7" cy="254.8" rx="1.5" ry="1.2" transform="rotate(61 944.7 254.8)" fill="#1818f0"/><ellipse cx="874.3" cy="196.3" rx="1.2" ry="1.1" transform="rotate(4 874.3 196.3)" fill="#1414e6"/><ellipse cx="949.1" cy="250.5" rx="1.5" ry="1.1" transform="rotate(134 949.1 250.5)" fill="#1818f0"/><ellipse cx="915.3" cy="248.9" rx="1.2" ry="1.0" transform="rotate(139 915.3 248.9)" fill="#0c0cb8"/><ellipse cx="885.9" cy="221.9" rx="1.4" ry="1.4" transform="rotate(111 885.9 221.9)" fill="#2222ff"/><ellipse cx="937.0" cy="252.4" rx="1.6" ry="1.4" transform="rotate(95 937.0 252.4)" fill="#2222ff"/><ellipse cx="910.7" cy="252.0" rx="1.3" ry="1.0" transform="rotate(26 910.7 252.0)" fill="#2222ff"/><ellipse cx="909.3" cy="270.8" rx="1.4" ry="1.0" transform="rotate(151 909.3 270.8)" fill="#1818f0"/><ellipse cx="925.9" cy="197.0" rx="1.4" ry="1.3" transform="rotate(178 925.9 197.0)" fill="#0c0cb8"/><ellipse cx="931.8" cy="197.5" rx="1.3" ry="0.9" transform="rotate(86 931.8 197.5)" fill="#0c0cb8"/><ellipse cx="898.8" cy="261.9" rx="1.4" ry="1.2" transform="rotate(12 898.8 261.9)" fill="#2222ff"/><ellipse cx="932.9" cy="217.9" rx="1.3" ry="0.8" transform="rotate(43 932.9 217.9)" fill="#1414e6"/><ellipse cx="919.0" cy="209.4" rx="1.3" ry="1.1" transform="rotate(116 919.0 209.4)" fill="#2222ff"/><ellipse cx="866.3" cy="229.4" rx="1.2" ry="0.8" transform="rotate(6 866.3 229.4)" fill="#1010d0"/><ellipse cx="924.6" cy="264.6" rx="1.4" ry="1.3" transform="rotate(56 924.6 264.6)" fill="#1414e6"/><ellipse cx="879.9" cy="221.3" rx="1.6" ry="1.0" transform="rotate(111 879.9 221.3)" fill="#1818f0"/><ellipse cx="947.5" cy="249.7" rx="1.3" ry="1.0" transform="rotate(114 947.5 249.7)" fill="#1a1aff"/><ellipse cx="938.7" cy="244.3" rx="1.3" ry="1.2" transform="rotate(74 938.7 244.3)" fill="#1010d0"/><ellipse cx="932.2" cy="261.3" rx="1.5" ry="1.3" transform="rotate(97 932.2 261.3)" fill="#2222ff"/><ellipse cx="886.2" cy="235.4" rx="1.3" ry="1.1" transform="rotate(59 886.2 235.4)" fill="#2222ff"/><ellipse cx="876.3" cy="229.8" rx="1.4" ry="1.3" transform="rotate(102 876.3 229.8)" fill="#1818f0"/><ellipse cx="941.1" cy="272.1" rx="1.1" ry="0.9" transform="rotate(3 941.1 272.1)" fill="#1010d0"/><ellipse cx="877.2" cy="242.4" rx="1.5" ry="1.2" transform="rotate(21 877.2 242.4)" fill="#1818f0"/><ellipse cx="864.8" cy="277.9" rx="1.6" ry="1.3" transform="rotate(20 864.8 277.9)" fill="#1a1aff"/><ellipse cx="876.0" cy="201.9" rx="1.3" ry="1.2" transform="rotate(9 876.0 201.9)" fill="#0c0cb8"/><ellipse cx="886.3" cy="210.9" rx="1.4" ry="1.2" transform="rotate(143 886.3 210.9)" fill="#2222ff"/><ellipse cx="915.2" cy="231.4" rx="1.2" ry="1.0" transform="rotate(118 915.2 231.4)" fill="#0c0cb8"/><ellipse cx="905.2" cy="241.5" rx="1.2" ry="0.9" transform="rotate(64 905.2 241.5)" fill="#1818f0"/><ellipse cx="918.2" cy="250.4" rx="1.3" ry="1.2" transform="rotate(83 918.2 250.4)" fill="#1818f0"/><ellipse cx="868.4" cy="213.8" rx="1.1" ry="1.0" transform="rotate(94 868.4 213.8)" fill="#1a1aff"/><ellipse cx="917.6" cy="217.9" rx="1.3" ry="1.0" transform="rotate(36 917.6 217.9)" fill="#1a1aff"/><ellipse cx="869.8" cy="275.3" rx="1.6" ry="1.4" transform="rotate(167 869.8 275.3)" fill="#1414e6"/><ellipse cx="902.8" cy="217.8" rx="1.3" ry="1.1" transform="rotate(18 902.8 217.8)" fill="#2222ff"/><ellipse cx="940.9" cy="215.7" rx="1.7" ry="1.2" transform="rotate(132 940.9 215.7)" fill="#1010d0"/><ellipse cx="922.5" cy="235.6" rx="1.6" ry="1.4" transform="rotate(115 922.5 235.6)" fill="#1a1aff"/><ellipse cx="926.0" cy="232.7" rx="1.2" ry="0.8" transform="rotate(48 926.0 232.7)" fill="#1818f0"/><ellipse cx="945.3" cy="245.9" rx="1.3" ry="1.2" transform="rotate(18 945.3 245.9)" fill="#1010d0"/><ellipse cx="873.6" cy="211.5" rx="1.6" ry="1.4" transform="rotate(8 873.6 211.5)" fill="#1a1aff"/><ellipse cx="938.2" cy="277.8" rx="1.2" ry="0.9" transform="rotate(60 938.2 277.8)" fill="#1a1aff"/><ellipse cx="941.6" cy="253.6" rx="1.6" ry="1.2" transform="rotate(120 941.6 253.6)" fill="#1414e6"/><ellipse cx="904.3" cy="225.5" rx="1.2" ry="1.1" transform="rotate(105 904.3 225.5)" fill="#1818f0"/><ellipse cx="928.9" cy="261.2" rx="1.6" ry="1.2" transform="rotate(15 928.9 261.2)" fill="#1414e6"/><ellipse cx="890.4" cy="210.0" rx="1.4" ry="1.1" transform="rotate(142 890.4 210.0)" fill="#1818f0"/><ellipse cx="941.4" cy="216.6" rx="1.6" ry="1.4" transform="rotate(126 941.4 216.6)" fill="#1818f0"/><ellipse cx="878.9" cy="213.7" rx="1.5" ry="1.2" transform="rotate(111 878.9 213.7)" fill="#1818f0"/><ellipse cx="933.1" cy="239.9" rx="1.3" ry="0.9" transform="rotate(127 933.1 239.9)" fill="#1a1aff"/><ellipse cx="892.1" cy="210.6" rx="1.2" ry="0.9" transform="rotate(61 892.1 210.6)" fill="#1818f0"/><ellipse cx="903.6" cy="200.8" rx="1.1" ry="1.0" transform="rotate(131 903.6 200.8)" fill="#2222ff"/><ellipse cx="881.5" cy="210.4" rx="1.2" ry="0.9" transform="rotate(66 881.5 210.4)" fill="#2222ff"/><ellipse cx="917.1" cy="244.3" rx="1.6" ry="1.1" transform="rotate(68 917.1 244.3)" fill="#1818f0"/><ellipse cx="914.5" cy="194.6" rx="1.4" ry="1.0" transform="rotate(114 914.5 194.6)" fill="#2222ff"/><ellipse cx="880.0" cy="228.3" rx="1.2" ry="1.1" transform="rotate(54 880.0 228.3)" fill="#1818f0"/><ellipse cx="934.5" cy="265.0" rx="1.3" ry="0.9" transform="rotate(173 934.5 265.0)" fill="#0c0cb8"/><ellipse cx="865.4" cy="259.6" rx="1.5" ry="1.2" transform="rotate(4 865.4 259.6)" fill="#0c0cb8"/><ellipse cx="896.6" cy="240.4" rx="1.3" ry="1.0" transform="rotate(132 896.6 240.4)" fill="#1010d0"/><ellipse cx="865.7" cy="218.8" rx="1.4" ry="1.0" transform="rotate(153 865.7 218.8)" fill="#2222ff"/><ellipse cx="927.1" cy="205.2" rx="1.6" ry="1.3" transform="rotate(32 927.1 205.2)" fill="#1414e6"/><ellipse cx="930.3" cy="225.0" rx="1.2" ry="0.9" transform="rotate(83 930.3 225.0)" fill="#2222ff"/><ellipse cx="925.6" cy="245.3" rx="1.6" ry="1.5" transform="rotate(132 925.6 245.3)" fill="#1414e6"/><ellipse cx="904.9" cy="272.1" rx="1.4" ry="1.2" transform="rotate(135 904.9 272.1)" fill="#2222ff"/><ellipse cx="924.2" cy="274.2" rx="1.4" ry="0.9" transform="rotate(157 924.2 274.2)" fill="#1818f0"/><ellipse cx="916.6" cy="191.6" rx="1.5" ry="1.2" transform="rotate(133 916.6 191.6)" fill="#1414e6"/><ellipse cx="893.4" cy="243.0" rx="1.5" ry="1.4" transform="rotate(69 893.4 243.0)" fill="#1414e6"/><ellipse cx="927.6" cy="198.1" rx="1.5" ry="1.4" transform="rotate(67 927.6 198.1)" fill="#0c0cb8"/><ellipse cx="925.8" cy="262.1" rx="1.5" ry="1.1" transform="rotate(170 925.8 262.1)" fill="#1010d0"/><ellipse cx="936.0" cy="244.8" rx="1.5" ry="1.4" transform="rotate(169 936.0 244.8)" fill="#1414e6"/><ellipse cx="909.1" cy="211.8" rx="1.7" ry="1.3" transform="rotate(139 909.1 211.8)" fill="#1818f0"/><ellipse cx="942.1" cy="192.9" rx="1.3" ry="0.9" transform="rotate(175 942.1 192.9)" fill="#1a1aff"/><ellipse cx="916.5" cy="194.1" rx="1.4" ry="0.9" transform="rotate(9 916.5 194.1)" fill="#2222ff"/><ellipse cx="876.9" cy="272.0" rx="1.3" ry="0.9" transform="rotate(67 876.9 272.0)" fill="#1010d0"/><ellipse cx="917.2" cy="274.3" rx="1.2" ry="0.9" transform="rotate(98 917.2 274.3)" fill="#1a1aff"/><ellipse cx="882.4" cy="274.8" rx="1.7" ry="1.3" transform="rotate(27 882.4 274.8)" fill="#1818f0"/><ellipse cx="928.2" cy="237.9" rx="1.6" ry="1.3" transform="rotate(16 928.2 237.9)" fill="#2222ff"/><ellipse cx="884.3" cy="239.9" rx="1.7" ry="1.4" transform="rotate(12 884.3 239.9)" fill="#2222ff"/><ellipse cx="949.5" cy="230.4" rx="1.3" ry="1.0" transform="rotate(96 949.5 230.4)" fill="#1a1aff"/><ellipse cx="899.9" cy="230.5" rx="1.4" ry="1.3" transform="rotate(130 899.9 230.5)" fill="#1414e6"/><ellipse cx="942.7" cy="265.5" rx="1.4" ry="0.9" transform="rotate(81 942.7 265.5)" fill="#1a1aff"/><ellipse cx="941.6" cy="208.0" rx="1.4" ry="1.1" transform="rotate(113 941.6 208.0)" fill="#2222ff"/><ellipse cx="915.5" cy="236.6" rx="1.6" ry="1.3" transform="rotate(103 915.5 236.6)" fill="#1818f0"/><ellipse cx="939.3" cy="234.9" rx="1.6" ry="1.5" transform="rotate(89 939.3 234.9)" fill="#1818f0"/><ellipse cx="944.2" cy="274.7" rx="1.3" ry="1.2" transform="rotate(67 944.2 274.7)" fill="#1010d0"/><ellipse cx="920.8" cy="225.1" rx="1.4" ry="1.2" transform="rotate(6 920.8 225.1)" fill="#1010d0"/><ellipse cx="942.6" cy="201.3" rx="1.5" ry="1.2" transform="rotate(29 942.6 201.3)" fill="#1818f0"/><ellipse cx="908.5" cy="204.4" rx="1.6" ry="1.1" transform="rotate(49 908.5 204.4)" fill="#1818f0"/><ellipse cx="889.3" cy="230.8" rx="1.4" ry="1.1" transform="rotate(17 889.3 230.8)" fill="#1818f0"/><ellipse cx="882.1" cy="205.6" rx="1.2" ry="1.2" transform="rotate(14 882.1 205.6)" fill="#0c0cb8"/><ellipse cx="934.0" cy="276.3" rx="1.4" ry="0.9" transform="rotate(103 934.0 276.3)" fill="#1010d0"/><ellipse cx="866.2" cy="247.8" rx="1.1" ry="0.9" transform="rotate(118 866.2 247.8)" fill="#1a1aff"/><ellipse cx="928.0" cy="241.4" rx="1.4" ry="1.3" transform="rotate(118 928.0 241.4)" fill="#0c0cb8"/><ellipse cx="932.9" cy="251.0" rx="1.6" ry="1.2" transform="rotate(49 932.9 251.0)" fill="#2222ff"/><ellipse cx="878.0" cy="193.2" rx="1.5" ry="1.2" transform="rotate(8 878.0 193.2)" fill="#1010d0"/><ellipse cx="930.7" cy="275.6" rx="1.4" ry="1.1" transform="rotate(77 930.7 275.6)" fill="#0c0cb8"/><ellipse cx="928.0" cy="238.7" rx="1.5" ry="1.4" transform="rotate(111 928.0 238.7)" fill="#1414e6"/><ellipse cx="950.4" cy="218.2" rx="1.5" ry="1.4" transform="rotate(102 950.4 218.2)" fill="#1818f0"/><ellipse cx="914.9" cy="262.5" rx="1.3" ry="1.1" transform="rotate(179 914.9 262.5)" fill="#1818f0"/><ellipse cx="935.9" cy="239.4" rx="1.4" ry="1.0" transform="rotate(69 935.9 239.4)" fill="#1414e6"/><ellipse cx="899.3" cy="212.6" rx="1.1" ry="1.0" transform="rotate(61 899.3 212.6)" fill="#1414e6"/><ellipse cx="904.4" cy="271.4" rx="1.4" ry="1.0" transform="rotate(22 904.4 271.4)" fill="#1414e6"/><ellipse cx="894.0" cy="223.6" rx="1.6" ry="1.3" transform="rotate(164 894.0 223.6)" fill="#1818f0"/><ellipse cx="866.1" cy="255.4" rx="1.6" ry="1.4" transform="rotate(123 866.1 255.4)" fill="#1a1aff"/><ellipse cx="867.0" cy="211.0" rx="1.6" ry="1.4" transform="rotate(4 867.0 211.0)" fill="#2222ff"/><ellipse cx="881.2" cy="251.8" rx="1.7" ry="1.5" transform="rotate(122 881.2 251.8)" fill="#1818f0"/><ellipse cx="869.6" cy="251.9" rx="1.5" ry="1.3" transform="rotate(85 869.6 251.9)" fill="#1010d0"/><ellipse cx="886.6" cy="190.0" rx="1.6" ry="1.3" transform="rotate(98 886.6 190.0)" fill="#2222ff"/><ellipse cx="928.5" cy="259.4" rx="1.4" ry="1.2" transform="rotate(109 928.5 259.4)" fill="#1010d0"/><ellipse cx="871.1" cy="189.1" rx="1.2" ry="0.9" transform="rotate(7 871.1 189.1)" fill="#1818f0"/><ellipse cx="940.5" cy="276.5" rx="1.1" ry="1.1" transform="rotate(51 940.5 276.5)" fill="#1414e6"/><ellipse cx="889.4" cy="192.8" rx="1.3" ry="1.2" transform="rotate(14 889.4 192.8)" fill="#1a1aff"/><ellipse cx="928.1" cy="274.9" rx="1.7" ry="1.2" transform="rotate(171 928.1 274.9)" fill="#1a1aff"/><ellipse cx="863.8" cy="234.3" rx="1.1" ry="0.8" transform="rotate(0 863.8 234.3)" fill="#1818f0"/><ellipse cx="877.9" cy="225.6" rx="1.6" ry="1.1" transform="rotate(65 877.9 225.6)" fill="#0c0cb8"/><ellipse cx="920.0" cy="201.1" rx="1.4" ry="1.3" transform="rotate(97 920.0 201.1)" fill="#1010d0"/><ellipse cx="921.3" cy="207.1" rx="1.3" ry="1.2" transform="rotate(174 921.3 207.1)" fill="#0c0cb8"/><ellipse cx="932.1" cy="225.7" rx="1.4" ry="1.2" transform="rotate(159 932.1 225.7)" fill="#0c0cb8"/><ellipse cx="923.7" cy="220.8" rx="1.3" ry="1.1" transform="rotate(165 923.7 220.8)" fill="#1010d0"/><ellipse cx="874.5" cy="256.8" rx="1.4" ry="1.0" transform="rotate(145 874.5 256.8)" fill="#0c0cb8"/><ellipse cx="913.1" cy="259.2" rx="1.7" ry="1.1" transform="rotate(111 913.1 259.2)" fill="#1818f0"/><ellipse cx="944.4" cy="200.8" rx="1.6" ry="1.3" transform="rotate(3 944.4 200.8)" fill="#0c0cb8"/><ellipse cx="935.8" cy="259.6" rx="1.2" ry="1.0" transform="rotate(167 935.8 259.6)" fill="#1a1aff"/><ellipse cx="895.9" cy="264.0" rx="1.2" ry="1.1" transform="rotate(106 895.9 264.0)" fill="#1818f0"/><ellipse cx="911.2" cy="218.3" rx="1.3" ry="1.2" transform="rotate(35 911.2 218.3)" fill="#1a1aff"/><ellipse cx="946.9" cy="210.5" rx="1.2" ry="1.0" transform="rotate(6 946.9 210.5)" fill="#0c0cb8"/><ellipse cx="911.0" cy="206.2" rx="1.6" ry="1.5" transform="rotate(174 911.0 206.2)" fill="#1a1aff"/><ellipse cx="927.5" cy="211.8" rx="1.3" ry="1.2" transform="rotate(146 927.5 211.8)" fill="#1818f0"/><ellipse cx="927.7" cy="229.6" rx="1.2" ry="0.9" transform="rotate(58 927.7 229.6)" fill="#1010d0"/><ellipse cx="883.8" cy="205.5" rx="1.3" ry="1.1" transform="rotate(28 883.8 205.5)" fill="#1818f0"/><ellipse cx="932.3" cy="202.7" rx="1.1" ry="0.8" transform="rotate(25 932.3 202.7)" fill="#0c0cb8"/><ellipse cx="916.3" cy="224.2" rx="1.4" ry="1.1" transform="rotate(1 916.3 224.2)" fill="#2222ff"/><ellipse cx="941.1" cy="272.5" rx="1.7" ry="1.5" transform="rotate(169 941.1 272.5)" fill="#2222ff"/><ellipse cx="928.1" cy="261.7" rx="1.3" ry="0.8" transform="rotate(145 928.1 261.7)" fill="#1414e6"/><ellipse cx="924.2" cy="193.5" rx="1.7" ry="1.4" transform="rotate(72 924.2 193.5)" fill="#2222ff"/><ellipse cx="914.2" cy="239.4" rx="1.7" ry="1.4" transform="rotate(14 914.2 239.4)" fill="#1818f0"/><ellipse cx="866.7" cy="201.6" rx="1.5" ry="1.2" transform="rotate(139 866.7 201.6)" fill="#1818f0"/><ellipse cx="913.3" cy="251.6" rx="1.6" ry="1.4" transform="rotate(98 913.3 251.6)" fill="#0c0cb8"/><ellipse cx="916.8" cy="257.3" rx="1.5" ry="1.0" transform="rotate(96 916.8 257.3)" fill="#1a1aff"/><ellipse cx="931.6" cy="196.5" rx="1.5" ry="1.0" transform="rotate(87 931.6 196.5)" fill="#1a1aff"/><ellipse cx="922.3" cy="196.2" rx="1.6" ry="1.5" transform="rotate(57 922.3 196.2)" fill="#1414e6"/><ellipse cx="925.8" cy="201.9" rx="1.2" ry="1.1" transform="rotate(115 925.8 201.9)" fill="#1414e6"/><ellipse cx="934.8" cy="243.3" rx="1.6" ry="1.5" transform="rotate(20 934.8 243.3)" fill="#0c0cb8"/><ellipse cx="890.5" cy="210.8" rx="1.2" ry="0.8" transform="rotate(117 890.5 210.8)" fill="#1818f0"/><ellipse cx="904.3" cy="234.5" rx="1.3" ry="1.1" transform="rotate(19 904.3 234.5)" fill="#0c0cb8"/><ellipse cx="926.8" cy="247.1" rx="1.3" ry="1.2" transform="rotate(50 926.8 247.1)" fill="#1414e6"/><ellipse cx="943.7" cy="204.7" rx="1.5" ry="1.3" transform="rotate(46 943.7 204.7)" fill="#1010d0"/><ellipse cx="877.5" cy="197.8" rx="1.6" ry="1.2" transform="rotate(158 877.5 197.8)" fill="#1010d0"/><ellipse cx="868.3" cy="238.0" rx="1.1" ry="1.0" transform="rotate(48 868.3 238.0)" fill="#1010d0"/><ellipse cx="869.2" cy="248.2" rx="1.2" ry="1.1" transform="rotate(68 869.2 248.2)" fill="#0c0cb8"/><ellipse cx="926.1" cy="196.3" rx="1.2" ry="1.1" transform="rotate(75 926.1 196.3)" fill="#2222ff"/><ellipse cx="903.7" cy="228.5" rx="1.7" ry="1.1" transform="rotate(87 903.7 228.5)" fill="#0c0cb8"/><ellipse cx="908.1" cy="227.9" rx="1.4" ry="1.3" transform="rotate(70 908.1 227.9)" fill="#1414e6"/><ellipse cx="916.4" cy="231.4" rx="1.3" ry="0.9" transform="rotate(76 916.4 231.4)" fill="#2222ff"/><ellipse cx="921.7" cy="246.6" rx="1.1" ry="0.8" transform="rotate(67 921.7 246.6)" fill="#1414e6"/><ellipse cx="920.4" cy="235.6" rx="1.3" ry="1.0" transform="rotate(115 920.4 235.6)" fill="#0c0cb8"/><ellipse cx="943.8" cy="239.3" rx="1.3" ry="1.1" transform="rotate(29 943.8 239.3)" fill="#0c0cb8"/><ellipse cx="897.9" cy="222.2" rx="1.6" ry="1.1" transform="rotate(87 897.9 222.2)" fill="#1414e6"/><ellipse cx="913.5" cy="197.5" rx="1.4" ry="1.1" transform="rotate(50 913.5 197.5)" fill="#1818f0"/><ellipse cx="876.2" cy="203.9" rx="1.4" ry="1.2" transform="rotate(163 876.2 203.9)" fill="#2222ff"/><ellipse cx="907.5" cy="235.7" rx="1.4" ry="1.3" transform="rotate(179 907.5 235.7)" fill="#1010d0"/><ellipse cx="876.6" cy="196.5" rx="1.2" ry="0.9" transform="rotate(143 876.6 196.5)" fill="#1010d0"/><ellipse cx="937.7" cy="252.0" rx="1.2" ry="1.2" transform="rotate(11 937.7 252.0)" fill="#1414e6"/><ellipse cx="905.1" cy="246.1" rx="1.2" ry="1.0" transform="rotate(93 905.1 246.1)" fill="#1818f0"/><ellipse cx="914.7" cy="222.7" rx="1.6" ry="1.2" transform="rotate(35 914.7 222.7)" fill="#2222ff"/><ellipse cx="912.1" cy="237.0" rx="1.4" ry="1.3" transform="rotate(59 912.1 237.0)" fill="#1a1aff"/><ellipse cx="935.7" cy="264.7" rx="1.6" ry="1.1" transform="rotate(104 935.7 264.7)" fill="#0c0cb8"/><ellipse cx="864.0" cy="202.3" rx="1.2" ry="1.1" transform="rotate(53 864.0 202.3)" fill="#1010d0"/><ellipse cx="912.3" cy="207.9" rx="1.3" ry="1.2" transform="rotate(152 912.3 207.9)" fill="#1010d0"/><ellipse cx="909.3" cy="245.5" rx="1.3" ry="0.9" transform="rotate(149 909.3 245.5)" fill="#2222ff"/><ellipse cx="940.6" cy="205.9" rx="1.4" ry="1.0" transform="rotate(53 940.6 205.9)" fill="#1818f0"/><ellipse cx="944.1" cy="224.9" rx="1.3" ry="0.9" transform="rotate(171 944.1 224.9)" fill="#0c0cb8"/><ellipse cx="931.5" cy="242.2" rx="1.6" ry="1.1" transform="rotate(132 931.5 242.2)" fill="#0c0cb8"/><ellipse cx="906.6" cy="191.0" rx="1.7" ry="1.3" transform="rotate(148 906.6 191.0)" fill="#1a1aff"/><ellipse cx="945.3" cy="215.9" rx="1.5" ry="1.3" transform="rotate(168 945.3 215.9)" fill="#1010d0"/><ellipse cx="941.7" cy="249.6" rx="1.3" ry="0.9" transform="rotate(49 941.7 249.6)" fill="#2222ff"/><ellipse cx="867.3" cy="226.7" rx="1.3" ry="1.0" transform="rotate(160 867.3 226.7)" fill="#1818f0"/><ellipse cx="938.2" cy="191.6" rx="1.5" ry="1.2" transform="rotate(119 938.2 191.6)" fill="#2222ff"/><ellipse cx="890.1" cy="245.6" rx="1.4" ry="1.2" transform="rotate(119 890.1 245.6)" fill="#0c0cb8"/><ellipse cx="912.3" cy="194.3" rx="1.6" ry="1.4" transform="rotate(19 912.3 194.3)" fill="#2222ff"/><ellipse cx="887.2" cy="253.8" rx="1.3" ry="1.1" transform="rotate(116 887.2 253.8)" fill="#1414e6"/><ellipse cx="883.7" cy="231.6" rx="1.5" ry="1.3" transform="rotate(62 883.7 231.6)" fill="#1a1aff"/><ellipse cx="926.6" cy="266.8" rx="1.6" ry="1.4" transform="rotate(85 926.6 266.8)" fill="#1818f0"/><ellipse cx="901.4" cy="218.6" rx="1.3" ry="1.1" transform="rotate(90 901.4 218.6)" fill="#1818f0"/><ellipse cx="904.0" cy="236.2" rx="1.3" ry="1.2" transform="rotate(155 904.0 236.2)" fill="#2222ff"/><ellipse cx="929.8" cy="201.6" rx="1.4" ry="1.1" transform="rotate(111 929.8 201.6)" fill="#1010d0"/><ellipse cx="869.3" cy="215.0" rx="1.7" ry="1.6" transform="rotate(110 869.3 215.0)" fill="#1010d0"/><ellipse cx="898.5" cy="211.5" rx="1.6" ry="1.1" transform="rotate(128 898.5 211.5)" fill="#1a1aff"/><ellipse cx="876.9" cy="266.3" rx="1.5" ry="1.4" transform="rotate(87 876.9 266.3)" fill="#1010d0"/><ellipse cx="869.9" cy="210.3" rx="1.7" ry="1.4" transform="rotate(11 869.9 210.3)" fill="#1414e6"/><ellipse cx="880.8" cy="218.4" rx="1.6" ry="1.3" transform="rotate(154 880.8 218.4)" fill="#1414e6"/><ellipse cx="867.7" cy="216.7" rx="1.5" ry="1.2" transform="rotate(82 867.7 216.7)" fill="#1818f0"/><ellipse cx="874.8" cy="208.3" rx="1.7" ry="1.1" transform="rotate(46 874.8 208.3)" fill="#1818f0"/><ellipse cx="867.2" cy="199.9" rx="1.5" ry="1.3" transform="rotate(109 867.2 199.9)" fill="#1818f0"/><ellipse cx="948.8" cy="193.2" rx="1.5" ry="1.0" transform="rotate(44 948.8 193.2)" fill="#1818f0"/><ellipse cx="931.2" cy="275.4" rx="1.3" ry="1.0" transform="rotate(85 931.2 275.4)" fill="#1414e6"/><ellipse cx="937.5" cy="276.3" rx="1.2" ry="1.1" transform="rotate(86 937.5 276.3)" fill="#1a1aff"/><ellipse cx="927.0" cy="251.7" rx="1.3" ry="1.2" transform="rotate(156 927.0 251.7)" fill="#1a1aff"/><ellipse cx="906.9" cy="254.0" rx="1.2" ry="1.1" transform="rotate(31 906.9 254.0)" fill="#1414e6"/><ellipse cx="927.3" cy="234.4" rx="1.6" ry="1.1" transform="rotate(118 927.3 234.4)" fill="#0c0cb8"/><ellipse cx="910.4" cy="189.3" rx="1.6" ry="1.4" transform="rotate(176 910.4 189.3)" fill="#2222ff"/><ellipse cx="910.0" cy="237.0" rx="1.1" ry="0.9" transform="rotate(175 910.0 237.0)" fill="#0c0cb8"/><ellipse cx="912.3" cy="243.1" rx="1.6" ry="1.2" transform="rotate(48 912.3 243.1)" fill="#1010d0"/><ellipse cx="920.3" cy="244.8" rx="1.2" ry="1.2" transform="rotate(148 920.3 244.8)" fill="#1414e6"/><ellipse cx="923.2" cy="234.3" rx="1.1" ry="0.9" transform="rotate(30 923.2 234.3)" fill="#1818f0"/><ellipse cx="951.1" cy="277.5" rx="1.1" ry="0.9" transform="rotate(151 951.1 277.5)" fill="#2222ff"/><ellipse cx="924.2" cy="219.3" rx="1.2" ry="0.8" transform="rotate(71 924.2 219.3)" fill="#1a1aff"/><ellipse cx="933.3" cy="232.5" rx="1.3" ry="1.2" transform="rotate(45 933.3 232.5)" fill="#0c0cb8"/><ellipse cx="937.3" cy="253.1" rx="1.3" ry="0.9" transform="rotate(53 937.3 253.1)" fill="#1010d0"/><ellipse cx="936.3" cy="205.2" rx="1.5" ry="1.1" transform="rotate(29 936.3 205.2)" fill="#1818f0"/><ellipse cx="929.2" cy="231.1" rx="1.3" ry="1.2" transform="rotate(57 929.2 231.1)" fill="#1010d0"/><ellipse cx="873.1" cy="227.8" rx="1.2" ry="0.9" transform="rotate(144 873.1 227.8)" fill="#1a1aff"/><ellipse cx="890.0" cy="261.0" rx="1.3" ry="1.0" transform="rotate(141 890.0 261.0)" fill="#2222ff"/><ellipse cx="905.2" cy="256.5" rx="1.6" ry="1.3" transform="rotate(60 905.2 256.5)" fill="#1010d0"/><ellipse cx="867.7" cy="241.1" rx="1.5" ry="1.2" transform="rotate(1 867.7 241.1)" fill="#1818f0"/><ellipse cx="911.7" cy="193.6" rx="1.3" ry="1.0" transform="rotate(54 911.7 193.6)" fill="#1414e6"/><ellipse cx="895.0" cy="190.0" rx="1.2" ry="0.9" transform="rotate(171 895.0 190.0)" fill="#1414e6"/><ellipse cx="943.6" cy="209.3" rx="1.1" ry="0.8" transform="rotate(122 943.6 209.3)" fill="#1414e6"/><ellipse cx="885.9" cy="207.2" rx="1.4" ry="1.2" transform="rotate(113 885.9 207.2)" fill="#1a1aff"/><ellipse cx="885.7" cy="235.6" rx="1.1" ry="0.8" transform="rotate(31 885.7 235.6)" fill="#1010d0"/><ellipse cx="894.0" cy="201.3" rx="1.3" ry="1.2" transform="rotate(126 894.0 201.3)" fill="#1414e6"/><ellipse cx="939.9" cy="271.2" rx="1.3" ry="0.9" transform="rotate(104 939.9 271.2)" fill="#1414e6"/><ellipse cx="883.5" cy="203.2" rx="1.1" ry="1.0" transform="rotate(173 883.5 203.2)" fill="#1818f0"/><ellipse cx="926.4" cy="252.1" rx="1.4" ry="1.1" transform="rotate(127 926.4 252.1)" fill="#2222ff"/><ellipse cx="898.2" cy="274.8" rx="1.3" ry="1.0" transform="rotate(149 898.2 274.8)" fill="#1a1aff"/><ellipse cx="897.6" cy="240.9" rx="1.7" ry="1.5" transform="rotate(78 897.6 240.9)" fill="#0c0cb8"/><ellipse cx="871.1" cy="258.8" rx="1.3" ry="1.1" transform="rotate(50 871.1 258.8)" fill="#1818f0"/><ellipse cx="950.0" cy="261.0" rx="1.2" ry="0.9" transform="rotate(78 950.0 261.0)" fill="#2222ff"/><ellipse cx="893.7" cy="264.5" rx="1.7" ry="1.2" transform="rotate(136 893.7 264.5)" fill="#2222ff"/><ellipse cx="928.3" cy="190.1" rx="1.3" ry="0.9" transform="rotate(172 928.3 190.1)" fill="#0c0cb8"/><ellipse cx="950.0" cy="213.1" rx="1.4" ry="1.2" transform="rotate(87 950.0 213.1)" fill="#1414e6"/><ellipse cx="869.5" cy="221.2" rx="1.4" ry="1.2" transform="rotate(77 869.5 221.2)" fill="#1a1aff"/><ellipse cx="883.2" cy="207.1" rx="1.4" ry="1.2" transform="rotate(61 883.2 207.1)" fill="#1414e6"/><ellipse cx="899.1" cy="249.3" rx="1.1" ry="0.8" transform="rotate(42 899.1 249.3)" fill="#1010d0"/><ellipse cx="912.1" cy="247.4" rx="1.3" ry="0.9" transform="rotate(169 912.1 247.4)" fill="#1818f0"/><ellipse cx="884.4" cy="197.6" rx="1.5" ry="1.4" transform="rotate(127 884.4 197.6)" fill="#1414e6"/><ellipse cx="905.4" cy="270.6" rx="1.3" ry="1.0" transform="rotate(51 905.4 270.6)" fill="#1a1aff"/><ellipse cx="873.3" cy="242.8" rx="1.7" ry="1.1" transform="rotate(18 873.3 242.8)" fill="#1414e6"/><ellipse cx="878.8" cy="207.9" rx="1.4" ry="1.0" transform="rotate(158 878.8 207.9)" fill="#0c0cb8"/><ellipse cx="943.6" cy="207.0" rx="1.4" ry="1.0" transform="rotate(91 943.6 207.0)" fill="#0c0cb8"/><ellipse cx="934.9" cy="274.1" rx="1.5" ry="1.4" transform="rotate(26 934.9 274.1)" fill="#1818f0"/><ellipse cx="900.7" cy="225.7" rx="1.5" ry="1.3" transform="rotate(55 900.7 225.7)" fill="#1010d0"/><ellipse cx="923.1" cy="218.4" rx="1.2" ry="1.0" transform="rotate(44 923.1 218.4)" fill="#1a1aff"/><ellipse cx="931.8" cy="269.0" rx="1.3" ry="1.0" transform="rotate(62 931.8 269.0)" fill="#1818f0"/><ellipse cx="888.1" cy="206.6" rx="1.1" ry="0.8" transform="rotate(8 888.1 206.6)" fill="#1414e6"/><ellipse cx="930.9" cy="276.3" rx="1.5" ry="1.4" transform="rotate(38 930.9 276.3)" fill="#1010d0"/><ellipse cx="894.0" cy="261.8" rx="1.3" ry="1.1" transform="rotate(65 894.0 261.8)" fill="#1a1aff"/><ellipse cx="951.0" cy="204.2" rx="1.7" ry="1.6" transform="rotate(171 951.0 204.2)" fill="#1414e6"/><ellipse cx="905.0" cy="267.6" rx="1.2" ry="0.8" transform="rotate(74 905.0 267.6)" fill="#1a1aff"/><ellipse cx="887.4" cy="255.5" rx="1.4" ry="1.1" transform="rotate(15 887.4 255.5)" fill="#1818f0"/><ellipse cx="869.0" cy="217.7" rx="1.7" ry="1.4" transform="rotate(57 869.0 217.7)" fill="#2222ff"/><ellipse cx="895.6" cy="228.1" rx="1.6" ry="1.5" transform="rotate(114 895.6 228.1)" fill="#2222ff"/><ellipse cx="892.4" cy="211.2" rx="1.7" ry="1.6" transform="rotate(85 892.4 211.2)" fill="#1414e6"/><ellipse cx="868.6" cy="195.3" rx="1.1" ry="1.0" transform="rotate(13 868.6 195.3)" fill="#1010d0"/><ellipse cx="942.4" cy="199.6" rx="1.2" ry="0.9" transform="rotate(161 942.4 199.6)" fill="#2222ff"/><ellipse cx="870.1" cy="222.7" rx="1.5" ry="1.3" transform="rotate(123 870.1 222.7)" fill="#0c0cb8"/><ellipse cx="912.5" cy="217.7" rx="1.6" ry="1.2" transform="rotate(165 912.5 217.7)" fill="#1a1aff"/><ellipse cx="885.2" cy="269.1" rx="1.2" ry="0.8" transform="rotate(30 885.2 269.1)" fill="#1a1aff"/><ellipse cx="909.1" cy="233.1" rx="1.5" ry="1.1" transform="rotate(36 909.1 233.1)" fill="#2222ff"/><ellipse cx="883.8" cy="261.0" rx="1.2" ry="1.0" transform="rotate(116 883.8 261.0)" fill="#1818f0"/><ellipse cx="878.2" cy="262.6" rx="1.2" ry="0.9" transform="rotate(89 878.2 262.6)" fill="#0c0cb8"/><ellipse cx="905.6" cy="241.7" rx="1.5" ry="1.4" transform="rotate(99 905.6 241.7)" fill="#1010d0"/><ellipse cx="911.0" cy="222.3" rx="1.1" ry="0.9" transform="rotate(170 911.0 222.3)" fill="#1a1aff"/><ellipse cx="892.8" cy="232.7" rx="1.2" ry="1.0" transform="rotate(138 892.8 232.7)" fill="#0c0cb8"/><ellipse cx="865.8" cy="250.1" rx="1.7" ry="1.5" transform="rotate(130 865.8 250.1)" fill="#1010d0"/><ellipse cx="867.5" cy="248.6" rx="1.4" ry="1.1" transform="rotate(59 867.5 248.6)" fill="#1a1aff"/><ellipse cx="930.5" cy="197.8" rx="1.6" ry="1.2" transform="rotate(114 930.5 197.8)" fill="#1414e6"/><ellipse cx="899.8" cy="254.2" rx="1.1" ry="1.0" transform="rotate(162 899.8 254.2)" fill="#0c0cb8"/><ellipse cx="869.8" cy="236.6" rx="1.3" ry="1.0" transform="rotate(111 869.8 236.6)" fill="#2222ff"/><ellipse cx="915.0" cy="259.1" rx="1.6" ry="1.2" transform="rotate(5 915.0 259.1)" fill="#1010d0"/><ellipse cx="887.3" cy="239.7" rx="1.3" ry="0.8" transform="rotate(57 887.3 239.7)" fill="#2222ff"/><ellipse cx="872.5" cy="277.3" rx="1.1" ry="0.8" transform="rotate(156 872.5 277.3)" fill="#0c0cb8"/><ellipse cx="936.7" cy="266.7" rx="1.1" ry="1.1" transform="rotate(159 936.7 266.7)" fill="#1818f0"/><ellipse cx="947.3" cy="254.3" rx="1.7" ry="1.4" transform="rotate(167 947.3 254.3)" fill="#1414e6"/><ellipse cx="901.1" cy="272.8" rx="1.3" ry="1.0" transform="rotate(101 901.1 272.8)" fill="#0c0cb8"/><ellipse cx="876.1" cy="234.3" rx="1.7" ry="1.2" transform="rotate(90 876.1 234.3)" fill="#1414e6"/><ellipse cx="934.3" cy="239.9" rx="1.4" ry="1.0" transform="rotate(4 934.3 239.9)" fill="#2222ff"/><ellipse cx="895.1" cy="258.9" rx="1.2" ry="1.1" transform="rotate(58 895.1 258.9)" fill="#1818f0"/><ellipse cx="867.4" cy="260.3" rx="1.3" ry="1.1" transform="rotate(132 867.4 260.3)" fill="#1a1aff"/><ellipse cx="866.6" cy="206.6" rx="1.1" ry="0.8" transform="rotate(28 866.6 206.6)" fill="#0c0cb8"/><ellipse cx="864.3" cy="226.3" rx="1.2" ry="0.9" transform="rotate(31 864.3 226.3)" fill="#0c0cb8"/><ellipse cx="952.3" cy="222.2" rx="1.5" ry="1.3" transform="rotate(2 952.3 222.2)" fill="#1010d0"/><ellipse cx="882.2" cy="256.9" rx="1.4" ry="1.0" transform="rotate(95 882.2 256.9)" fill="#1414e6"/><ellipse cx="940.3" cy="225.5" rx="1.2" ry="1.1" transform="rotate(125 940.3 225.5)" fill="#0c0cb8"/><ellipse cx="881.6" cy="202.8" rx="1.5" ry="1.3" transform="rotate(30 881.6 202.8)" fill="#1a1aff"/><ellipse cx="946.2" cy="196.3" rx="1.5" ry="1.2" transform="rotate(27 946.2 196.3)" fill="#2222ff"/><ellipse cx="891.2" cy="240.5" rx="1.6" ry="1.5" transform="rotate(97 891.2 240.5)" fill="#1010d0"/><ellipse cx="926.2" cy="207.4" rx="1.1" ry="0.8" transform="rotate(42 926.2 207.4)" fill="#0c0cb8"/><ellipse cx="928.0" cy="236.3" rx="1.3" ry="1.0" transform="rotate(89 928.0 236.3)" fill="#1414e6"/><ellipse cx="883.6" cy="232.2" rx="1.6" ry="1.2" transform="rotate(92 883.6 232.2)" fill="#1010d0"/><ellipse cx="927.5" cy="195.0" rx="1.7" ry="1.6" transform="rotate(97 927.5 195.0)" fill="#1010d0"/><ellipse cx="876.4" cy="252.7" rx="1.6" ry="1.4" transform="rotate(22 876.4 252.7)" fill="#2222ff"/><ellipse cx="910.8" cy="237.9" rx="1.4" ry="1.3" transform="rotate(84 910.8 237.9)" fill="#1010d0"/><ellipse cx="893.2" cy="261.1" rx="1.3" ry="1.2" transform="rotate(83 893.2 261.1)" fill="#1414e6"/><ellipse cx="899.6" cy="211.2" rx="1.2" ry="1.0" transform="rotate(26 899.6 211.2)" fill="#0c0cb8"/><ellipse cx="902.0" cy="214.7" rx="1.3" ry="1.0" transform="rotate(136 902.0 214.7)" fill="#0c0cb8"/><ellipse cx="899.4" cy="269.0" rx="1.2" ry="0.9" transform="rotate(91 899.4 269.0)" fill="#0c0cb8"/><ellipse cx="871.5" cy="257.5" rx="1.1" ry="1.0" transform="rotate(139 871.5 257.5)" fill="#0c0cb8"/><ellipse cx="883.8" cy="213.4" rx="1.2" ry="1.0" transform="rotate(151 883.8 213.4)" fill="#1414e6"/><ellipse cx="875.2" cy="241.7" rx="1.2" ry="1.0" transform="rotate(37 875.2 241.7)" fill="#1818f0"/><ellipse cx="917.7" cy="262.6" rx="1.1" ry="0.8" transform="rotate(93 917.7 262.6)" fill="#2222ff"/><ellipse cx="895.0" cy="243.3" rx="1.4" ry="1.0" transform="rotate(84 895.0 243.3)" fill="#1818f0"/><ellipse cx="928.2" cy="264.8" rx="1.4" ry="1.0" transform="rotate(162 928.2 264.8)" fill="#1414e6"/><ellipse cx="866.3" cy="225.5" rx="1.7" ry="1.2" transform="rotate(114 866.3 225.5)" fill="#2222ff"/><ellipse cx="880.0" cy="191.4" rx="1.5" ry="1.0" transform="rotate(115 880.0 191.4)" fill="#2222ff"/><ellipse cx="926.9" cy="210.0" rx="1.5" ry="1.3" transform="rotate(47 926.9 210.0)" fill="#1a1aff"/><ellipse cx="886.4" cy="261.5" rx="1.4" ry="1.1" transform="rotate(179 886.4 261.5)" fill="#1818f0"/><ellipse cx="883.2" cy="239.0" rx="1.2" ry="1.1" transform="rotate(31 883.2 239.0)" fill="#1a1aff"/><ellipse cx="868.4" cy="264.6" rx="1.2" ry="1.1" transform="rotate(66 868.4 264.6)" fill="#0c0cb8"/><ellipse cx="925.6" cy="204.9" rx="1.4" ry="1.3" transform="rotate(48 925.6 204.9)" fill="#1414e6"/><ellipse cx="950.6" cy="259.9" rx="1.5" ry="1.1" transform="rotate(51 950.6 259.9)" fill="#1414e6"/><ellipse cx="888.2" cy="253.9" rx="1.5" ry="1.2" transform="rotate(107 888.2 253.9)" fill="#1414e6"/><ellipse cx="893.9" cy="234.9" rx="1.6" ry="1.3" transform="rotate(121 893.9 234.9)" fill="#0c0cb8"/><ellipse cx="913.1" cy="209.2" rx="1.2" ry="0.9" transform="rotate(101 913.1 209.2)" fill="#1010d0"/><ellipse cx="885.3" cy="272.1" rx="1.7" ry="1.2" transform="rotate(56 885.3 272.1)" fill="#1818f0"/><ellipse cx="947.3" cy="226.2" rx="1.7" ry="1.1" transform="rotate(153 947.3 226.2)" fill="#2222ff"/><ellipse cx="931.2" cy="219.3" rx="1.5" ry="1.4" transform="rotate(162 931.2 219.3)" fill="#1414e6"/><ellipse cx="942.3" cy="252.6" rx="1.6" ry="1.5" transform="rotate(42 942.3 252.6)" fill="#2222ff"/><ellipse cx="882.4" cy="264.5" rx="1.3" ry="1.0" transform="rotate(64 882.4 264.5)" fill="#1a1aff"/><ellipse cx="944.0" cy="252.3" rx="1.2" ry="0.8" transform="rotate(172 944.0 252.3)" fill="#1818f0"/><ellipse cx="936.1" cy="198.9" rx="1.2" ry="1.0" transform="rotate(147 936.1 198.9)" fill="#0c0cb8"/><ellipse cx="882.0" cy="203.0" rx="1.5" ry="1.4" transform="rotate(15 882.0 203.0)" fill="#0c0cb8"/><ellipse cx="880.1" cy="228.9" rx="1.4" ry="1.3" transform="rotate(162 880.1 228.9)" fill="#1a1aff"/><ellipse cx="940.7" cy="234.2" rx="1.7" ry="1.6" transform="rotate(109 940.7 234.2)" fill="#1818f0"/><ellipse cx="907.6" cy="268.8" rx="1.3" ry="0.9" transform="rotate(155 907.6 268.8)" fill="#0c0cb8"/><ellipse cx="891.8" cy="256.3" rx="1.3" ry="0.9" transform="rotate(105 891.8 256.3)" fill="#1a1aff"/><ellipse cx="937.9" cy="195.9" rx="1.3" ry="1.0" transform="rotate(27 937.9 195.9)" fill="#1a1aff"/><ellipse cx="894.3" cy="204.1" rx="1.4" ry="1.3" transform="rotate(17 894.3 204.1)" fill="#2222ff"/><ellipse cx="938.6" cy="209.5" rx="1.3" ry="1.0" transform="rotate(111 938.6 209.5)" fill="#1a1aff"/><ellipse cx="878.3" cy="239.0" rx="1.2" ry="0.8" transform="rotate(102 878.3 239.0)" fill="#0c0cb8"/><ellipse cx="894.1" cy="207.6" rx="1.1" ry="0.8" transform="rotate(132 894.1 207.6)" fill="#0c0cb8"/><ellipse cx="945.7" cy="260.6" rx="1.3" ry="0.9" transform="rotate(18 945.7 260.6)" fill="#1a1aff"/><ellipse cx="930.5" cy="240.9" rx="1.5" ry="1.0" transform="rotate(91 930.5 240.9)" fill="#1818f0"/></g>
<rect x="929.00" y="269.3" width="15.50" height="2" fill="#fff"/>
<text x="464.85" y="205.70" font-size="15" text-anchor="middle" fill="#6262ff" font-weight="bold">Nucleus</text>
<text x="494.10" y="265.80" font-size="10.3" text-anchor="middle" fill="#fff" font-weight="bold">50 µm</text>
<line x1="1027.60" y1="44.10" x2="1027.60" y2="198.40" stroke="#6a6a6a" stroke-width="1.1"/>
<line x1="1027.60" y1="197.90" x2="1198.70" y2="197.90" stroke="#6a6a6a" stroke-width="1.1"/>
<line x1="1025.60" y1="197.90" x2="1027.60" y2="197.90" stroke="#6a6a6a" stroke-width="1.1"/>
<text x="1023.00" y="203.20" font-size="12.2" text-anchor="end" fill="#111" font-weight="bold">0</text>
<line x1="1025.60" y1="176.00" x2="1027.60" y2="176.00" stroke="#6a6a6a" stroke-width="1.1"/>
<text x="1023.00" y="181.30" font-size="12.2" text-anchor="end" fill="#111" font-weight="bold">10</text>
<line x1="1025.60" y1="154.10" x2="1027.60" y2="154.10" stroke="#6a6a6a" stroke-width="1.1"/>
<text x="1023.00" y="159.40" font-size="12.2" text-anchor="end" fill="#111" font-weight="bold">20</text>
<line x1="1025.60" y1="132.20" x2="1027.60" y2="132.20" stroke="#6a6a6a" stroke-width="1.1"/>
<text x="1023.00" y="137.50" font-size="12.2" text-anchor="end" fill="#111" font-weight="bold">30</text>
<line x1="1025.60" y1="110.30" x2="1027.60" y2="110.30" stroke="#6a6a6a" stroke-width="1.1"/>
<text x="1023.00" y="115.60" font-size="12.2" text-anchor="end" fill="#111" font-weight="bold">40</text>
<line x1="1025.60" y1="88.40" x2="1027.60" y2="88.40" stroke="#6a6a6a" stroke-width="1.1"/>
<text x="1023.00" y="93.70" font-size="12.2" text-anchor="end" fill="#111" font-weight="bold">50</text>
<line x1="1025.60" y1="66.50" x2="1027.60" y2="66.50" stroke="#6a6a6a" stroke-width="1.1"/>
<text x="1023.00" y="71.80" font-size="12.2" text-anchor="end" fill="#111" font-weight="bold">60</text>
<line x1="1025.60" y1="44.60" x2="1027.60" y2="44.60" stroke="#6a6a6a" stroke-width="1.1"/>
<text x="1023.00" y="49.90" font-size="12.2" text-anchor="end" fill="#111" font-weight="bold">70</text>
<line x1="1027.60" y1="197.90" x2="1027.60" y2="200.50" stroke="#6a6a6a" stroke-width="1.1"/>
<line x1="1070.50" y1="197.90" x2="1070.50" y2="200.50" stroke="#6a6a6a" stroke-width="1.1"/>
<line x1="1113.50" y1="197.90" x2="1113.50" y2="200.50" stroke="#6a6a6a" stroke-width="1.1"/>
<line x1="1156.00" y1="197.90" x2="1156.00" y2="200.50" stroke="#6a6a6a" stroke-width="1.1"/>
<line x1="1198.50" y1="197.90" x2="1198.50" y2="200.50" stroke="#6a6a6a" stroke-width="1.1"/>
<rect x="1040.20" y="77.45" width="17.80" height="120.45" fill="#fff" stroke="#6a6a6a" stroke-width="1.2"/>
<line x1="1049.10" y1="64.97" x2="1049.10" y2="89.93" stroke="#6a6a6a" stroke-width="1.1"/>
<line x1="1047.80" y1="64.97" x2="1050.40" y2="64.97" stroke="#6a6a6a" stroke-width="1.1"/>
<line x1="1047.80" y1="89.93" x2="1050.40" y2="89.93" stroke="#6a6a6a" stroke-width="1.1"/>
<rect x="1083.00" y="59.93" width="17.60" height="137.97" fill="#fff" stroke="#6a6a6a" stroke-width="1.2"/>
<line x1="1091.80" y1="52.48" x2="1091.80" y2="67.38" stroke="#6a6a6a" stroke-width="1.1"/>
<line x1="1090.50" y1="52.48" x2="1093.10" y2="52.48" stroke="#6a6a6a" stroke-width="1.1"/>
<line x1="1090.50" y1="67.38" x2="1093.10" y2="67.38" stroke="#6a6a6a" stroke-width="1.1"/>
<rect x="1125.50" y="67.16" width="17.30" height="130.74" fill="#fff" stroke="#6a6a6a" stroke-width="1.2"/>
<line x1="1134.15" y1="63.43" x2="1134.15" y2="70.88" stroke="#6a6a6a" stroke-width="1.1"/>
<line x1="1132.85" y1="63.43" x2="1135.45" y2="63.43" stroke="#6a6a6a" stroke-width="1.1"/>
<line x1="1132.85" y1="70.88" x2="1135.45" y2="70.88" stroke="#6a6a6a" stroke-width="1.1"/>
<rect x="1168.40" y="78.55" width="17.30" height="119.36" fill="#fff" stroke="#6a6a6a" stroke-width="1.2"/>
<line x1="1177.05" y1="67.38" x2="1177.05" y2="89.71" stroke="#6a6a6a" stroke-width="1.1"/>
<line x1="1175.75" y1="67.38" x2="1178.35" y2="67.38" stroke="#6a6a6a" stroke-width="1.1"/>
<line x1="1175.75" y1="89.71" x2="1178.35" y2="89.71" stroke="#6a6a6a" stroke-width="1.1"/>
<line x1="1049.30" y1="47.50" x2="1177.50" y2="47.50" stroke="#000" stroke-width="2.5"/>
<text x="1112.70" y="43.80" font-size="13" text-anchor="middle" fill="#000" font-weight="bold">n.s.</text>
<text transform="translate(1003.60 120.60) rotate(-90)" font-size="15" text-anchor="middle" fill="#111" font-weight="bold">Nuclear numbers</text>
<text x="1050.30" y="212.70" font-size="13.5" text-anchor="middle" fill="#111" font-weight="bold">Poly-</text>
<text x="1050.70" y="226.50" font-size="13.5" text-anchor="middle" fill="#111" font-weight="bold">styrene</text>
<text x="1090.40" y="212.70" font-size="13.5" text-anchor="middle" fill="#111" font-weight="bold">Soft</text>
<text x="1133.80" y="212.70" font-size="13.5" text-anchor="middle" fill="#111" font-weight="bold">Mid</text>
<text x="1177.10" y="212.70" font-size="13.5" text-anchor="middle" fill="#111" font-weight="bold">Hard</text>
<line x1="1094.80" y1="217.50" x2="1179.20" y2="217.50" stroke="#000" stroke-width="2"/>
<text x="1137.00" y="233.30" font-size="13.5" text-anchor="middle" fill="#111" font-weight="bold">PDMS</text>
<line x1="1050.40" y1="239.80" x2="1179.20" y2="239.80" stroke="#000" stroke-width="2"/>
<text x="1114.60" y="257.10" font-size="15" text-anchor="middle" fill="#111" font-weight="bold">hGF-M2 cells</text>
<text x="0.30" y="324.60" font-size="29.5" text-anchor="start" fill="#000" font-weight="bold">C</text>
<line x1="71.75" y1="328.00" x2="71.75" y2="496.20" stroke="#111" stroke-width="1.5"/>
<line x1="71.75" y1="495.50" x2="283.75" y2="495.50" stroke="#111" stroke-width="1.5"/>
<line x1="66.25" y1="495.50" x2="71.75" y2="495.50" stroke="#111" stroke-width="1.5"/>
<line x1="66.25" y1="453.81" x2="71.75" y2="453.81" stroke="#111" stroke-width="1.5"/>
<line x1="66.25" y1="412.12" x2="71.75" y2="412.12" stroke="#111" stroke-width="1.5"/>
<line x1="66.25" y1="370.44" x2="71.75" y2="370.44" stroke="#111" stroke-width="1.5"/>
<line x1="66.25" y1="328.75" x2="71.75" y2="328.75" stroke="#111" stroke-width="1.5"/>
<text x="63.80" y="500.00" font-size="12.5" text-anchor="end" fill="#333" font-weight="bold">0</text>
<text x="63.80" y="416.62" font-size="12.5" text-anchor="end" fill="#333" font-weight="bold">1</text>
<text x="63.80" y="333.25" font-size="12.5" text-anchor="end" fill="#333" font-weight="bold">2</text>
<rect x="84.25" y="349.59" width="26.25" height="145.91" fill="#fff" stroke="#111" stroke-width="1.5"/>
<line x1="97.38" y1="342.92" x2="97.38" y2="356.26" stroke="#111" stroke-width="1.5"/>
<line x1="93.38" y1="342.92" x2="101.38" y2="342.92" stroke="#111" stroke-width="1.5"/>
<line x1="93.38" y1="356.26" x2="101.38" y2="356.26" stroke="#111" stroke-width="1.5"/>
<rect x="137.50" y="452.14" width="26.25" height="43.36" fill="#fff" stroke="#111" stroke-width="1.5"/>
<line x1="150.62" y1="451.31" x2="150.62" y2="452.98" stroke="#111" stroke-width="1.5"/>
<line x1="146.62" y1="451.31" x2="154.62" y2="451.31" stroke="#111" stroke-width="1.5"/>
<line x1="146.62" y1="452.98" x2="154.62" y2="452.98" stroke="#111" stroke-width="1.5"/>
<rect x="190.75" y="453.81" width="26.25" height="41.69" fill="#fff" stroke="#111" stroke-width="1.5"/>
<line x1="203.88" y1="451.31" x2="203.88" y2="456.31" stroke="#111" stroke-width="1.5"/>
<line x1="199.88" y1="451.31" x2="207.88" y2="451.31" stroke="#111" stroke-width="1.5"/>
<line x1="199.88" y1="456.31" x2="207.88" y2="456.31" stroke="#111" stroke-width="1.5"/>
<rect x="244.25" y="449.64" width="26.25" height="45.86" fill="#fff" stroke="#111" stroke-width="1.5"/>
<line x1="257.38" y1="447.56" x2="257.38" y2="451.73" stroke="#111" stroke-width="1.5"/>
<line x1="253.38" y1="447.56" x2="261.38" y2="447.56" stroke="#111" stroke-width="1.5"/>
<line x1="253.38" y1="451.73" x2="261.38" y2="451.73" stroke="#111" stroke-width="1.5"/>
<text x="97.50" y="335.50" font-size="16" text-anchor="middle" fill="#000" font-weight="bold">a</text>
<text x="203.75" y="433.50" font-size="16" text-anchor="middle" fill="#000" font-weight="bold">b</text>
<line x1="151.25" y1="437.50" x2="257.50" y2="437.50" stroke="#111" stroke-width="2"/>
<text transform="translate(26.30 406.20) rotate(-90)" font-size="17.5" text-anchor="middle" fill="#333" font-weight="bold">Formazan</text>
<text transform="translate(43.80 406.20) rotate(-90)" font-size="17.5" text-anchor="middle" fill="#333" font-weight="bold">(OD: 450 nm)</text>
<text x="100.60" y="512.50" font-size="14.5" text-anchor="middle" fill="#333" font-weight="bold">Poly-</text>
<text x="100.60" y="529.10" font-size="14.5" text-anchor="middle" fill="#333" font-weight="bold">styrene</text>
<text x="152.25" y="512.50" font-size="14.5" text-anchor="middle" fill="#333" font-weight="bold">Soft</text>
<text x="202.60" y="512.50" font-size="14.5" text-anchor="middle" fill="#333" font-weight="bold">Mid</text>
<text x="258.40" y="512.50" font-size="14.5" text-anchor="middle" fill="#333" font-weight="bold">Hard</text>
<line x1="151.25" y1="516.25" x2="261.25" y2="516.25" stroke="#111" stroke-width="2"/>
<text x="205.60" y="532.50" font-size="14.5" text-anchor="middle" fill="#333" font-weight="bold">PDMS</text>
<line x1="85.75" y1="536.25" x2="260.00" y2="536.25" stroke="#111" stroke-width="2"/>
<text x="172.50" y="555.00" font-size="14.5" text-anchor="middle" fill="#333" font-weight="bold">hGF-M2 cells</text>
<text x="299.80" y="325.00" font-size="29.5" text-anchor="start" fill="#000" font-weight="bold">D</text>
<line x1="395.00" y1="331.10" x2="395.00" y2="497.90" stroke="#111" stroke-width="1.5"/>
<line x1="395.00" y1="497.20" x2="608.70" y2="497.20" stroke="#111" stroke-width="1.5"/>
<line x1="389.50" y1="497.20" x2="395.00" y2="497.20" stroke="#111" stroke-width="1.5"/>
<text x="388.50" y="502.20" font-size="14" text-anchor="end" fill="#333" font-weight="bold">0</text>
<line x1="389.50" y1="469.63" x2="395.00" y2="469.63" stroke="#111" stroke-width="1.5"/>
<text x="388.50" y="474.63" font-size="14" text-anchor="end" fill="#333" font-weight="bold">1</text>
<line x1="389.50" y1="442.07" x2="395.00" y2="442.07" stroke="#111" stroke-width="1.5"/>
<text x="388.50" y="447.07" font-size="14" text-anchor="end" fill="#333" font-weight="bold">2</text>
<line x1="389.50" y1="414.50" x2="395.00" y2="414.50" stroke="#111" stroke-width="1.5"/>
<text x="388.50" y="419.50" font-size="14" text-anchor="end" fill="#333" font-weight="bold">3</text>
<line x1="389.50" y1="386.93" x2="395.00" y2="386.93" stroke="#111" stroke-width="1.5"/>
<text x="388.50" y="391.93" font-size="14" text-anchor="end" fill="#333" font-weight="bold">4</text>
<line x1="389.50" y1="359.37" x2="395.00" y2="359.37" stroke="#111" stroke-width="1.5"/>
<text x="388.50" y="364.37" font-size="14" text-anchor="end" fill="#333" font-weight="bold">5</text>
<line x1="389.50" y1="331.80" x2="395.00" y2="331.80" stroke="#111" stroke-width="1.5"/>
<text x="388.50" y="336.80" font-size="14" text-anchor="end" fill="#333" font-weight="bold">6</text>
<rect x="408.50" y="468.25" width="26.30" height="28.94" fill="#fff" stroke="#111" stroke-width="1.5"/>
<line x1="421.65" y1="467.43" x2="421.65" y2="469.08" stroke="#111" stroke-width="1.5"/>
<line x1="417.65" y1="467.43" x2="425.65" y2="467.43" stroke="#111" stroke-width="1.5"/>
<line x1="417.65" y1="469.08" x2="425.65" y2="469.08" stroke="#111" stroke-width="1.5"/>
<rect x="461.50" y="365.43" width="27.90" height="131.77" fill="#fff" stroke="#111" stroke-width="1.5"/>
<line x1="475.45" y1="357.99" x2="475.45" y2="373.15" stroke="#111" stroke-width="1.5"/>
<line x1="471.45" y1="357.99" x2="479.45" y2="357.99" stroke="#111" stroke-width="1.5"/>
<line x1="471.45" y1="373.15" x2="479.45" y2="373.15" stroke="#111" stroke-width="1.5"/>
<rect x="515.70" y="365.43" width="26.60" height="131.77" fill="#fff" stroke="#111" stroke-width="1.5"/>
<line x1="529.00" y1="360.75" x2="529.00" y2="369.84" stroke="#111" stroke-width="1.5"/>
<line x1="525.00" y1="360.75" x2="533.00" y2="360.75" stroke="#111" stroke-width="1.5"/>
<line x1="525.00" y1="369.84" x2="533.00" y2="369.84" stroke="#111" stroke-width="1.5"/>
<rect x="567.90" y="383.63" width="27.10" height="113.57" fill="#fff" stroke="#111" stroke-width="1.5"/>
<line x1="581.45" y1="381.97" x2="581.45" y2="386.11" stroke="#111" stroke-width="1.5"/>
<line x1="577.45" y1="381.97" x2="585.45" y2="381.97" stroke="#111" stroke-width="1.5"/>
<line x1="577.45" y1="386.11" x2="585.45" y2="386.11" stroke="#111" stroke-width="1.5"/>
<text x="422.70" y="461.00" font-size="15" text-anchor="middle" fill="#000" font-weight="bold">a</text>
<text x="495.00" y="346.80" font-size="15" text-anchor="middle" fill="#000" font-weight="bold">b</text>
<line x1="467.90" y1="351.50" x2="520.00" y2="351.50" stroke="#111" stroke-width="2"/>
<text x="583.40" y="376.00" font-size="15" text-anchor="middle" fill="#000" font-weight="bold">c</text>
<text transform="translate(346.00 407.00) rotate(-90)" font-size="15" text-anchor="middle" fill="#333" font-weight="bold"><tspan font-style="italic">PTGS2 / GAPDH</tspan> mRNA</text>
<text transform="translate(363.50 406.90) rotate(-90)" font-size="15" text-anchor="middle" fill="#333" font-weight="bold">expression</text>
<text x="422.00" y="512.20" font-size="14" text-anchor="middle" fill="#333" font-weight="bold">Poly-</text>
<text x="422.00" y="528.80" font-size="14" text-anchor="middle" fill="#333" font-weight="bold">styrene</text>
<text x="473.60" y="512.20" font-size="14" text-anchor="middle" fill="#333" font-weight="bold">Soft</text>
<text x="525.00" y="512.20" font-size="14" text-anchor="middle" fill="#333" font-weight="bold">Mid</text>
<text x="581.60" y="512.20" font-size="14" text-anchor="middle" fill="#333" font-weight="bold">Hard</text>
<line x1="470.50" y1="516.60" x2="577.00" y2="516.60" stroke="#111" stroke-width="2"/>
<text x="523.60" y="532.80" font-size="14" text-anchor="middle" fill="#333" font-weight="bold">PDMS</text>
<line x1="405.90" y1="536.70" x2="576.40" y2="536.70" stroke="#111" stroke-width="2"/>
<text x="491.10" y="554.80" font-size="14" text-anchor="middle" fill="#333" font-weight="bold">hGF-M2 cells</text>
<line x1="685.75" y1="331.30" x2="685.75" y2="497.70" stroke="#111" stroke-width="1.5"/>
<line x1="685.75" y1="497.00" x2="890.00" y2="497.00" stroke="#111" stroke-width="1.5"/>
<line x1="680.25" y1="497.00" x2="685.75" y2="497.00" stroke="#111" stroke-width="1.5"/>
<text x="680.50" y="502.00" font-size="14" text-anchor="end" fill="#333" font-weight="bold">0</text>
<line x1="680.25" y1="464.00" x2="685.75" y2="464.00" stroke="#111" stroke-width="1.5"/>
<text x="680.50" y="469.00" font-size="14" text-anchor="end" fill="#333" font-weight="bold">10</text>
<line x1="680.25" y1="431.00" x2="685.75" y2="431.00" stroke="#111" stroke-width="1.5"/>
<text x="680.50" y="436.00" font-size="14" text-anchor="end" fill="#333" font-weight="bold">20</text>
<line x1="680.25" y1="398.00" x2="685.75" y2="398.00" stroke="#111" stroke-width="1.5"/>
<text x="680.50" y="403.00" font-size="14" text-anchor="end" fill="#333" font-weight="bold">30</text>
<line x1="680.25" y1="365.00" x2="685.75" y2="365.00" stroke="#111" stroke-width="1.5"/>
<text x="680.50" y="370.00" font-size="14" text-anchor="end" fill="#333" font-weight="bold">40</text>
<line x1="680.25" y1="332.00" x2="685.75" y2="332.00" stroke="#111" stroke-width="1.5"/>
<text x="680.50" y="337.00" font-size="14" text-anchor="end" fill="#333" font-weight="bold">50</text>
<rect x="698.00" y="494.36" width="26.50" height="2.64" fill="#fff" stroke="#111" stroke-width="1.5"/>
<line x1="711.25" y1="493.70" x2="711.25" y2="495.02" stroke="#111" stroke-width="1.5"/>
<line x1="707.25" y1="493.70" x2="715.25" y2="493.70" stroke="#111" stroke-width="1.5"/>
<line x1="707.25" y1="495.02" x2="715.25" y2="495.02" stroke="#111" stroke-width="1.5"/>
<rect x="749.50" y="374.90" width="26.25" height="122.10" fill="#fff" stroke="#111" stroke-width="1.5"/>
<line x1="762.62" y1="355.10" x2="762.62" y2="394.70" stroke="#111" stroke-width="1.5"/>
<line x1="758.62" y1="355.10" x2="766.62" y2="355.10" stroke="#111" stroke-width="1.5"/>
<line x1="758.62" y1="394.70" x2="766.62" y2="394.70" stroke="#111" stroke-width="1.5"/>
<rect x="800.75" y="414.50" width="25.50" height="82.50" fill="#fff" stroke="#111" stroke-width="1.5"/>
<line x1="813.50" y1="410.21" x2="813.50" y2="418.46" stroke="#111" stroke-width="1.5"/>
<line x1="809.50" y1="410.21" x2="817.50" y2="410.21" stroke="#111" stroke-width="1.5"/>
<line x1="809.50" y1="418.46" x2="817.50" y2="418.46" stroke="#111" stroke-width="1.5"/>
<rect x="851.25" y="441.89" width="25.75" height="55.11" fill="#fff" stroke="#111" stroke-width="1.5"/>
<line x1="864.12" y1="437.27" x2="864.12" y2="446.51" stroke="#111" stroke-width="1.5"/>
<line x1="860.12" y1="437.27" x2="868.12" y2="437.27" stroke="#111" stroke-width="1.5"/>
<line x1="860.12" y1="446.51" x2="868.12" y2="446.51" stroke="#111" stroke-width="1.5"/>
<text x="711.25" y="488.75" font-size="15" text-anchor="middle" fill="#000" font-weight="bold">a</text>
<text x="755.00" y="352.00" font-size="15" text-anchor="middle" fill="#000" font-weight="bold">b</text>
<text x="813.00" y="406.25" font-size="15" text-anchor="middle" fill="#000" font-weight="bold">c</text>
<text x="865.00" y="432.50" font-size="15" text-anchor="middle" fill="#000" font-weight="bold">d</text>
<text transform="translate(638.00 407.90) rotate(-90)" font-size="16" text-anchor="middle" fill="#333" font-weight="bold"><tspan font-style="italic">IL1B / GAPDH</tspan> mRNA</text>
<text transform="translate(654.00 406.90) rotate(-90)" font-size="16" text-anchor="middle" fill="#333" font-weight="bold">expression</text>
<text x="713.10" y="512.30" font-size="14" text-anchor="middle" fill="#333" font-weight="bold">Poly-</text>
<text x="713.10" y="528.90" font-size="14" text-anchor="middle" fill="#333" font-weight="bold">styrene</text>
<text x="762.50" y="512.30" font-size="14" text-anchor="middle" fill="#333" font-weight="bold">Soft</text>
<text x="811.25" y="512.30" font-size="14" text-anchor="middle" fill="#333" font-weight="bold">Mid</text>
<text x="865.75" y="512.30" font-size="14" text-anchor="middle" fill="#333" font-weight="bold">Hard</text>
<line x1="761.25" y1="516.25" x2="868.00" y2="516.25" stroke="#111" stroke-width="2"/>
<text x="814.75" y="533.50" font-size="14" text-anchor="middle" fill="#333" font-weight="bold">PDMS</text>
<line x1="697.50" y1="535.75" x2="867.00" y2="535.75" stroke="#111" stroke-width="2"/>
<text x="782.50" y="555.00" font-size="14" text-anchor="middle" fill="#333" font-weight="bold">hGF-M2 cells</text>
<text x="892.00" y="324.80" font-size="29.5" text-anchor="start" fill="#000" font-weight="bold">E</text>
<text x="964.00" y="321.00" font-size="12" text-anchor="start" fill="#333" font-weight="bold">(x 10<tspan font-size="7.5" dy="-5">-6</tspan><tspan dy="5">)</tspan></text>
<line x1="1000.50" y1="327.80" x2="1000.50" y2="495.20" stroke="#111" stroke-width="1.5"/>
<line x1="1000.50" y1="494.50" x2="1196.80" y2="494.50" stroke="#111" stroke-width="1.5"/>
<line x1="995.00" y1="494.50" x2="1000.50" y2="494.50" stroke="#111" stroke-width="1.5"/>
<line x1="995.00" y1="470.79" x2="1000.50" y2="470.79" stroke="#111" stroke-width="1.5"/>
<line x1="995.00" y1="447.07" x2="1000.50" y2="447.07" stroke="#111" stroke-width="1.5"/>
<line x1="995.00" y1="423.36" x2="1000.50" y2="423.36" stroke="#111" stroke-width="1.5"/>
<line x1="995.00" y1="399.64" x2="1000.50" y2="399.64" stroke="#111" stroke-width="1.5"/>
<line x1="995.00" y1="375.93" x2="1000.50" y2="375.93" stroke="#111" stroke-width="1.5"/>
<line x1="995.00" y1="352.21" x2="1000.50" y2="352.21" stroke="#111" stroke-width="1.5"/>
<line x1="995.00" y1="328.50" x2="1000.50" y2="328.50" stroke="#111" stroke-width="1.5"/>
<text x="991.00" y="499.50" font-size="14" text-anchor="end" fill="#333" font-weight="bold">0</text>
<text x="991.00" y="452.07" font-size="14" text-anchor="end" fill="#333" font-weight="bold">100</text>
<text x="991.00" y="404.64" font-size="14" text-anchor="end" fill="#333" font-weight="bold">200</text>
<text x="991.00" y="357.21" font-size="14" text-anchor="end" fill="#333" font-weight="bold">300</text>
<rect x="1012.50" y="490.23" width="25.40" height="4.27" fill="#fff" stroke="#111" stroke-width="1.5"/>
<line x1="1025.20" y1="489.28" x2="1025.20" y2="490.71" stroke="#111" stroke-width="1.5"/>
<line x1="1021.20" y1="489.28" x2="1029.20" y2="489.28" stroke="#111" stroke-width="1.5"/>
<line x1="1021.20" y1="490.71" x2="1029.20" y2="490.71" stroke="#111" stroke-width="1.5"/>
<rect x="1062.10" y="357.91" width="24.00" height="136.59" fill="#fff" stroke="#111" stroke-width="1.5"/>
<line x1="1074.10" y1="356.48" x2="1074.10" y2="358.85" stroke="#111" stroke-width="1.5"/>
<line x1="1070.10" y1="356.48" x2="1078.10" y2="356.48" stroke="#111" stroke-width="1.5"/>
<line x1="1070.10" y1="358.85" x2="1078.10" y2="358.85" stroke="#111" stroke-width="1.5"/>
<rect x="1110.70" y="409.60" width="25.30" height="84.90" fill="#fff" stroke="#111" stroke-width="1.5"/>
<line x1="1123.35" y1="403.91" x2="1123.35" y2="415.29" stroke="#111" stroke-width="1.5"/>
<line x1="1119.35" y1="403.91" x2="1127.35" y2="403.91" stroke="#111" stroke-width="1.5"/>
<line x1="1119.35" y1="415.29" x2="1127.35" y2="415.29" stroke="#111" stroke-width="1.5"/>
<rect x="1159.50" y="434.27" width="24.50" height="60.23" fill="#fff" stroke="#111" stroke-width="1.5"/>
<line x1="1171.75" y1="433.32" x2="1171.75" y2="435.21" stroke="#111" stroke-width="1.5"/>
<line x1="1167.75" y1="433.32" x2="1175.75" y2="433.32" stroke="#111" stroke-width="1.5"/>
<line x1="1167.75" y1="435.21" x2="1175.75" y2="435.21" stroke="#111" stroke-width="1.5"/>
<text x="1024.80" y="483.30" font-size="15" text-anchor="middle" fill="#000" font-weight="bold">a</text>
<text x="1074.70" y="350.80" font-size="15" text-anchor="middle" fill="#000" font-weight="bold">b</text>
<text x="1125.90" y="404.10" font-size="15" text-anchor="middle" fill="#000" font-weight="bold">c</text>
<text x="1172.50" y="430.80" font-size="15" text-anchor="middle" fill="#000" font-weight="bold">d</text>
<text transform="translate(944.00 405.40) rotate(-90)" font-size="15" text-anchor="middle" fill="#111" font-weight="bold">PGE<tspan font-size="8" dy="3">2</tspan><tspan dy="-3"> level per unit</tspan></text>
<text transform="translate(964.50 409.60) rotate(-90)" font-size="14.5" text-anchor="middle" fill="#111" font-weight="bold">DNA in adherent cells</text>
<text x="1025.80" y="512.40" font-size="14" text-anchor="middle" fill="#333" font-weight="bold">Poly-</text>
<text x="1025.80" y="529.00" font-size="14" text-anchor="middle" fill="#333" font-weight="bold">styrene</text>
<text x="1074.40" y="512.40" font-size="14" text-anchor="middle" fill="#333" font-weight="bold">Soft</text>
<text x="1121.00" y="512.40" font-size="14" text-anchor="middle" fill="#333" font-weight="bold">Mid</text>
<text x="1172.00" y="512.40" font-size="14" text-anchor="middle" fill="#333" font-weight="bold">Hard</text>
<line x1="1074.00" y1="514.80" x2="1179.50" y2="514.80" stroke="#111" stroke-width="2"/>
<text x="1126.40" y="531.30" font-size="14" text-anchor="middle" fill="#333" font-weight="bold">PDMS</text>
<line x1="1010.70" y1="534.00" x2="1178.70" y2="534.00" stroke="#111" stroke-width="2"/>
<text x="1094.70" y="553.50" font-size="14" text-anchor="middle" fill="#333" font-weight="bold">hGF-M2 cells</text>
<text x="0.70" y="607.00" font-size="31.5" text-anchor="start" fill="#000" font-weight="bold">F</text>
<text x="626.50" y="606.40" font-size="24.5" text-anchor="middle" fill="#333" font-weight="bold">hGF-M2 cells</text>
<line x1="68.25" y1="614.80" x2="1198.00" y2="614.80" stroke="#000" stroke-width="3"/>
<text x="295.00" y="640.00" font-size="24.3" text-anchor="middle" fill="#333" font-weight="bold">Polystyrene</text>
<text x="858.80" y="640.20" font-size="25" text-anchor="middle" fill="#333" font-weight="bold">PDMS</text>
<line x1="68.25" y1="646.50" x2="511.10" y2="646.50" stroke="#000" stroke-width="3"/>
<line x1="538.70" y1="646.50" x2="1198.00" y2="646.50" stroke="#000" stroke-width="3"/>
<text x="644.50" y="674.00" font-size="25" text-anchor="middle" fill="#333" font-weight="bold">Soft</text>
<text x="867.10" y="674.00" font-size="25" text-anchor="middle" fill="#333" font-weight="bold">Mid</text>
<text x="1090.10" y="674.00" font-size="25" text-anchor="middle" fill="#333" font-weight="bold">Hard</text>
<text x="20.00" y="703.00" font-size="21.5" text-anchor="start" fill="#000" font-weight="bold" letter-spacing="1.6">LPS</text>
<path d="M161.35 682.6 C157.22 688.5 157.22 696.5 161.35 702.4" fill="none" stroke="#000" stroke-width="2.3"/>
<path d="M187.85 682.6 C191.85 688.5 191.85 696.5 187.85 702.4" fill="none" stroke="#000" stroke-width="2.3"/>
<line x1="166.90" y1="692.70" x2="182.10" y2="692.70" stroke="#000" stroke-width="2"/>
<path d="M385.45 682.6 C381.32 688.5 381.32 696.5 385.45 702.4" fill="none" stroke="#000" stroke-width="2.3"/>
<path d="M411.95 682.6 C415.95 688.5 415.95 696.5 411.95 702.4" fill="none" stroke="#000" stroke-width="2.3"/>
<line x1="391.00" y1="692.70" x2="406.20" y2="692.70" stroke="#000" stroke-width="2"/>
<line x1="398.60" y1="685.20" x2="398.60" y2="700.40" stroke="#000" stroke-width="2"/>
<path d="M630.75 682.6 C626.62 688.5 626.62 696.5 630.75 702.4" fill="none" stroke="#000" stroke-width="2.3"/>
<path d="M657.25 682.6 C661.25 688.5 661.25 696.5 657.25 702.4" fill="none" stroke="#000" stroke-width="2.3"/>
<line x1="636.30" y1="692.70" x2="651.50" y2="692.70" stroke="#000" stroke-width="2"/>
<line x1="643.90" y1="685.20" x2="643.90" y2="700.40" stroke="#000" stroke-width="2"/>
<path d="M854.25 682.6 C850.12 688.5 850.12 696.5 854.25 702.4" fill="none" stroke="#000" stroke-width="2.3"/>
<path d="M880.75 682.6 C884.75 688.5 884.75 696.5 880.75 702.4" fill="none" stroke="#000" stroke-width="2.3"/>
<line x1="859.80" y1="692.70" x2="875.00" y2="692.70" stroke="#000" stroke-width="2"/>
<line x1="867.40" y1="685.20" x2="867.40" y2="700.40" stroke="#000" stroke-width="2"/>
<path d="M1076.65 682.6 C1072.52 688.5 1072.52 696.5 1076.65 702.4" fill="none" stroke="#000" stroke-width="2.3"/>
<path d="M1103.15 682.6 C1107.15 688.5 1107.15 696.5 1103.15 702.4" fill="none" stroke="#000" stroke-width="2.3"/>
<line x1="1082.20" y1="692.70" x2="1097.40" y2="692.70" stroke="#000" stroke-width="2"/>
<line x1="1089.80" y1="685.20" x2="1089.80" y2="700.40" stroke="#000" stroke-width="2"/>
<rect x="67.00" y="705.00" width="218.00" height="161.50" fill="#777" filter="url(#ph21)"/>
<g fill="#2e2e2e" opacity="0.55"><ellipse cx="110.7" cy="806.5" rx="1.4" ry="1.3"/><ellipse cx="193.3" cy="727.5" rx="2.0" ry="1.6"/><ellipse cx="179.7" cy="782.5" rx="1.9" ry="1.7"/><ellipse cx="249.8" cy="832.1" rx="2.1" ry="1.5"/><ellipse cx="102.0" cy="772.6" rx="1.6" ry="1.3"/><ellipse cx="215.1" cy="735.3" rx="1.7" ry="1.2"/><ellipse cx="149.4" cy="783.2" rx="1.8" ry="1.3"/><ellipse cx="74.1" cy="752.3" rx="1.4" ry="1.1"/><ellipse cx="169.8" cy="857.2" rx="1.5" ry="1.2"/><ellipse cx="99.5" cy="714.6" rx="1.7" ry="1.2"/><ellipse cx="185.3" cy="778.5" rx="1.6" ry="1.4"/><ellipse cx="243.7" cy="816.2" rx="1.8" ry="1.3"/><ellipse cx="175.7" cy="839.6" rx="1.2" ry="0.9"/><ellipse cx="279.0" cy="745.2" rx="1.4" ry="0.9"/><ellipse cx="268.6" cy="812.7" rx="1.9" ry="1.7"/><ellipse cx="277.0" cy="835.2" rx="1.5" ry="1.3"/><ellipse cx="182.6" cy="848.3" rx="2.2" ry="1.9"/><ellipse cx="242.5" cy="824.7" rx="1.7" ry="1.1"/><ellipse cx="142.9" cy="796.6" rx="1.5" ry="1.3"/><ellipse cx="219.6" cy="745.4" rx="1.7" ry="1.6"/><ellipse cx="212.1" cy="708.0" rx="1.5" ry="1.3"/><ellipse cx="165.1" cy="763.6" rx="1.5" ry="1.3"/><ellipse cx="93.7" cy="714.8" rx="2.1" ry="2.0"/><ellipse cx="83.3" cy="817.2" rx="2.1" ry="1.3"/><ellipse cx="250.9" cy="756.2" rx="2.0" ry="1.3"/><ellipse cx="156.0" cy="845.0" rx="1.7" ry="1.6"/><ellipse cx="223.4" cy="784.4" rx="2.1" ry="1.3"/><ellipse cx="75.3" cy="815.8" rx="1.3" ry="1.3"/><ellipse cx="72.4" cy="716.3" rx="2.2" ry="2.1"/><ellipse cx="259.1" cy="766.8" rx="2.1" ry="2.0"/><ellipse cx="259.3" cy="721.0" rx="1.7" ry="1.2"/><ellipse cx="209.9" cy="808.9" rx="1.3" ry="1.2"/><ellipse cx="144.5" cy="753.7" rx="1.3" ry="1.2"/><ellipse cx="191.1" cy="750.0" rx="1.5" ry="1.0"/><ellipse cx="219.4" cy="732.5" rx="2.1" ry="2.0"/><ellipse cx="138.2" cy="761.5" rx="1.6" ry="1.4"/><ellipse cx="211.5" cy="855.6" rx="1.3" ry="1.3"/><ellipse cx="155.5" cy="720.4" rx="1.3" ry="1.1"/><ellipse cx="215.8" cy="812.0" rx="2.0" ry="1.4"/><ellipse cx="280.7" cy="805.4" rx="2.1" ry="1.3"/><ellipse cx="124.0" cy="763.7" rx="2.0" ry="1.7"/><ellipse cx="98.4" cy="784.3" rx="1.3" ry="1.1"/><ellipse cx="145.7" cy="710.6" rx="1.5" ry="1.0"/><ellipse cx="266.7" cy="753.1" rx="2.2" ry="1.8"/><ellipse cx="116.6" cy="779.4" rx="1.4" ry="1.3"/></g>
<g fill="#9a9a9a" fill-opacity="0.35" stroke="#c8c8c8" stroke-opacity="0.55" stroke-width="1.1"><circle cx="237.3" cy="852.5" r="3.7"/><circle cx="125.7" cy="823.6" r="3.3"/><circle cx="238.1" cy="761.6" r="3.6"/><circle cx="236.1" cy="713.7" r="3.2"/><circle cx="155.0" cy="754.9" r="4.3"/><circle cx="87.3" cy="777.8" r="3.1"/></g>
<rect x="198.00" y="846" width="71.00" height="6" fill="#fff"/>
<rect x="290.00" y="705.00" width="217.50" height="161.50" fill="#777" filter="url(#ph22)"/>
<g fill="#2e2e2e" opacity="0.55"><ellipse cx="397.0" cy="757.3" rx="1.3" ry="1.1"/><ellipse cx="379.3" cy="844.2" rx="1.7" ry="1.3"/><ellipse cx="450.6" cy="810.6" rx="1.3" ry="1.3"/><ellipse cx="499.5" cy="725.4" rx="1.4" ry="0.9"/><ellipse cx="412.1" cy="816.0" rx="2.0" ry="1.3"/><ellipse cx="298.6" cy="797.3" rx="1.2" ry="0.7"/><ellipse cx="453.1" cy="773.6" rx="1.8" ry="1.7"/><ellipse cx="431.0" cy="802.7" rx="1.7" ry="1.3"/><ellipse cx="356.7" cy="778.3" rx="2.2" ry="1.5"/><ellipse cx="467.0" cy="828.3" rx="1.6" ry="1.4"/><ellipse cx="361.9" cy="715.8" rx="1.9" ry="1.2"/><ellipse cx="478.3" cy="767.7" rx="1.3" ry="1.1"/><ellipse cx="400.7" cy="730.9" rx="2.1" ry="1.5"/><ellipse cx="385.6" cy="744.2" rx="1.5" ry="1.0"/><ellipse cx="298.0" cy="729.9" rx="1.3" ry="1.2"/><ellipse cx="487.1" cy="832.8" rx="1.3" ry="0.9"/><ellipse cx="480.3" cy="749.2" rx="1.4" ry="1.0"/><ellipse cx="455.5" cy="834.9" rx="1.3" ry="0.9"/><ellipse cx="460.3" cy="810.8" rx="1.9" ry="1.2"/><ellipse cx="329.5" cy="710.5" rx="2.2" ry="2.1"/><ellipse cx="437.8" cy="846.2" rx="1.4" ry="1.0"/><ellipse cx="385.7" cy="713.7" rx="1.7" ry="1.2"/><ellipse cx="331.6" cy="718.4" rx="1.4" ry="1.2"/><ellipse cx="382.4" cy="809.6" rx="1.9" ry="1.4"/><ellipse cx="414.4" cy="735.3" rx="1.8" ry="1.1"/><ellipse cx="431.1" cy="853.1" rx="1.3" ry="1.0"/><ellipse cx="373.4" cy="860.3" rx="1.8" ry="1.5"/><ellipse cx="339.8" cy="742.8" rx="1.9" ry="1.3"/><ellipse cx="403.4" cy="790.7" rx="2.0" ry="1.7"/><ellipse cx="354.3" cy="751.5" rx="2.0" ry="1.3"/><ellipse cx="401.5" cy="769.0" rx="1.4" ry="1.3"/><ellipse cx="367.9" cy="863.2" rx="1.2" ry="1.1"/><ellipse cx="431.8" cy="851.5" rx="1.6" ry="1.3"/><ellipse cx="485.4" cy="827.5" rx="2.1" ry="1.8"/><ellipse cx="413.3" cy="840.8" rx="1.6" ry="1.0"/><ellipse cx="322.0" cy="724.1" rx="1.6" ry="1.1"/><ellipse cx="432.9" cy="848.7" rx="2.0" ry="1.9"/><ellipse cx="334.3" cy="828.9" rx="2.2" ry="1.6"/><ellipse cx="351.5" cy="809.6" rx="1.3" ry="1.2"/><ellipse cx="326.3" cy="767.8" rx="2.1" ry="1.8"/><ellipse cx="451.1" cy="726.9" rx="1.6" ry="1.2"/><ellipse cx="464.7" cy="859.7" rx="1.6" ry="1.2"/><ellipse cx="395.1" cy="757.3" rx="1.6" ry="1.3"/><ellipse cx="436.1" cy="802.3" rx="2.0" ry="1.4"/><ellipse cx="390.2" cy="847.9" rx="1.3" ry="1.3"/></g>
<g fill="#9a9a9a" fill-opacity="0.35" stroke="#c8c8c8" stroke-opacity="0.55" stroke-width="1.1"><circle cx="427.4" cy="804.7" r="3.0"/><circle cx="461.8" cy="761.1" r="3.2"/><circle cx="443.6" cy="763.4" r="4.4"/><circle cx="390.4" cy="766.6" r="2.5"/><circle cx="451.6" cy="742.8" r="3.4"/><circle cx="434.8" cy="780.5" r="4.4"/><circle cx="377.0" cy="764.4" r="2.7"/></g>
<rect x="419.00" y="846" width="70.00" height="6" fill="#fff"/>
<rect x="535.30" y="705.00" width="218.10" height="161.50" fill="#777" filter="url(#ph23)"/>
<g fill="#2e2e2e" opacity="0.55"><ellipse cx="615.5" cy="820.0" rx="1.2" ry="1.2"/><ellipse cx="702.6" cy="813.8" rx="1.8" ry="1.8"/><ellipse cx="664.5" cy="804.9" rx="1.2" ry="0.8"/><ellipse cx="693.7" cy="760.8" rx="1.5" ry="1.2"/><ellipse cx="626.6" cy="810.8" rx="1.5" ry="1.5"/><ellipse cx="734.0" cy="856.5" rx="2.0" ry="1.5"/><ellipse cx="680.5" cy="738.8" rx="1.3" ry="1.3"/><ellipse cx="547.7" cy="816.7" rx="1.3" ry="0.9"/><ellipse cx="551.6" cy="833.6" rx="1.5" ry="1.3"/><ellipse cx="621.7" cy="718.0" rx="1.4" ry="1.2"/></g>
<g fill="#9a9a9a" fill-opacity="0.35" stroke="#c8c8c8" stroke-opacity="0.55" stroke-width="1.1"><circle cx="645.5" cy="736.1" r="3.2"/><circle cx="707.7" cy="815.0" r="2.8"/><circle cx="724.0" cy="839.3" r="2.6"/><circle cx="674.1" cy="767.5" r="2.7"/><circle cx="607.1" cy="807.1" r="2.7"/></g>
<rect x="535.30" y="705" width="218.10" height="161.5" fill="url(#softfade)"/>
<rect x="667.30" y="846" width="69.70" height="6" fill="#fff"/>
<rect x="758.20" y="705.00" width="217.80" height="161.50" fill="#777" filter="url(#ph24)"/>
<g fill="#2e2e2e" opacity="0.55"><ellipse cx="899.0" cy="810.1" rx="1.2" ry="0.8"/><ellipse cx="966.9" cy="737.9" rx="1.9" ry="1.5"/><ellipse cx="966.0" cy="815.2" rx="1.5" ry="1.0"/><ellipse cx="828.8" cy="841.1" rx="2.2" ry="2.0"/><ellipse cx="795.8" cy="819.8" rx="1.5" ry="1.3"/><ellipse cx="819.5" cy="739.7" rx="1.4" ry="1.3"/><ellipse cx="811.6" cy="727.2" rx="1.3" ry="1.0"/><ellipse cx="855.4" cy="737.5" rx="1.8" ry="1.8"/><ellipse cx="936.1" cy="815.3" rx="1.4" ry="1.2"/><ellipse cx="887.9" cy="738.3" rx="2.1" ry="1.4"/><ellipse cx="916.9" cy="816.3" rx="1.9" ry="1.8"/><ellipse cx="806.7" cy="755.6" rx="1.9" ry="1.7"/><ellipse cx="868.4" cy="805.1" rx="1.6" ry="1.5"/><ellipse cx="926.4" cy="708.2" rx="2.1" ry="2.0"/><ellipse cx="777.3" cy="825.4" rx="2.1" ry="1.5"/><ellipse cx="831.8" cy="850.4" rx="1.9" ry="1.8"/><ellipse cx="921.6" cy="752.8" rx="1.9" ry="1.9"/><ellipse cx="781.0" cy="757.3" rx="1.4" ry="1.0"/><ellipse cx="935.3" cy="732.5" rx="2.1" ry="1.6"/><ellipse cx="923.9" cy="729.1" rx="1.8" ry="1.4"/><ellipse cx="770.3" cy="796.8" rx="2.2" ry="1.5"/><ellipse cx="946.0" cy="821.9" rx="1.5" ry="1.4"/><ellipse cx="807.1" cy="751.4" rx="1.8" ry="1.5"/><ellipse cx="871.1" cy="797.0" rx="1.7" ry="1.7"/><ellipse cx="898.8" cy="854.6" rx="1.5" ry="1.0"/><ellipse cx="869.5" cy="740.7" rx="2.2" ry="1.6"/><ellipse cx="936.2" cy="760.1" rx="1.9" ry="1.5"/><ellipse cx="855.7" cy="761.9" rx="2.1" ry="1.4"/><ellipse cx="836.6" cy="763.2" rx="1.9" ry="1.5"/><ellipse cx="951.6" cy="768.8" rx="1.5" ry="1.1"/><ellipse cx="906.5" cy="712.1" rx="2.2" ry="2.1"/><ellipse cx="764.1" cy="727.7" rx="2.0" ry="1.8"/><ellipse cx="821.4" cy="758.5" rx="1.7" ry="1.2"/><ellipse cx="927.8" cy="765.8" rx="1.8" ry="1.5"/><ellipse cx="848.0" cy="751.7" rx="1.2" ry="1.0"/><ellipse cx="875.4" cy="760.2" rx="1.7" ry="1.3"/><ellipse cx="827.6" cy="737.9" rx="1.5" ry="1.4"/><ellipse cx="906.5" cy="842.9" rx="2.1" ry="1.8"/><ellipse cx="946.7" cy="744.9" rx="1.4" ry="1.3"/><ellipse cx="891.9" cy="803.5" rx="1.9" ry="1.3"/><ellipse cx="940.7" cy="814.4" rx="1.7" ry="1.3"/><ellipse cx="850.2" cy="822.2" rx="1.6" ry="1.3"/><ellipse cx="819.3" cy="813.3" rx="1.6" ry="1.5"/><ellipse cx="920.8" cy="741.2" rx="1.7" ry="1.1"/><ellipse cx="881.5" cy="832.2" rx="1.6" ry="1.2"/></g>
<g fill="#9a9a9a" fill-opacity="0.35" stroke="#c8c8c8" stroke-opacity="0.55" stroke-width="1.1"><circle cx="799.4" cy="763.7" r="2.9"/><circle cx="828.2" cy="844.3" r="2.5"/><circle cx="926.4" cy="815.3" r="2.6"/><circle cx="771.3" cy="794.0" r="4.3"/><circle cx="850.7" cy="819.5" r="4.2"/><circle cx="967.9" cy="806.8" r="3.2"/></g>
<rect x="888.30" y="846" width="69.70" height="6" fill="#fff"/>
<rect x="981.00" y="705.00" width="217.00" height="161.50" fill="#777" filter="url(#ph25)"/>
<g fill="#2e2e2e" opacity="0.55"><ellipse cx="1100.2" cy="727.5" rx="1.3" ry="1.3"/><ellipse cx="1123.0" cy="734.5" rx="2.1" ry="1.5"/><ellipse cx="1127.5" cy="856.8" rx="1.3" ry="1.1"/><ellipse cx="1165.3" cy="851.1" rx="1.3" ry="1.1"/><ellipse cx="1078.3" cy="739.0" rx="1.2" ry="1.0"/><ellipse cx="1023.9" cy="750.3" rx="1.6" ry="1.2"/><ellipse cx="1189.0" cy="782.7" rx="1.3" ry="0.9"/><ellipse cx="1177.9" cy="807.0" rx="1.8" ry="1.3"/><ellipse cx="1050.2" cy="769.4" rx="1.5" ry="1.4"/><ellipse cx="1138.2" cy="765.5" rx="1.7" ry="1.2"/><ellipse cx="1145.5" cy="758.0" rx="1.4" ry="1.1"/><ellipse cx="1022.6" cy="719.7" rx="1.5" ry="1.3"/><ellipse cx="1001.9" cy="778.8" rx="1.4" ry="0.9"/><ellipse cx="1025.8" cy="710.1" rx="2.1" ry="2.1"/><ellipse cx="1003.6" cy="794.6" rx="2.0" ry="1.5"/><ellipse cx="1035.6" cy="860.0" rx="2.1" ry="1.9"/><ellipse cx="1032.0" cy="791.3" rx="2.0" ry="1.9"/><ellipse cx="992.9" cy="799.8" rx="1.5" ry="1.1"/><ellipse cx="1017.7" cy="788.2" rx="1.4" ry="1.1"/><ellipse cx="1091.4" cy="743.8" rx="2.1" ry="1.3"/><ellipse cx="1137.5" cy="793.5" rx="1.8" ry="1.5"/><ellipse cx="1193.7" cy="788.7" rx="2.1" ry="1.9"/><ellipse cx="1024.2" cy="792.8" rx="1.7" ry="1.4"/><ellipse cx="1156.7" cy="797.7" rx="1.9" ry="1.2"/><ellipse cx="1181.9" cy="844.8" rx="1.3" ry="1.1"/><ellipse cx="1164.4" cy="770.5" rx="1.3" ry="0.9"/><ellipse cx="1073.4" cy="812.8" rx="1.3" ry="1.1"/><ellipse cx="1121.6" cy="724.5" rx="1.5" ry="1.3"/><ellipse cx="1083.2" cy="780.9" rx="1.4" ry="1.2"/><ellipse cx="1135.5" cy="755.5" rx="1.9" ry="1.2"/><ellipse cx="1156.3" cy="728.0" rx="1.9" ry="1.7"/><ellipse cx="1069.1" cy="745.2" rx="1.4" ry="1.3"/><ellipse cx="1023.0" cy="724.7" rx="1.7" ry="1.1"/><ellipse cx="1133.0" cy="819.0" rx="1.8" ry="1.6"/><ellipse cx="984.7" cy="775.5" rx="1.9" ry="1.6"/><ellipse cx="998.4" cy="829.2" rx="2.1" ry="1.4"/><ellipse cx="1096.7" cy="804.0" rx="1.5" ry="1.1"/><ellipse cx="1062.5" cy="812.1" rx="2.0" ry="1.3"/><ellipse cx="1158.0" cy="790.6" rx="1.9" ry="1.7"/><ellipse cx="1006.8" cy="722.0" rx="2.0" ry="1.8"/><ellipse cx="1111.5" cy="725.1" rx="1.5" ry="1.2"/><ellipse cx="1032.1" cy="843.5" rx="1.4" ry="1.3"/><ellipse cx="1065.5" cy="845.9" rx="1.9" ry="1.8"/><ellipse cx="1107.5" cy="733.2" rx="1.5" ry="1.2"/><ellipse cx="1079.3" cy="789.9" rx="1.9" ry="1.2"/></g>
<g fill="#9a9a9a" fill-opacity="0.35" stroke="#c8c8c8" stroke-opacity="0.55" stroke-width="1.1"><circle cx="1081.9" cy="796.1" r="4.1"/><circle cx="1141.3" cy="739.5" r="2.8"/><circle cx="1139.9" cy="813.5" r="3.7"/><circle cx="1188.0" cy="792.3" r="3.1"/><circle cx="1054.8" cy="715.9" r="4.1"/><circle cx="1070.4" cy="787.6" r="2.8"/><circle cx="1176.0" cy="772.9" r="2.6"/><circle cx="1136.1" cy="824.4" r="2.7"/><circle cx="1124.6" cy="735.7" r="2.9"/></g>
<rect x="1112.00" y="846" width="69.00" height="6" fill="#fff"/>
<text x="233.30" y="839.00" font-size="20.7" text-anchor="middle" fill="#fff" font-weight="bold">200 µm</text>
<text x="0.00" y="901.50" font-size="32" text-anchor="start" fill="#000" font-weight="bold">G</text>
<rect x="103.40" y="889.40" width="13.80" height="13.30" fill="#fff" stroke="#111" stroke-width="2"/>
<rect x="103.40" y="908.50" width="13.80" height="13.30" fill="#808080" stroke="#111" stroke-width="2"/>
<text x="125.30" y="903.40" font-size="16" text-anchor="start" fill="#000" font-weight="bold" letter-spacing="1.35">LPS(-)</text>
<text x="125.30" y="922.40" font-size="16" text-anchor="start" fill="#000" font-weight="bold" letter-spacing="1.35">LPS(+)</text>
<line x1="92.90" y1="908.20" x2="92.90" y2="1087.60" stroke="#111" stroke-width="1.5"/>
<line x1="92.90" y1="1086.70" x2="311.60" y2="1086.70" stroke="#111" stroke-width="1.5"/>
<line x1="87.40" y1="1086.90" x2="92.90" y2="1086.90" stroke="#111" stroke-width="1.5"/>
<text x="86.00" y="1092.10" font-size="14.5" text-anchor="end" fill="#333" font-weight="bold">0</text>
<line x1="87.40" y1="1051.30" x2="92.90" y2="1051.30" stroke="#111" stroke-width="1.5"/>
<text x="86.00" y="1056.50" font-size="14.5" text-anchor="end" fill="#333" font-weight="bold">20</text>
<line x1="87.40" y1="1015.70" x2="92.90" y2="1015.70" stroke="#111" stroke-width="1.5"/>
<text x="86.00" y="1020.90" font-size="14.5" text-anchor="end" fill="#333" font-weight="bold">40</text>
<line x1="87.40" y1="980.10" x2="92.90" y2="980.10" stroke="#111" stroke-width="1.5"/>
<text x="86.00" y="985.30" font-size="14.5" text-anchor="end" fill="#333" font-weight="bold">15</text>
<line x1="87.40" y1="944.50" x2="92.90" y2="944.50" stroke="#111" stroke-width="1.5"/>
<text x="86.00" y="949.70" font-size="14.5" text-anchor="end" fill="#333" font-weight="bold">20</text>
<line x1="87.40" y1="908.90" x2="92.90" y2="908.90" stroke="#111" stroke-width="1.5"/>
<text x="86.00" y="914.10" font-size="14.5" text-anchor="end" fill="#333" font-weight="bold">50</text>
<rect x="103.30" y="1079.20" width="22.50" height="7.70" fill="#fff" stroke="#111" stroke-width="1.5"/>
<rect x="147.20" y="1034.60" width="22.50" height="52.30" fill="#808080" stroke="#111" stroke-width="1.5"/>
<line x1="158.45" y1="1032.70" x2="158.45" y2="1036.50" stroke="#111" stroke-width="1.5"/>
<line x1="154.45" y1="1032.70" x2="162.45" y2="1032.70" stroke="#111" stroke-width="1.5"/>
<line x1="154.45" y1="1036.50" x2="162.45" y2="1036.50" stroke="#111" stroke-width="1.5"/>
<rect x="190.40" y="956.50" width="22.70" height="130.40" fill="#808080" stroke="#111" stroke-width="1.5"/>
<line x1="201.75" y1="952.10" x2="201.75" y2="963.00" stroke="#111" stroke-width="1.5"/>
<line x1="197.75" y1="952.10" x2="205.75" y2="952.10" stroke="#111" stroke-width="1.5"/>
<line x1="197.75" y1="963.00" x2="205.75" y2="963.00" stroke="#111" stroke-width="1.5"/>
<rect x="235.10" y="978.50" width="21.90" height="108.40" fill="#808080" stroke="#111" stroke-width="1.5"/>
<line x1="246.05" y1="974.10" x2="246.05" y2="983.70" stroke="#111" stroke-width="1.5"/>
<line x1="242.05" y1="974.10" x2="250.05" y2="974.10" stroke="#111" stroke-width="1.5"/>
<line x1="242.05" y1="983.70" x2="250.05" y2="983.70" stroke="#111" stroke-width="1.5"/>
<rect x="277.70" y="980.30" width="22.80" height="106.60" fill="#808080" stroke="#111" stroke-width="1.5"/>
<line x1="289.10" y1="975.90" x2="289.10" y2="985.50" stroke="#111" stroke-width="1.5"/>
<line x1="285.10" y1="975.90" x2="293.10" y2="975.90" stroke="#111" stroke-width="1.5"/>
<line x1="285.10" y1="985.50" x2="293.10" y2="985.50" stroke="#111" stroke-width="1.5"/>
<text x="115.50" y="1068.90" font-size="21" text-anchor="middle" fill="#000" font-weight="bold">a</text>
<text x="160.20" y="1026.30" font-size="21" text-anchor="middle" fill="#000" font-weight="bold">b</text>
<text x="204.10" y="945.00" font-size="21" text-anchor="middle" fill="#000" font-weight="bold">c</text>
<text x="266.60" y="957.80" font-size="21" text-anchor="middle" fill="#000" font-weight="bold">d</text>
<line x1="244.10" y1="964.80" x2="287.50" y2="964.80" stroke="#111" stroke-width="2"/>
<text transform="translate(44.80 990.20) rotate(-90)" font-size="15.5" text-anchor="middle" fill="#333" font-weight="bold"><tspan font-style="italic">PTGS2 / GAPDH</tspan> mRNA</text>
<text transform="translate(61.80 989.90) rotate(-90)" font-size="16.3" text-anchor="middle" fill="#333" font-weight="bold">expression</text>
<line x1="115.50" y1="1091.60" x2="158.10" y2="1091.60" stroke="#111" stroke-width="2"/>
<text x="134.30" y="1107.20" font-size="15" text-anchor="middle" fill="#333" font-weight="bold">Poly-</text>
<text x="137.00" y="1124.20" font-size="15" text-anchor="middle" fill="#333" font-weight="bold">styrene</text>
<text x="200.70" y="1107.20" font-size="15" text-anchor="middle" fill="#333" font-weight="bold">Soft</text>
<text x="242.00" y="1107.20" font-size="15" text-anchor="middle" fill="#333" font-weight="bold">Mid</text>
<text x="288.30" y="1107.20" font-size="15" text-anchor="middle" fill="#333" font-weight="bold">Hard</text>
<line x1="198.90" y1="1111.50" x2="284.20" y2="1111.50" stroke="#111" stroke-width="2"/>
<text x="239.40" y="1128.20" font-size="15" text-anchor="middle" fill="#333" font-weight="bold">PDMS</text>
<line x1="115.50" y1="1134.00" x2="283.60" y2="1134.00" stroke="#111" stroke-width="2"/>
<text x="197.00" y="1153.60" font-size="15" text-anchor="middle" fill="#333" font-weight="bold">hGF-M2 cells</text>
<rect x="395.00" y="889.40" width="13.80" height="13.30" fill="#fff" stroke="#111" stroke-width="2"/>
<rect x="395.00" y="908.50" width="13.80" height="13.30" fill="#808080" stroke="#111" stroke-width="2"/>
<text x="416.70" y="903.40" font-size="16" text-anchor="start" fill="#000" font-weight="bold" letter-spacing="1.35">LPS(-)</text>
<text x="416.70" y="922.40" font-size="16" text-anchor="start" fill="#000" font-weight="bold" letter-spacing="1.35">LPS(+)</text>
<line x1="386.50" y1="910.60" x2="386.50" y2="1088.20" stroke="#111" stroke-width="1.5"/>
<line x1="386.50" y1="1087.30" x2="596.60" y2="1087.30" stroke="#111" stroke-width="1.5"/>
<line x1="381.00" y1="1087.50" x2="386.50" y2="1087.50" stroke="#111" stroke-width="1.5"/>
<text x="381.40" y="1092.70" font-size="14.5" text-anchor="end" fill="#333" font-weight="bold">0</text>
<line x1="381.00" y1="1043.45" x2="386.50" y2="1043.45" stroke="#111" stroke-width="1.5"/>
<text x="381.40" y="1048.65" font-size="14.5" text-anchor="end" fill="#333" font-weight="bold">50</text>
<line x1="381.00" y1="999.40" x2="386.50" y2="999.40" stroke="#111" stroke-width="1.5"/>
<text x="381.40" y="1004.60" font-size="14.5" text-anchor="end" fill="#333" font-weight="bold">100</text>
<line x1="381.00" y1="955.35" x2="386.50" y2="955.35" stroke="#111" stroke-width="1.5"/>
<text x="381.40" y="960.55" font-size="14.5" text-anchor="end" fill="#333" font-weight="bold">150</text>
<line x1="381.00" y1="911.30" x2="386.50" y2="911.30" stroke="#111" stroke-width="1.5"/>
<text x="381.40" y="916.50" font-size="14.5" text-anchor="end" fill="#333" font-weight="bold">200</text>
<rect x="396.90" y="1086.18" width="21.40" height="1.32" fill="#fff" stroke="#111" stroke-width="1.5"/>
<rect x="438.70" y="1064.59" width="20.90" height="22.91" fill="#808080" stroke="#111" stroke-width="1.5"/>
<line x1="449.15" y1="1061.95" x2="449.15" y2="1067.24" stroke="#111" stroke-width="1.5"/>
<line x1="445.15" y1="1061.95" x2="453.15" y2="1061.95" stroke="#111" stroke-width="1.5"/>
<line x1="445.15" y1="1067.24" x2="453.15" y2="1067.24" stroke="#111" stroke-width="1.5"/>
<rect x="481.30" y="929.80" width="21.50" height="157.70" fill="#808080" stroke="#111" stroke-width="1.5"/>
<line x1="492.05" y1="925.40" x2="492.05" y2="934.21" stroke="#111" stroke-width="1.5"/>
<line x1="488.05" y1="925.40" x2="496.05" y2="925.40" stroke="#111" stroke-width="1.5"/>
<line x1="488.05" y1="934.21" x2="496.05" y2="934.21" stroke="#111" stroke-width="1.5"/>
<rect x="522.90" y="976.49" width="21.20" height="111.01" fill="#808080" stroke="#111" stroke-width="1.5"/>
<line x1="533.50" y1="967.68" x2="533.50" y2="984.42" stroke="#111" stroke-width="1.5"/>
<line x1="529.50" y1="967.68" x2="537.50" y2="967.68" stroke="#111" stroke-width="1.5"/>
<line x1="529.50" y1="984.42" x2="537.50" y2="984.42" stroke="#111" stroke-width="1.5"/>
<rect x="564.30" y="960.64" width="21.20" height="126.86" fill="#808080" stroke="#111" stroke-width="1.5"/>
<line x1="574.90" y1="959.75" x2="574.90" y2="961.52" stroke="#111" stroke-width="1.5"/>
<line x1="570.90" y1="959.75" x2="578.90" y2="959.75" stroke="#111" stroke-width="1.5"/>
<line x1="570.90" y1="961.52" x2="578.90" y2="961.52" stroke="#111" stroke-width="1.5"/>
<text x="410.60" y="1079.20" font-size="21" text-anchor="middle" fill="#000" font-weight="bold">a</text>
<text x="450.30" y="1055.50" font-size="21" text-anchor="middle" fill="#000" font-weight="bold">b</text>
<text x="492.50" y="915.20" font-size="21" text-anchor="middle" fill="#000" font-weight="bold">c</text>
<text x="534.60" y="957.80" font-size="21" text-anchor="middle" fill="#000" font-weight="bold">d</text>
<text x="575.90" y="950.00" font-size="21" text-anchor="middle" fill="#000" font-weight="bold">e</text>
<text transform="translate(338.00 987.50) rotate(-90)" font-size="16" text-anchor="middle" fill="#333" font-weight="bold"><tspan font-style="italic">IL1B / GAPDH</tspan> mRNA</text>
<text transform="translate(354.60 988.20) rotate(-90)" font-size="16.4" text-anchor="middle" fill="#333" font-weight="bold">expression</text>
<line x1="408.50" y1="1091.60" x2="452.90" y2="1091.60" stroke="#111" stroke-width="2"/>
<text x="430.90" y="1107.20" font-size="15" text-anchor="middle" fill="#333" font-weight="bold">Poly-</text>
<text x="430.50" y="1124.20" font-size="15" text-anchor="middle" fill="#333" font-weight="bold">styrene</text>
<text x="492.20" y="1107.20" font-size="15" text-anchor="middle" fill="#333" font-weight="bold">Soft</text>
<text x="531.50" y="1107.20" font-size="15" text-anchor="middle" fill="#333" font-weight="bold">Mid</text>
<text x="575.40" y="1107.20" font-size="15" text-anchor="middle" fill="#333" font-weight="bold">Hard</text>
<line x1="492.50" y1="1112.00" x2="577.70" y2="1112.00" stroke="#111" stroke-width="2"/>
<text x="533.50" y="1128.20" font-size="15" text-anchor="middle" fill="#333" font-weight="bold">PDMS</text>
<line x1="409.00" y1="1134.00" x2="577.70" y2="1134.00" stroke="#111" stroke-width="2"/>
<text x="493.80" y="1153.60" font-size="15" text-anchor="middle" fill="#333" font-weight="bold">hGF-M2 cells</text>
<rect x="675.40" y="889.40" width="13.80" height="13.30" fill="#fff" stroke="#111" stroke-width="2"/>
<rect x="675.40" y="908.50" width="13.80" height="13.30" fill="#808080" stroke="#111" stroke-width="2"/>
<text x="696.90" y="903.40" font-size="16" text-anchor="start" fill="#000" font-weight="bold" letter-spacing="1.35">LPS(-)</text>
<text x="696.90" y="922.40" font-size="16" text-anchor="start" fill="#000" font-weight="bold" letter-spacing="1.35">LPS(+)</text>
<line x1="666.60" y1="911.10" x2="666.60" y2="1087.20" stroke="#111" stroke-width="1.5"/>
<line x1="666.60" y1="1086.50" x2="884.20" y2="1086.50" stroke="#111" stroke-width="1.5"/>
<line x1="661.10" y1="1086.50" x2="666.60" y2="1086.50" stroke="#111" stroke-width="1.5"/>
<text x="661.80" y="1091.70" font-size="14.5" text-anchor="end" fill="#333" font-weight="bold">0</text>
<line x1="661.10" y1="1051.56" x2="666.60" y2="1051.56" stroke="#111" stroke-width="1.5"/>
<text x="661.80" y="1056.76" font-size="14.5" text-anchor="end" fill="#333" font-weight="bold">2</text>
<line x1="661.10" y1="1016.62" x2="666.60" y2="1016.62" stroke="#111" stroke-width="1.5"/>
<text x="661.80" y="1021.82" font-size="14.5" text-anchor="end" fill="#333" font-weight="bold">4</text>
<line x1="661.10" y1="981.68" x2="666.60" y2="981.68" stroke="#111" stroke-width="1.5"/>
<text x="661.80" y="986.88" font-size="14.5" text-anchor="end" fill="#333" font-weight="bold">6</text>
<line x1="661.10" y1="946.74" x2="666.60" y2="946.74" stroke="#111" stroke-width="1.5"/>
<text x="661.80" y="951.94" font-size="14.5" text-anchor="end" fill="#333" font-weight="bold">8</text>
<line x1="661.10" y1="911.80" x2="666.60" y2="911.80" stroke="#111" stroke-width="1.5"/>
<text x="661.80" y="917.00" font-size="14.5" text-anchor="end" fill="#333" font-weight="bold">10</text>
<rect x="677.00" y="1069.03" width="22.50" height="17.47" fill="#fff" stroke="#111" stroke-width="1.5"/>
<rect x="721.40" y="958.10" width="22.50" height="128.40" fill="#808080" stroke="#111" stroke-width="1.5"/>
<line x1="732.65" y1="953.73" x2="732.65" y2="962.46" stroke="#111" stroke-width="1.5"/>
<line x1="728.65" y1="953.73" x2="736.65" y2="953.73" stroke="#111" stroke-width="1.5"/>
<line x1="728.65" y1="962.46" x2="736.65" y2="962.46" stroke="#111" stroke-width="1.5"/>
<rect x="763.30" y="949.36" width="22.70" height="137.14" fill="#808080" stroke="#111" stroke-width="1.5"/>
<line x1="774.65" y1="943.25" x2="774.65" y2="955.47" stroke="#111" stroke-width="1.5"/>
<line x1="770.65" y1="943.25" x2="778.65" y2="943.25" stroke="#111" stroke-width="1.5"/>
<line x1="770.65" y1="955.47" x2="778.65" y2="955.47" stroke="#111" stroke-width="1.5"/>
<rect x="807.40" y="961.07" width="22.50" height="125.43" fill="#808080" stroke="#111" stroke-width="1.5"/>
<line x1="818.65" y1="956.35" x2="818.65" y2="966.83" stroke="#111" stroke-width="1.5"/>
<line x1="814.65" y1="956.35" x2="822.65" y2="956.35" stroke="#111" stroke-width="1.5"/>
<line x1="814.65" y1="966.83" x2="822.65" y2="966.83" stroke="#111" stroke-width="1.5"/>
<rect x="849.80" y="981.68" width="22.70" height="104.82" fill="#808080" stroke="#111" stroke-width="1.5"/>
<line x1="861.15" y1="977.31" x2="861.15" y2="985.17" stroke="#111" stroke-width="1.5"/>
<line x1="857.15" y1="977.31" x2="865.15" y2="977.31" stroke="#111" stroke-width="1.5"/>
<line x1="857.15" y1="985.17" x2="865.15" y2="985.17" stroke="#111" stroke-width="1.5"/>
<text x="687.80" y="1063.20" font-size="21" text-anchor="middle" fill="#000" font-weight="bold">a</text>
<text x="731.70" y="948.80" font-size="21" text-anchor="middle" fill="#000" font-weight="bold">b,c</text>
<text x="776.40" y="940.30" font-size="21" text-anchor="middle" fill="#000" font-weight="bold">b</text>
<text x="818.30" y="953.20" font-size="21" text-anchor="middle" fill="#000" font-weight="bold">c</text>
<text x="863.00" y="972.80" font-size="21" text-anchor="middle" fill="#000" font-weight="bold">d</text>
<text transform="translate(623.80 985.60) rotate(-90)" font-size="16" text-anchor="middle" fill="#333" font-weight="bold"><tspan font-style="italic">IL6 / GAPDH</tspan> mRNA</text>
<text transform="translate(640.40 985.00) rotate(-90)" font-size="16.4" text-anchor="middle" fill="#333" font-weight="bold">expression</text>
<line x1="686.50" y1="1091.60" x2="729.70" y2="1091.60" stroke="#111" stroke-width="2"/>
<text x="709.20" y="1107.20" font-size="15" text-anchor="middle" fill="#333" font-weight="bold">Poly-</text>
<text x="708.20" y="1124.20" font-size="15" text-anchor="middle" fill="#333" font-weight="bold">styrene</text>
<text x="775.30" y="1107.20" font-size="15" text-anchor="middle" fill="#333" font-weight="bold">Soft</text>
<text x="815.70" y="1107.20" font-size="15" text-anchor="middle" fill="#333" font-weight="bold">Mid</text>
<text x="861.60" y="1107.20" font-size="15" text-anchor="middle" fill="#333" font-weight="bold">Hard</text>
<line x1="770.50" y1="1112.00" x2="855.20" y2="1112.00" stroke="#111" stroke-width="2"/>
<text x="811.20" y="1128.20" font-size="15" text-anchor="middle" fill="#333" font-weight="bold">PDMS</text>
<line x1="686.50" y1="1134.00" x2="855.20" y2="1134.00" stroke="#111" stroke-width="2"/>
<text x="770.80" y="1153.60" font-size="15" text-anchor="middle" fill="#333" font-weight="bold">hGF-M2 cells</text>
<text x="900.70" y="901.80" font-size="32" text-anchor="start" fill="#000" font-weight="bold">H</text>
<text x="940.00" y="899.00" font-size="14" text-anchor="start" fill="#333" font-weight="bold">(x 10<tspan font-size="9" dy="-6.5">-6</tspan><tspan dy="6.5">)</tspan></text>
<rect x="989.50" y="889.40" width="13.80" height="13.30" fill="#fff" stroke="#111" stroke-width="2"/>
<rect x="989.50" y="908.50" width="13.80" height="13.30" fill="#808080" stroke="#111" stroke-width="2"/>
<text x="1011.40" y="903.40" font-size="16" text-anchor="start" fill="#000" font-weight="bold" letter-spacing="1.35">LPS(-)</text>
<text x="1011.40" y="922.40" font-size="16" text-anchor="start" fill="#000" font-weight="bold" letter-spacing="1.35">LPS(+)</text>
<line x1="981.70" y1="909.30" x2="981.70" y2="1085.60" stroke="#111" stroke-width="1.5"/>
<line x1="981.70" y1="1084.90" x2="1192.20" y2="1084.90" stroke="#111" stroke-width="1.5"/>
<line x1="976.20" y1="1084.90" x2="981.70" y2="1084.90" stroke="#111" stroke-width="1.5"/>
<text x="974.80" y="1090.10" font-size="14.5" text-anchor="end" fill="#333" font-weight="bold">0</text>
<line x1="976.20" y1="1041.18" x2="981.70" y2="1041.18" stroke="#111" stroke-width="1.5"/>
<text x="974.80" y="1046.38" font-size="14.5" text-anchor="end" fill="#333" font-weight="bold">150</text>
<line x1="976.20" y1="997.45" x2="981.70" y2="997.45" stroke="#111" stroke-width="1.5"/>
<text x="974.80" y="1002.65" font-size="14.5" text-anchor="end" fill="#333" font-weight="bold">300</text>
<line x1="976.20" y1="953.73" x2="981.70" y2="953.73" stroke="#111" stroke-width="1.5"/>
<text x="974.80" y="958.93" font-size="14.5" text-anchor="end" fill="#333" font-weight="bold">450</text>
<line x1="976.20" y1="910.00" x2="981.70" y2="910.00" stroke="#111" stroke-width="1.5"/>
<text x="974.80" y="915.20" font-size="14.5" text-anchor="end" fill="#333" font-weight="bold">600</text>
<rect x="992.00" y="1080.53" width="21.50" height="4.37" fill="#fff" stroke="#111" stroke-width="1.5"/>
<rect x="1033.40" y="1078.78" width="21.40" height="6.12" fill="#808080" stroke="#111" stroke-width="1.5"/>
<line x1="1044.10" y1="1078.20" x2="1044.10" y2="1079.36" stroke="#111" stroke-width="1.5"/>
<line x1="1040.10" y1="1078.20" x2="1048.10" y2="1078.20" stroke="#111" stroke-width="1.5"/>
<line x1="1040.10" y1="1079.36" x2="1048.10" y2="1079.36" stroke="#111" stroke-width="1.5"/>
<rect x="1076.50" y="944.98" width="21.50" height="139.92" fill="#808080" stroke="#111" stroke-width="1.5"/>
<line x1="1087.25" y1="941.48" x2="1087.25" y2="948.48" stroke="#111" stroke-width="1.5"/>
<line x1="1083.25" y1="941.48" x2="1091.25" y2="941.48" stroke="#111" stroke-width="1.5"/>
<line x1="1083.25" y1="948.48" x2="1091.25" y2="948.48" stroke="#111" stroke-width="1.5"/>
<rect x="1118.10" y="1012.03" width="21.20" height="72.88" fill="#808080" stroke="#111" stroke-width="1.5"/>
<line x1="1128.70" y1="1011.44" x2="1128.70" y2="1012.61" stroke="#111" stroke-width="1.5"/>
<line x1="1124.70" y1="1011.44" x2="1132.70" y2="1011.44" stroke="#111" stroke-width="1.5"/>
<line x1="1124.70" y1="1012.61" x2="1132.70" y2="1012.61" stroke="#111" stroke-width="1.5"/>
<rect x="1160.00" y="997.86" width="20.60" height="87.04" fill="#808080" stroke="#111" stroke-width="1.5"/>
<line x1="1170.30" y1="996.87" x2="1170.30" y2="998.91" stroke="#111" stroke-width="1.5"/>
<line x1="1166.30" y1="996.87" x2="1174.30" y2="996.87" stroke="#111" stroke-width="1.5"/>
<line x1="1166.30" y1="998.91" x2="1174.30" y2="998.91" stroke="#111" stroke-width="1.5"/>
<text x="1022.50" y="1060.60" font-size="21" text-anchor="middle" fill="#000" font-weight="bold">a</text>
<line x1="1001.60" y1="1065.00" x2="1044.20" y2="1065.00" stroke="#111" stroke-width="2"/>
<text x="1087.60" y="934.60" font-size="21" text-anchor="middle" fill="#000" font-weight="bold">b</text>
<text x="1129.50" y="1005.60" font-size="21" text-anchor="middle" fill="#000" font-weight="bold">c</text>
<text x="1170.30" y="988.80" font-size="21" text-anchor="middle" fill="#000" font-weight="bold">d</text>
<text transform="translate(927.50 997.50) rotate(-90)" font-size="15.3" text-anchor="middle" fill="#111" font-weight="bold">PGE<tspan font-size="8" dy="3">2</tspan><tspan dy="-3"> level per unit</tspan></text>
<text transform="translate(945.70 997.20) rotate(-90)" font-size="15.3" text-anchor="middle" fill="#111" font-weight="bold">DNA in adherent cells</text>
<line x1="1003.70" y1="1092.70" x2="1047.00" y2="1092.70" stroke="#111" stroke-width="2"/>
<text x="1023.70" y="1107.20" font-size="15" text-anchor="middle" fill="#333" font-weight="bold">Poly-</text>
<text x="1026.30" y="1124.20" font-size="15" text-anchor="middle" fill="#333" font-weight="bold">styrene</text>
<text x="1087.40" y="1107.20" font-size="15" text-anchor="middle" fill="#333" font-weight="bold">Soft</text>
<text x="1126.80" y="1107.20" font-size="15" text-anchor="middle" fill="#333" font-weight="bold">Mid</text>
<text x="1171.60" y="1107.20" font-size="15" text-anchor="middle" fill="#333" font-weight="bold">Hard</text>
<line x1="1088.90" y1="1111.50" x2="1172.90" y2="1111.50" stroke="#111" stroke-width="2"/>
<text x="1129.10" y="1128.20" font-size="15" text-anchor="middle" fill="#333" font-weight="bold">PDMS</text>
<line x1="1005.00" y1="1134.00" x2="1172.90" y2="1134.00" stroke="#111" stroke-width="2"/>
<text x="1088.90" y="1153.60" font-size="15" text-anchor="middle" fill="#333" font-weight="bold">hGF-M2 cells</text>
</svg></body></html>
